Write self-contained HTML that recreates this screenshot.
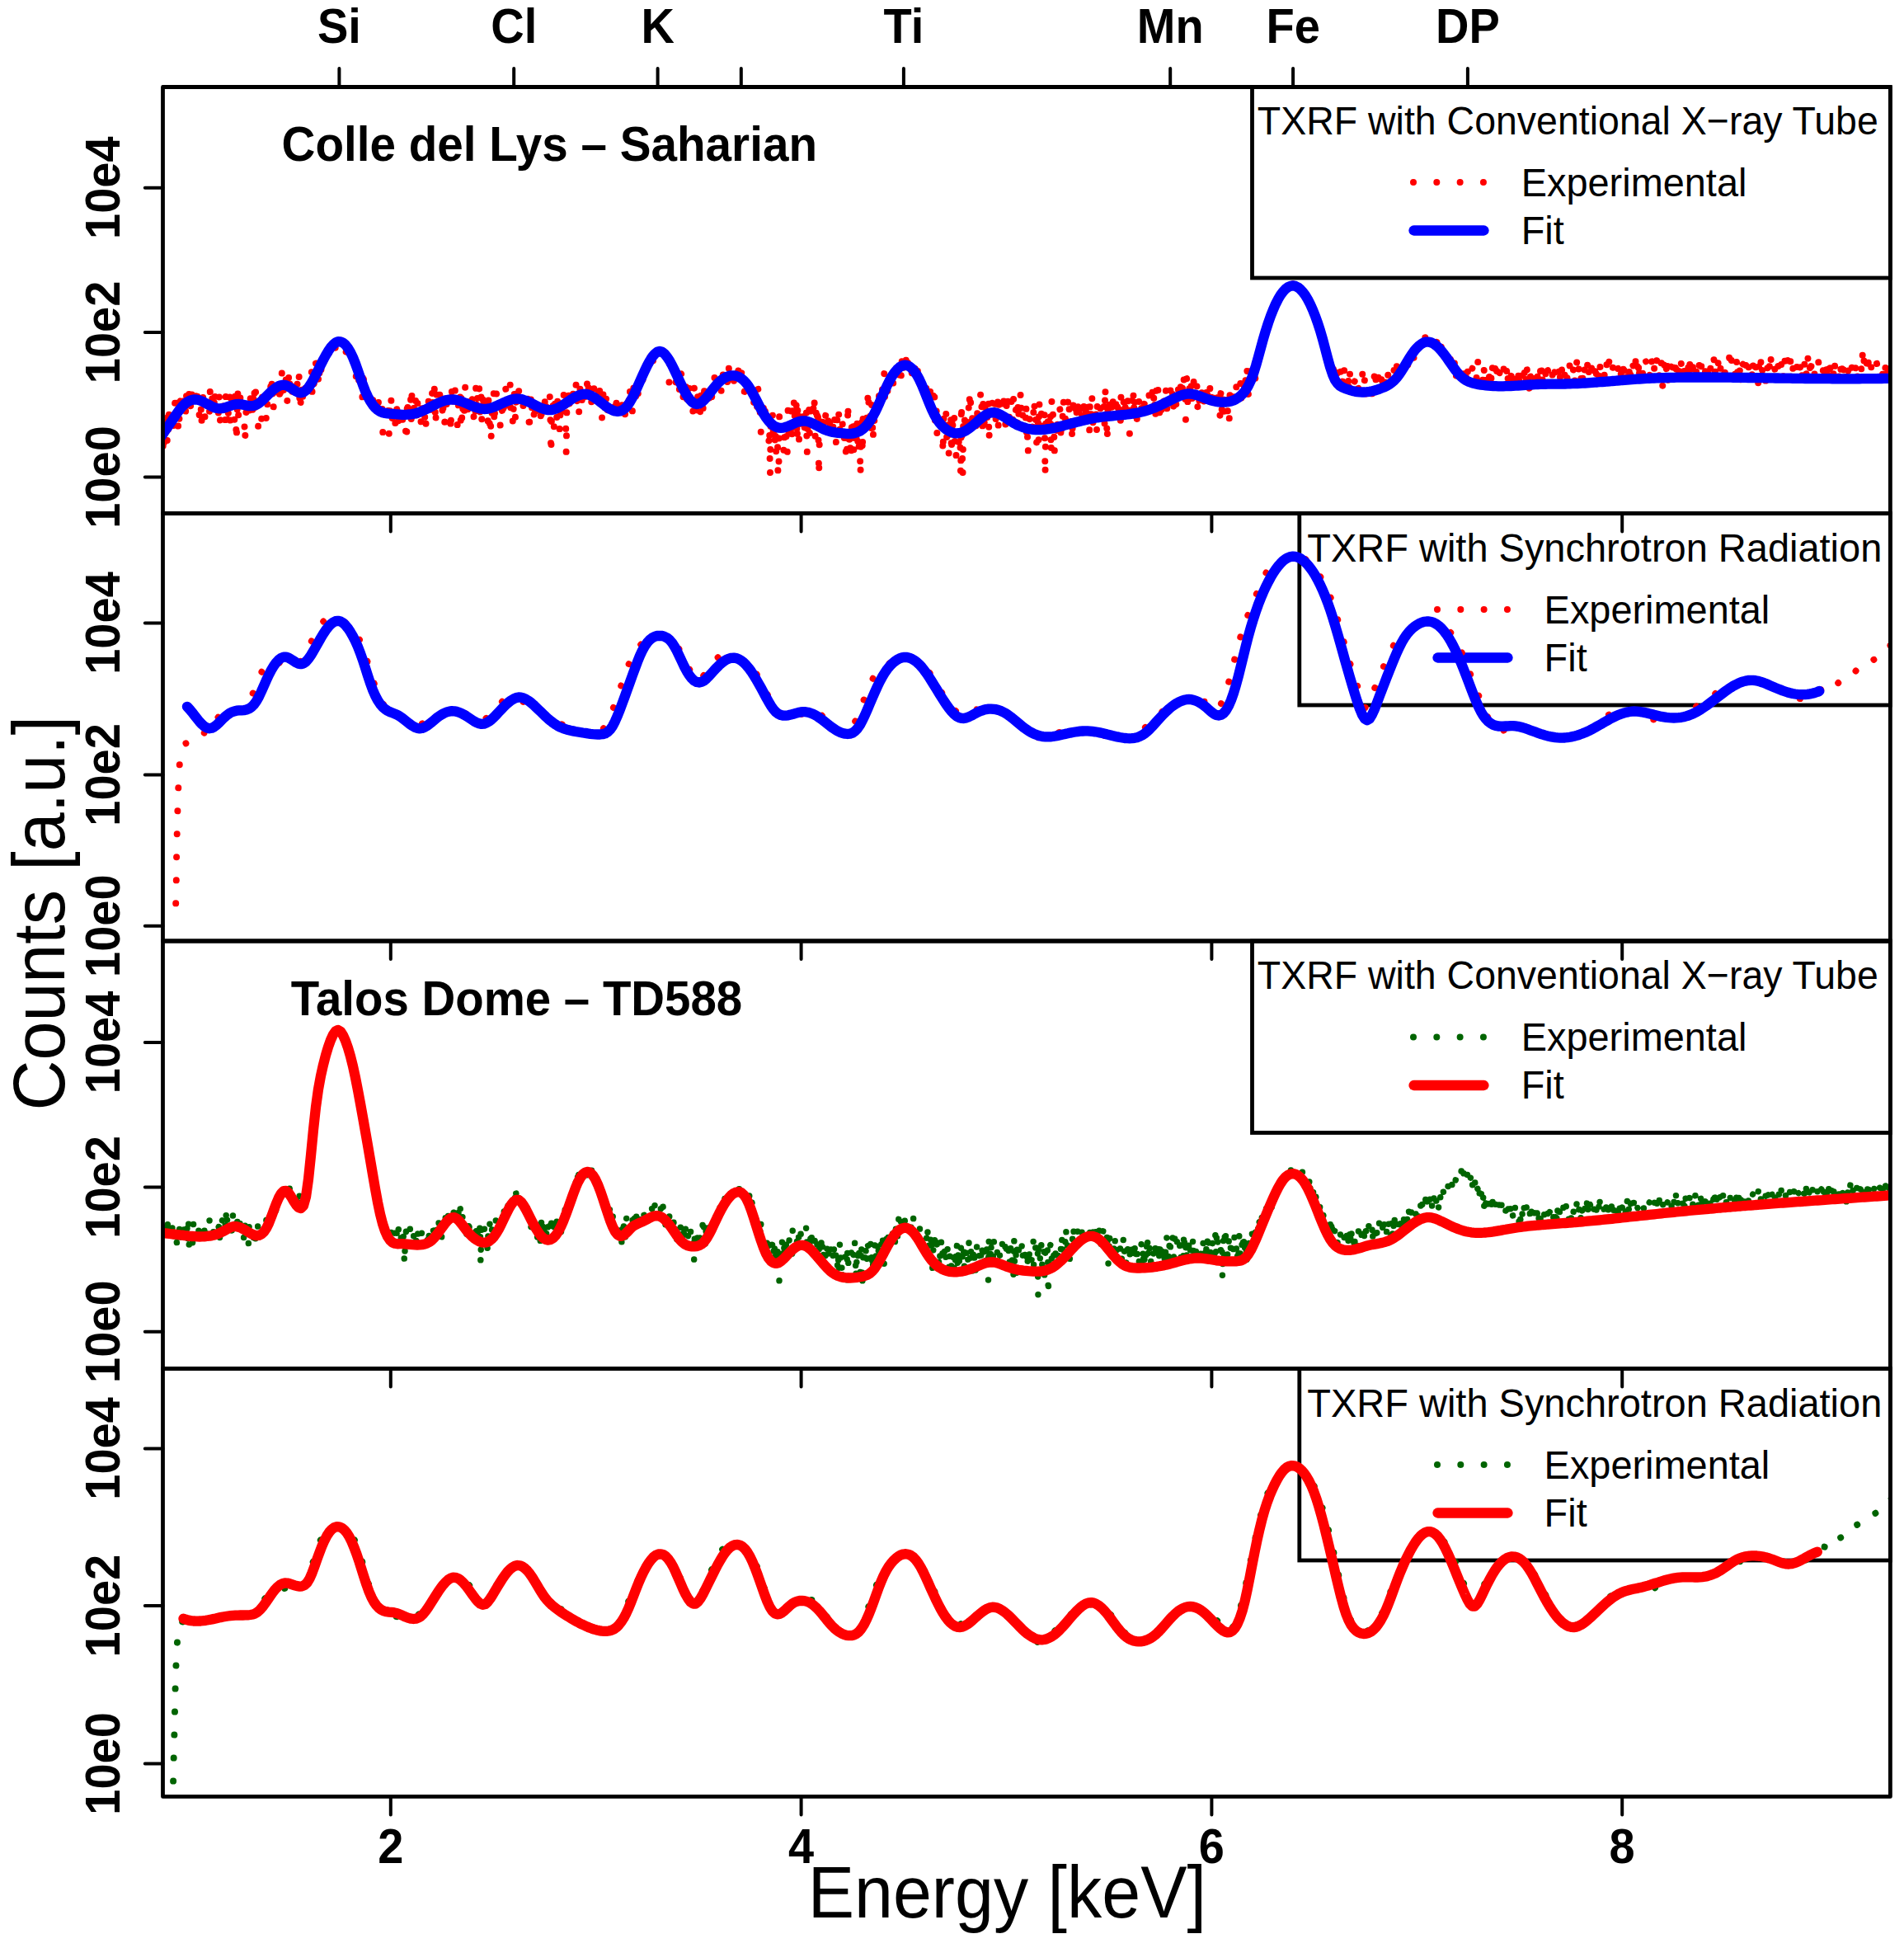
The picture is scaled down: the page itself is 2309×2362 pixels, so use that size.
<!DOCTYPE html>
<html lang="en"><head><meta charset="utf-8"><title>TXRF spectra</title>
<style>html,body{margin:0;padding:0;background:#fff}svg{display:block}</style></head>
<body>
<svg width="2309" height="2362" viewBox="0 0 2309 2362">
<defs>
<clipPath id="c0"><rect x="197.5" y="105.5" width="2094.9" height="517.0"/></clipPath>
<clipPath id="c1"><rect x="197.5" y="622.5" width="2094.9" height="518.5"/></clipPath>
<clipPath id="c2"><rect x="197.5" y="1141.0" width="2094.9" height="518.5"/></clipPath>
<clipPath id="c3"><rect x="197.5" y="1659.5" width="2094.9" height="518.9000000000001"/></clipPath>
</defs>
<rect width="2309" height="2362" fill="#fff"/>
<rect x="1518.5" y="105.5" width="773.9000000000001" height="231.5" fill="none" stroke="#000" stroke-width="4.8"/>
<path d="M1714.0 221.0h85" fill="none" stroke="#ff0000" stroke-width="8" stroke-linecap="round" stroke-dasharray="0.01 28.3"/>
<path d="M1714.5 279.5h85" fill="none" stroke="#0000ff" stroke-width="12.3" stroke-linecap="round"/>
<rect x="1575.8" y="622.5" width="716.6000000000001" height="232.5" fill="none" stroke="#000" stroke-width="4.8"/>
<path d="M1743.0 739.0h85" fill="none" stroke="#ff0000" stroke-width="8" stroke-linecap="round" stroke-dasharray="0.01 28.3"/>
<path d="M1743.5 797.5h85" fill="none" stroke="#0000ff" stroke-width="12.3" stroke-linecap="round"/>
<rect x="1518.5" y="1141.0" width="773.9000000000001" height="232.5" fill="none" stroke="#000" stroke-width="4.8"/>
<path d="M1714.0 1257.5h85" fill="none" stroke="#006400" stroke-width="8" stroke-linecap="round" stroke-dasharray="0.01 28.3"/>
<path d="M1714.5 1316.0h85" fill="none" stroke="#ff0000" stroke-width="12.3" stroke-linecap="round"/>
<rect x="1575.8" y="1659.5" width="716.6000000000001" height="232.5" fill="none" stroke="#000" stroke-width="4.8"/>
<path d="M1743.0 1776.0h85" fill="none" stroke="#006400" stroke-width="8" stroke-linecap="round" stroke-dasharray="0.01 28.3"/>
<path d="M1743.5 1834.5h85" fill="none" stroke="#ff0000" stroke-width="12.3" stroke-linecap="round"/>
<g clip-path="url(#c0)"><path d="M195.5 510.3L196.3 517.2L197.1 504.4L197.9 552.1L198.7 552.1L199.5 517.2L200.3 525.7L201.1 504.4L201.9 517.2L202.7 536.7L203.5 499.3L204.3 525.7L205.1 494.8L205.9 504.4L206.7 525.7L207.5 525.7L208.3 525.7L209.1 494.8L209.9 525.7L210.7 510.3L211.5 510.3L212.3 483.9L213.1 487.2L213.9 510.3L214.7 490.8L215.5 487.2L216.3 525.7L217.1 525.7L217.9 483.9L218.7 487.2L219.5 480.8L220.3 490.8L221.1 494.8L221.9 480.8L222.7 499.3L223.5 480.8L224.3 510.3L225.1 499.3L225.9 475.4L226.7 499.3L227.5 472.9L228.3 478.0L229.1 475.4L229.9 490.8L230.7 483.9L231.5 499.3L232.3 483.9L233.1 470.6L233.9 478.0L234.7 487.2L235.5 475.4L236.3 487.2L237.1 487.2L237.9 472.9L238.7 487.2L239.5 478.0L240.3 487.2L241.1 499.3L241.9 504.4L242.7 499.3L243.5 487.2L244.3 517.2L245.1 494.8L245.9 487.2L246.7 470.6L247.5 490.8L248.3 510.3L249.1 487.2L249.9 487.2L250.7 483.9L251.5 487.2L252.3 490.8L253.1 487.2L253.9 504.4L254.7 472.9L255.5 499.3L256.3 475.4L257.1 480.8L257.9 490.8L258.7 490.8L259.5 499.3L260.3 470.6L261.1 487.2L261.9 487.2L262.7 483.9L263.5 483.9L264.3 490.8L265.1 504.4L265.9 480.8L266.7 504.4L267.5 517.2L268.3 510.3L269.1 483.9L269.9 480.8L270.7 494.8L271.5 490.8L272.3 490.8L273.1 510.3L273.9 475.4L274.7 490.8L275.5 517.2L276.3 490.8L277.1 504.4L277.9 499.3L278.7 480.8L279.5 510.3L280.3 480.8L281.1 487.2L281.9 494.8L282.7 494.8L283.5 483.9L284.3 510.3L285.1 472.9L285.9 499.3L286.7 536.7L287.5 504.4L288.3 472.9L289.1 504.4L289.9 487.2L290.7 490.8L291.5 480.8L292.3 478.0L293.1 480.8L293.9 475.4L294.7 490.8L295.5 490.8L296.3 510.3L297.1 536.7L297.9 510.3L298.7 494.8L299.5 499.3L300.3 499.3L301.1 504.4L301.9 480.8L302.7 504.4L303.5 487.2L304.3 470.6L305.1 499.3L305.9 490.8L306.7 504.4L307.5 483.9L308.3 466.4L309.1 499.3L309.9 470.6L310.7 490.8L311.5 483.9L312.3 494.8L313.1 517.2L313.9 494.8L314.7 490.8L315.5 480.8L316.3 472.9L317.1 510.3L317.9 480.8L318.7 490.8L319.5 478.0L320.3 478.0L321.1 490.8L321.9 478.0L322.7 510.3L323.5 470.6L324.3 490.8L325.1 487.2L325.9 480.8L326.7 475.4L327.5 478.0L328.3 468.4L329.1 480.8L329.9 457.5L330.7 490.8L331.5 499.3L332.3 470.6L333.1 487.2L333.9 472.9L334.7 466.4L335.5 466.4L336.3 460.8L337.1 462.5L337.9 466.4L338.7 468.4L339.5 490.8L340.3 470.6L341.1 472.9L341.9 449.0L342.7 466.4L343.5 472.9L344.3 472.9L345.1 470.6L345.9 453.0L346.7 459.1L347.5 470.6L348.3 487.2L349.1 464.4L349.9 460.8L350.7 447.7L351.5 466.4L352.3 480.8L353.1 478.0L353.9 457.5L354.7 487.2L355.5 468.4L356.3 475.4L357.1 468.4L357.9 475.4L358.7 460.8L359.5 468.4L360.3 462.5L361.1 475.4L361.9 470.6L362.7 455.9L363.5 490.8L364.3 499.3L365.1 472.9L365.9 466.4L366.7 490.8L367.5 470.6L368.3 464.4L369.1 472.9L369.9 472.9L370.7 466.4L371.5 475.4L372.3 464.4L373.1 466.4L373.9 468.4L374.7 468.4L375.5 472.9L376.3 470.6L377.1 466.4L377.9 449.0L378.7 480.8L379.5 483.9L380.3 468.4L381.1 462.5L381.9 460.8L382.7 439.0L383.5 444.2L384.3 455.9L385.1 454.4L385.9 462.5L386.7 442.0L387.5 454.4L388.3 447.7L389.1 457.5L389.9 435.2L390.7 431.1L391.5 429.5L392.3 428.7L393.1 430.3L393.9 437.1L394.7 429.5L395.5 420.7L396.3 434.4L397.1 421.9L397.9 425.9L398.7 422.6L399.5 432.7L400.3 416.1L401.1 433.5L401.9 421.9L402.7 421.3L403.5 416.7L404.3 414.6L405.1 412.6L405.9 405.5L406.7 421.9L407.5 417.8L408.3 413.1L409.1 422.6L409.9 408.4L410.7 420.1L411.5 414.1L412.3 414.1L413.1 415.6L413.9 407.5L414.7 420.1L415.5 423.2L416.3 408.8L417.1 419.5L417.9 419.5L418.7 426.6L419.5 427.3L420.3 422.6L421.1 424.5L421.9 423.2L422.7 418.9L423.5 418.4L424.3 428.0L425.1 423.8L425.9 428.0L426.7 420.1L427.5 434.4L428.3 442.0L429.1 442.0L429.9 430.3L430.7 437.1L431.5 462.5L432.3 444.2L433.1 446.5L433.9 445.3L434.7 472.9L435.5 443.1L436.3 454.4L437.1 445.3L437.9 462.5L438.7 457.5L439.5 483.9L440.3 445.3L441.1 462.5L441.9 472.9L442.7 468.4L443.5 468.4L444.3 478.0L445.1 478.0L445.9 490.8L446.7 483.9L447.5 487.2L448.3 470.6L449.1 483.9L449.9 483.9L450.7 494.8L451.5 499.3L452.3 483.9L453.1 487.2L453.9 487.2L454.7 478.0L455.5 504.4L456.3 504.4L457.1 487.2L457.9 478.0L458.7 490.8L459.5 480.8L460.3 499.3L461.1 494.8L461.9 487.2L462.7 499.3L463.5 494.8L464.3 525.7L465.1 510.3L465.9 499.3L466.7 494.8L467.5 499.3L468.3 510.3L469.1 490.8L469.9 499.3L470.7 494.8L471.5 525.7L472.3 525.7L473.1 494.8L473.9 478.0L474.7 490.8L475.5 510.3L476.3 490.8L477.1 517.2L477.9 494.8L478.7 494.8L479.5 517.2L480.3 510.3L481.1 494.8L481.9 499.3L482.7 517.2L483.5 504.4L484.3 504.4L485.1 510.3L485.9 517.2L486.7 504.4L487.5 494.8L488.3 510.3L489.1 510.3L489.9 494.8L490.7 504.4L491.5 499.3L492.3 536.7L493.1 536.7L493.9 480.8L494.7 499.3L495.5 510.3L496.3 494.8L497.1 494.8L497.9 478.0L498.7 510.3L499.5 478.0L500.3 494.8L501.1 499.3L501.9 494.8L502.7 504.4L503.5 494.8L504.3 480.8L505.1 483.9L505.9 510.3L506.7 480.8L507.5 499.3L508.3 494.8L509.1 490.8L509.9 494.8L510.7 517.2L511.5 504.4L512.3 490.8L513.1 483.9L513.9 504.4L514.7 517.2L515.5 499.3L516.3 517.2L517.1 504.4L517.9 490.8L518.7 499.3L519.5 480.8L520.3 504.4L521.1 483.9L521.9 499.3L522.7 490.8L523.5 494.8L524.3 468.4L525.1 504.4L525.9 480.8L526.7 468.4L527.5 490.8L528.3 517.2L529.1 483.9L529.9 472.9L530.7 470.6L531.5 470.6L532.3 480.8L533.1 475.4L533.9 487.2L534.7 494.8L535.5 499.3L536.3 494.8L537.1 510.3L537.9 475.4L538.7 487.2L539.5 525.7L540.3 472.9L541.1 475.4L541.9 499.3L542.7 487.2L543.5 483.9L544.3 483.9L545.1 483.9L545.9 494.8L546.7 525.7L547.5 464.4L548.3 487.2L549.1 494.8L549.9 478.0L550.7 470.6L551.5 478.0L552.3 466.4L553.1 470.6L553.9 483.9L554.7 517.2L555.5 510.3L556.3 472.9L557.1 478.0L557.9 478.0L558.7 510.3L559.5 480.8L560.3 510.3L561.1 490.8L561.9 510.3L562.7 510.3L563.5 483.9L564.3 466.4L565.1 494.8L565.9 494.8L566.7 483.9L567.5 499.3L568.3 480.8L569.1 490.8L569.9 490.8L570.7 499.3L571.5 490.8L572.3 487.2L573.1 480.8L573.9 487.2L574.7 510.3L575.5 490.8L576.3 510.3L577.1 470.6L577.9 494.8L578.7 472.9L579.5 504.4L580.3 490.8L581.1 470.6L581.9 494.8L582.7 504.4L583.5 480.8L584.3 510.3L585.1 494.8L585.9 472.9L586.7 504.4L587.5 490.8L588.3 487.2L589.1 499.3L589.9 480.8L590.7 478.0L591.5 517.2L592.3 483.9L593.1 494.8L593.9 517.2L594.7 490.8L595.5 536.7L596.3 504.4L597.1 494.8L597.9 494.8L598.7 475.4L599.5 517.2L600.3 490.8L601.1 483.9L601.9 475.4L602.7 490.8L603.5 494.8L604.3 494.8L605.1 499.3L605.9 490.8L606.7 517.2L607.5 517.2L608.3 494.8L609.1 499.3L609.9 483.9L610.7 499.3L611.5 483.9L612.3 494.8L613.1 470.6L613.9 475.4L614.7 483.9L615.5 478.0L616.3 478.0L617.1 490.8L617.9 487.2L618.7 466.4L619.5 504.4L620.3 478.0L621.1 470.6L621.9 517.2L622.7 494.8L623.5 472.9L624.3 487.2L625.1 510.3L625.9 487.2L626.7 490.8L627.5 494.8L628.3 480.8L629.1 475.4L629.9 464.4L630.7 470.6L631.5 478.0L632.3 487.2L633.1 478.0L633.9 483.9L634.7 494.8L635.5 494.8L636.3 483.9L637.1 490.8L637.9 478.0L638.7 480.8L639.5 472.9L640.3 487.2L641.1 494.8L641.9 525.7L642.7 490.8L643.5 490.8L644.3 475.4L645.1 494.8L645.9 487.2L646.7 504.4L647.5 504.4L648.3 487.2L649.1 499.3L649.9 487.2L650.7 499.3L651.5 494.8L652.3 490.8L653.1 483.9L653.9 499.3L654.7 487.2L655.5 499.3L656.3 517.2L657.1 483.9L657.9 490.8L658.7 499.3L659.5 504.4L660.3 499.3L661.1 478.0L661.9 494.8L662.7 490.8L663.5 494.8L664.3 490.8L665.1 490.8L665.9 490.8L666.7 478.0L667.5 510.3L668.3 552.1L669.1 494.8L669.9 499.3L670.7 490.8L671.5 517.2L672.3 517.2L673.1 483.9L673.9 487.2L674.7 499.3L675.5 510.3L676.3 480.8L677.1 475.4L677.9 483.9L678.7 525.7L679.5 499.3L680.3 487.2L681.1 494.8L681.9 499.3L682.7 490.8L683.5 475.4L684.3 494.8L685.1 487.2L685.9 499.3L686.7 552.1L687.5 487.2L688.3 490.8L689.1 487.2L689.9 470.6L690.7 494.8L691.5 499.3L692.3 475.4L693.1 475.4L693.9 487.2L694.7 480.8L695.5 470.6L696.3 487.2L697.1 478.0L697.9 483.9L698.7 462.5L699.5 480.8L700.3 499.3L701.1 478.0L701.9 499.3L702.7 499.3L703.5 470.6L704.3 490.8L705.1 490.8L705.9 483.9L706.7 468.4L707.5 475.4L708.3 483.9L709.1 470.6L709.9 487.2L710.7 480.8L711.5 475.4L712.3 459.1L713.1 475.4L713.9 468.4L714.7 470.6L715.5 472.9L716.3 480.8L717.1 490.8L717.9 472.9L718.7 475.4L719.5 478.0L720.3 470.6L721.1 480.8L721.9 478.0L722.7 487.2L723.5 483.9L724.3 483.9L725.1 494.8L725.9 478.0L726.7 460.8L727.5 480.8L728.3 472.9L729.1 494.8L729.9 510.3L730.7 487.2L731.5 478.0L732.3 472.9L733.1 472.9L733.9 494.8L734.7 475.4L735.5 490.8L736.3 504.4L737.1 487.2L737.9 490.8L738.7 499.3L739.5 480.8L740.3 504.4L741.1 490.8L741.9 510.3L742.7 510.3L743.5 504.4L744.3 490.8L745.1 480.8L745.9 504.4L746.7 504.4L747.5 487.2L748.3 483.9L749.1 478.0L749.9 494.8L750.7 499.3L751.5 499.3L752.3 490.8L753.1 487.2L753.9 483.9L754.7 499.3L755.5 499.3L756.3 504.4L757.1 510.3L757.9 504.4L758.7 487.2L759.5 494.8L760.3 487.2L761.1 499.3L761.9 494.8L762.7 480.8L763.5 466.4L764.3 480.8L765.1 470.6L765.9 480.8L766.7 504.4L767.5 478.0L768.3 470.6L769.1 478.0L769.9 487.2L770.7 478.0L771.5 483.9L772.3 468.4L773.1 472.9L773.9 478.0L774.7 475.4L775.5 457.5L776.3 457.5L777.1 459.1L777.9 459.1L778.7 459.1L779.5 460.8L780.3 455.9L781.1 443.1L781.9 451.6L782.7 440.0L783.5 442.0L784.3 446.5L785.1 440.0L785.9 443.1L786.7 425.9L787.5 450.2L788.3 425.9L789.1 432.7L789.9 433.5L790.7 430.3L791.5 429.5L792.3 442.0L793.1 433.5L793.9 434.4L794.7 429.5L795.5 427.3L796.3 423.8L797.1 425.2L797.9 426.6L798.7 424.5L799.5 425.2L800.3 420.1L801.1 423.2L801.9 429.5L802.7 428.7L803.5 431.1L804.3 424.5L805.1 433.5L805.9 423.8L806.7 430.3L807.5 425.2L808.3 431.1L809.1 431.1L809.9 426.6L810.7 424.5L811.5 466.4L812.3 436.1L813.1 438.0L813.9 445.3L814.7 445.3L815.5 445.3L816.3 446.5L817.1 449.0L817.9 451.6L818.7 442.0L819.5 464.4L820.3 444.2L821.1 468.4L821.9 455.9L822.7 462.5L823.5 478.0L824.3 466.4L825.1 470.6L825.9 453.0L826.7 454.4L827.5 464.4L828.3 478.0L829.1 490.8L829.9 483.9L830.7 468.4L831.5 480.8L832.3 462.5L833.1 490.8L833.9 490.8L834.7 487.2L835.5 480.8L836.3 462.5L837.1 480.8L837.9 499.3L838.7 499.3L839.5 494.8L840.3 499.3L841.1 483.9L841.9 470.6L842.7 494.8L843.5 487.2L844.3 504.4L845.1 480.8L845.9 475.4L846.7 499.3L847.5 494.8L848.3 499.3L849.1 499.3L849.9 475.4L850.7 494.8L851.5 483.9L852.3 504.4L853.1 483.9L853.9 470.6L854.7 483.9L855.5 483.9L856.3 478.0L857.1 478.0L857.9 475.4L858.7 494.8L859.5 466.4L860.3 483.9L861.1 475.4L861.9 483.9L862.7 487.2L863.5 478.0L864.3 466.4L865.1 466.4L865.9 468.4L866.7 454.4L867.5 472.9L868.3 466.4L869.1 466.4L869.9 459.1L870.7 453.0L871.5 468.4L872.3 468.4L873.1 468.4L873.9 459.1L874.7 475.4L875.5 478.0L876.3 462.5L877.1 449.0L877.9 454.4L878.7 459.1L879.5 464.4L880.3 451.6L881.1 455.9L881.9 468.4L882.7 450.2L883.5 441.0L884.3 454.4L885.1 454.4L885.9 447.7L886.7 453.0L887.5 457.5L888.3 451.6L889.1 444.2L889.9 460.8L890.7 472.9L891.5 466.4L892.3 450.2L893.1 457.5L893.9 460.8L894.7 454.4L895.5 447.7L896.3 459.1L897.1 462.5L897.9 462.5L898.7 455.9L899.5 450.2L900.3 451.6L901.1 457.5L901.9 468.4L902.7 475.4L903.5 470.6L904.3 470.6L905.1 466.4L905.9 460.8L906.7 464.4L907.5 466.4L908.3 472.9L909.1 470.6L909.9 475.4L910.7 475.4L911.5 483.9L912.3 472.9L913.1 475.4L913.9 494.8L914.7 472.9L915.5 490.8L916.3 490.8L917.1 487.2L917.9 499.3L918.7 468.4L919.5 472.9L920.3 478.0L921.1 483.9L921.9 504.4L922.7 525.7L923.5 490.8L924.3 494.8L925.1 504.4L925.9 494.8L926.7 510.3L927.5 510.3L928.3 487.2L929.1 504.4L929.9 499.3L930.7 504.4L931.5 499.3L932.3 536.7L933.1 517.2L933.9 578.5L934.7 510.3L935.5 517.2L936.3 517.2L937.1 499.3L937.9 536.7L938.7 517.2L939.5 536.7L940.3 517.2L941.1 552.1L941.9 517.2L942.7 517.2L943.5 578.5L944.3 578.5L945.1 504.4L945.9 525.7L946.7 504.4L947.5 510.3L948.3 510.3L949.1 525.7L949.9 536.7L950.7 552.1L951.5 517.2L952.3 525.7L953.1 510.3L953.9 552.1L954.7 552.1L955.5 494.8L956.3 525.7L957.1 525.7L957.9 510.3L958.7 499.3L959.5 494.8L960.3 536.7L961.1 494.8L961.9 499.3L962.7 483.9L963.5 510.3L964.3 490.8L965.1 483.9L965.9 494.8L966.7 536.7L967.5 487.2L968.3 504.4L969.1 536.7L969.9 536.7L970.7 510.3L971.5 499.3L972.3 517.2L973.1 504.4L973.9 499.3L974.7 510.3L975.5 525.7L976.3 499.3L977.1 517.2L977.9 499.3L978.7 552.1L979.5 517.2L980.3 517.2L981.1 494.8L981.9 525.7L982.7 517.2L983.5 483.9L984.3 499.3L985.1 504.4L985.9 510.3L986.7 487.2L987.5 478.0L988.3 536.7L989.1 517.2L989.9 494.8L990.7 510.3L991.5 490.8L992.3 517.2L993.1 578.5L993.9 525.7L994.7 510.3L995.5 517.2L996.3 510.3L997.1 504.4L997.9 525.7L998.7 525.7L999.5 499.3L1000.3 494.8L1001.1 504.4L1001.9 499.3L1002.7 517.2M1004.3 510.3L1005.1 525.7L1005.9 517.2L1006.7 504.4L1007.5 525.7L1008.3 525.7L1009.1 517.2L1009.9 525.7L1010.7 510.3L1011.5 499.3L1012.3 510.3L1013.1 510.3L1013.9 536.7L1014.7 525.7L1015.5 504.4L1016.3 525.7L1017.1 499.3L1017.9 525.7L1018.7 517.2L1019.5 517.2L1020.3 517.2L1021.1 504.4L1021.9 517.2L1022.7 525.7L1023.5 536.7L1024.3 525.7L1025.1 525.7L1025.9 552.1L1026.7 536.7L1027.5 552.1L1028.3 487.2L1029.1 536.7L1029.9 525.7L1030.7 552.1L1031.5 536.7L1032.3 552.1L1033.1 499.3M1034.7 517.2L1035.5 552.1L1036.3 510.3L1037.1 517.2L1037.9 510.3L1038.7 536.7L1039.5 510.3L1040.3 536.7L1041.1 552.1L1041.9 536.7L1042.7 536.7L1043.5 578.5L1044.3 499.3L1045.1 499.3L1045.9 552.1L1046.7 494.8L1047.5 510.3L1048.3 499.3L1049.1 510.3L1049.9 510.3L1050.7 510.3L1051.5 499.3L1052.3 480.8L1053.1 499.3L1053.9 475.4M1055.5 504.4L1056.3 525.7L1057.1 490.8L1057.9 510.3L1058.7 536.7L1059.5 504.4L1060.3 510.3L1061.1 504.4L1061.9 510.3L1062.7 480.8L1063.5 499.3L1064.3 490.8L1065.1 483.9L1065.9 478.0L1066.7 499.3L1067.5 490.8L1068.3 480.8L1069.1 483.9L1069.9 470.6L1070.7 490.8L1071.5 464.4L1072.3 453.0L1073.1 483.9L1073.9 468.4L1074.7 468.4L1075.5 472.9L1076.3 475.4L1077.1 457.5L1077.9 460.8L1078.7 457.5L1079.5 459.1L1080.3 455.9L1081.1 454.4L1081.9 446.5L1082.7 457.5L1083.5 468.4L1084.3 447.7L1085.1 464.4L1085.9 446.5L1086.7 462.5L1087.5 451.6L1088.3 464.4L1089.1 453.0L1089.9 454.4L1090.7 447.7L1091.5 441.0L1092.3 444.2L1093.1 460.8L1093.9 431.1L1094.7 441.0L1095.5 438.0L1096.3 447.7L1097.1 439.0L1097.9 446.5L1098.7 436.1L1099.5 451.6L1100.3 450.2L1101.1 438.0L1101.9 442.0L1102.7 453.0L1103.5 447.7L1104.3 449.0L1105.1 449.0L1105.9 453.0L1106.7 449.0L1107.5 454.4L1108.3 446.5L1109.1 451.6L1109.9 445.3L1110.7 457.5L1111.5 454.4L1112.3 457.5L1113.1 446.5L1113.9 439.0L1114.7 468.4L1115.5 464.4L1116.3 457.5L1117.1 478.0L1117.9 462.5L1118.7 464.4L1119.5 475.4L1120.3 466.4L1121.1 475.4L1121.9 483.9L1122.7 478.0L1123.5 468.4L1124.3 483.9L1125.1 480.8L1125.9 494.8L1126.7 490.8L1127.5 490.8L1128.3 470.6L1129.1 472.9L1129.9 504.4L1130.7 510.3L1131.5 475.4L1132.3 483.9L1133.1 470.6L1133.9 510.3L1134.7 499.3L1135.5 490.8L1136.3 525.7L1137.1 510.3L1137.9 510.3L1138.7 510.3L1139.5 517.2L1140.3 517.2L1141.1 517.2L1141.9 499.3L1142.7 504.4L1143.5 552.1L1144.3 510.3L1145.1 499.3L1145.9 517.2L1146.7 494.8L1147.5 504.4L1148.3 536.7L1149.1 517.2L1149.9 504.4L1150.7 552.1L1151.5 525.7L1152.3 504.4L1153.1 504.4L1153.9 552.1L1154.7 499.3L1155.5 517.2L1156.3 517.2L1157.1 499.3L1157.9 536.7M1159.5 552.1L1160.3 525.7L1161.1 517.2L1161.9 517.2L1162.7 536.7L1163.5 525.7L1164.3 525.7L1165.1 578.5L1165.9 487.2L1166.7 536.7L1167.5 578.5L1168.3 504.4L1169.1 499.3L1169.9 510.3L1170.7 517.2L1171.5 525.7L1172.3 499.3L1173.1 499.3L1173.9 517.2L1174.7 494.8L1175.5 475.4L1176.3 499.3L1177.1 487.2L1177.9 525.7L1178.7 517.2L1179.5 499.3L1180.3 504.4L1181.1 510.3L1181.9 504.4L1182.7 517.2L1183.5 525.7L1184.3 494.8L1185.1 499.3L1185.9 517.2L1186.7 517.2L1187.5 499.3L1188.3 499.3L1189.1 478.0L1189.9 499.3L1190.7 490.8L1191.5 517.2L1192.3 487.2L1193.1 494.8L1193.9 517.2L1194.7 490.8L1195.5 504.4L1196.3 510.3L1197.1 510.3L1197.9 487.2L1198.7 483.9L1199.5 536.7L1200.3 490.8L1201.1 487.2L1201.9 490.8L1202.7 483.9L1203.5 490.8L1204.3 483.9L1205.1 494.8L1205.9 510.3L1206.7 487.2L1207.5 510.3L1208.3 494.8L1209.1 490.8L1209.9 483.9L1210.7 517.2L1211.5 490.8L1212.3 487.2L1213.1 490.8L1213.9 494.8L1214.7 483.9L1215.5 499.3L1216.3 487.2L1217.1 483.9L1217.9 494.8L1218.7 504.4L1219.5 517.2L1220.3 504.4L1221.1 475.4L1221.9 480.8L1222.7 494.8L1223.5 510.3L1224.3 499.3L1225.1 494.8L1225.9 499.3L1226.7 483.9L1227.5 487.2L1228.3 510.3L1229.1 483.9L1229.9 494.8L1230.7 504.4L1231.5 499.3L1232.3 494.8L1233.1 490.8L1233.9 517.2L1234.7 483.9L1235.5 504.4L1236.3 494.8L1237.1 487.2L1237.9 472.9L1238.7 504.4L1239.5 494.8L1240.3 504.4L1241.1 517.2L1241.9 525.7L1242.7 504.4L1243.5 525.7L1244.3 487.2L1245.1 536.7L1245.9 525.7L1246.7 552.1L1247.5 510.3L1248.3 499.3L1249.1 517.2L1249.9 517.2L1250.7 517.2L1251.5 525.7L1252.3 525.7L1253.1 494.8L1253.9 510.3L1254.7 487.2L1255.5 487.2L1256.3 517.2L1257.1 536.7L1257.9 517.2L1258.7 510.3L1259.5 536.7L1260.3 483.9L1261.1 517.2L1261.9 504.4L1262.7 494.8L1263.5 525.7L1264.3 525.7L1265.1 510.3L1265.9 510.3L1266.7 499.3L1267.5 578.5L1268.3 499.3L1269.1 499.3L1269.9 499.3L1270.7 510.3L1271.5 517.2L1272.3 525.7L1273.1 499.3L1273.9 494.8L1274.7 552.1L1275.5 480.8L1276.3 494.8L1277.1 504.4L1277.9 504.4L1278.7 552.1L1279.5 510.3L1280.3 525.7L1281.1 525.7L1281.9 504.4L1282.7 517.2L1283.5 494.8L1284.3 494.8L1285.1 494.8L1285.9 499.3L1286.7 536.7L1287.5 499.3L1288.3 499.3L1289.1 510.3L1289.9 483.9L1290.7 490.8L1291.5 504.4L1292.3 510.3L1293.1 525.7L1293.9 517.2L1294.7 504.4L1295.5 478.0L1296.3 490.8L1297.1 504.4L1297.9 504.4L1298.7 517.2L1299.5 504.4L1300.3 536.7L1301.1 494.8L1301.9 487.2L1302.7 510.3L1303.5 517.2L1304.3 490.8L1305.1 483.9L1305.9 510.3L1306.7 510.3L1307.5 487.2L1308.3 504.4L1309.1 483.9L1309.9 490.8L1310.7 504.4L1311.5 494.8L1312.3 504.4L1313.1 490.8L1313.9 499.3L1314.7 487.2L1315.5 499.3L1316.3 504.4L1317.1 499.3L1317.9 504.4L1318.7 510.3L1319.5 483.9L1320.3 490.8L1321.1 525.7L1321.9 487.2L1322.7 483.9L1323.5 504.4L1324.3 480.8L1325.1 525.7L1325.9 499.3L1326.7 504.4L1327.5 504.4L1328.3 499.3L1329.1 499.3L1329.9 525.7L1330.7 490.8L1331.5 504.4L1332.3 510.3L1333.1 494.8L1333.9 504.4L1334.7 490.8L1335.5 494.8L1336.3 510.3L1337.1 499.3L1337.9 504.4L1338.7 490.8L1339.5 517.2L1340.3 466.4L1341.1 510.3L1341.9 504.4L1342.7 536.7L1343.5 494.8L1344.3 480.8L1345.1 480.8L1345.9 499.3L1346.7 490.8L1347.5 494.8L1348.3 490.8L1349.1 504.4L1349.9 480.8L1350.7 483.9L1351.5 494.8L1352.3 510.3L1353.1 494.8L1353.9 478.0L1354.7 490.8L1355.5 494.8L1356.3 510.3L1357.1 483.9L1357.9 494.8L1358.7 517.2L1359.5 478.0L1360.3 504.4L1361.1 494.8L1361.9 499.3L1362.7 487.2L1363.5 494.8L1364.3 504.4L1365.1 480.8L1365.9 483.9L1366.7 490.8L1367.5 487.2L1368.3 478.0L1369.1 490.8L1369.9 525.7L1370.7 487.2L1371.5 494.8L1372.3 494.8L1373.1 483.9L1373.9 494.8L1374.7 472.9L1375.5 504.4L1376.3 487.2L1377.1 510.3L1377.9 494.8L1378.7 510.3L1379.5 490.8L1380.3 490.8L1381.1 483.9L1381.9 504.4L1382.7 504.4L1383.5 499.3L1384.3 494.8L1385.1 504.4L1385.9 510.3L1386.7 480.8L1387.5 490.8L1388.3 487.2L1389.1 483.9L1389.9 480.8L1390.7 483.9L1391.5 494.8L1392.3 499.3L1393.1 475.4L1393.9 483.9L1394.7 490.8L1395.5 490.8L1396.3 490.8L1397.1 478.0L1397.9 472.9L1398.7 504.4L1399.5 472.9L1400.3 494.8L1401.1 510.3L1401.9 480.8L1402.7 466.4L1403.5 475.4L1404.3 468.4L1405.1 494.8L1405.9 494.8L1406.7 510.3L1407.5 480.8L1408.3 499.3L1409.1 480.8L1409.9 480.8L1410.7 480.8L1411.5 487.2L1412.3 483.9L1413.1 490.8L1413.9 472.9L1414.7 470.6L1415.5 504.4L1416.3 494.8L1417.1 483.9L1417.9 472.9L1418.7 494.8L1419.5 470.6L1420.3 464.4L1421.1 478.0L1421.9 475.4L1422.7 499.3L1423.5 487.2L1424.3 483.9L1425.1 487.2L1425.9 480.8L1426.7 499.3L1427.5 487.2L1428.3 462.5L1429.1 475.4L1429.9 478.0L1430.7 470.6L1431.5 462.5L1432.3 483.9L1433.1 480.8L1433.9 472.9L1434.7 451.6L1435.5 457.5L1436.3 470.6L1437.1 468.4L1437.9 510.3L1438.7 455.9L1439.5 462.5L1440.3 487.2L1441.1 478.0L1441.9 483.9L1442.7 460.8L1443.5 472.9L1444.3 472.9L1445.1 462.5L1445.9 483.9L1446.7 466.4L1447.5 459.1L1448.3 483.9L1449.1 460.8L1449.9 460.8L1450.7 459.1L1451.5 468.4L1452.3 494.8L1453.1 478.0L1453.9 475.4L1454.7 494.8L1455.5 487.2L1456.3 480.8L1457.1 478.0L1457.9 470.6L1458.7 483.9L1459.5 480.8L1460.3 487.2L1461.1 470.6L1461.9 468.4L1462.7 468.4L1463.5 490.8L1464.3 466.4L1465.1 487.2L1465.9 472.9L1466.7 490.8L1467.5 466.4L1468.3 462.5L1469.1 483.9L1469.9 483.9L1470.7 470.6L1471.5 483.9L1472.3 472.9L1473.1 470.6L1473.9 487.2L1474.7 487.2L1475.5 472.9L1476.3 475.4L1477.1 483.9L1477.9 480.8L1478.7 487.2L1479.5 504.4L1480.3 478.0L1481.1 472.9L1481.9 504.4L1482.7 483.9L1483.5 478.0L1484.3 499.3L1485.1 478.0L1485.9 480.8L1486.7 490.8L1487.5 483.9L1488.3 483.9L1489.1 504.4L1489.9 483.9L1490.7 510.3L1491.5 478.0L1492.3 472.9L1493.1 490.8L1493.9 480.8L1494.7 472.9L1495.5 483.9L1496.3 475.4L1497.1 472.9L1497.9 480.8L1498.7 478.0L1499.5 466.4L1500.3 472.9L1501.1 468.4L1501.9 487.2L1502.7 487.2L1503.5 480.8L1504.3 464.4L1505.1 487.2L1505.9 466.4L1506.7 464.4L1507.5 460.8L1508.3 468.4L1509.1 478.0L1509.9 466.4L1510.7 459.1L1511.5 466.4L1512.3 449.0L1513.1 459.1L1513.9 478.0L1514.7 450.2L1515.5 454.4L1516.3 462.5L1517.1 457.5L1517.9 454.4L1518.7 453.0L1519.5 462.5L1520.3 450.2L1521.1 450.2L1521.9 449.0L1522.7 466.4L1523.5 445.3L1524.3 426.6L1525.1 445.3L1525.9 428.0L1526.7 428.7L1527.5 423.2L1528.3 418.4L1529.1 423.8L1529.9 416.7L1530.7 416.7L1531.5 405.9L1532.3 403.5L1533.1 403.9L1533.9 403.5L1534.7 408.0L1535.5 391.1L1536.3 391.1L1537.1 396.2L1537.9 397.8L1538.7 387.2L1539.5 382.7L1540.3 379.1L1541.1 384.3L1541.9 382.2L1542.7 375.6L1543.5 378.5L1544.3 372.0L1545.1 372.4L1545.9 372.0L1546.7 372.9L1547.5 370.7L1548.3 363.7L1549.1 365.3L1549.9 365.4L1550.7 360.8L1551.5 359.3L1552.3 356.0L1553.1 360.9L1553.9 357.4L1554.7 352.9L1555.5 355.4L1556.3 352.2L1557.1 350.5L1557.9 349.0L1558.7 350.7L1559.5 353.2L1560.3 346.8L1561.1 346.2L1561.9 352.0L1562.7 347.3L1563.5 347.1L1564.3 347.4L1565.1 344.1L1565.9 343.1L1566.7 346.4L1567.5 342.9L1568.3 350.0L1569.1 345.5L1569.9 342.8L1570.7 344.8L1571.5 345.1L1572.3 350.3L1573.1 348.3L1573.9 349.6L1574.7 349.4L1575.5 348.6L1576.3 347.4L1577.1 349.0L1577.9 351.3L1578.7 354.3L1579.5 353.3L1580.3 352.7L1581.1 354.1L1581.9 357.7L1582.7 356.7L1583.5 359.5L1584.3 356.7L1585.1 362.5L1585.9 364.0L1586.7 363.7L1587.5 366.0L1588.3 367.6L1589.1 367.1L1589.9 371.0L1590.7 375.6L1591.5 377.9L1592.3 381.8L1593.1 380.7L1593.9 379.3L1594.7 380.1L1595.5 384.0L1596.3 388.4L1597.1 382.9L1597.9 390.3L1598.7 394.6L1599.5 396.2L1600.3 404.3L1601.1 400.5L1601.9 400.9L1602.7 410.2L1603.5 409.7L1604.3 406.7L1605.1 420.7L1605.9 415.6L1606.7 416.1L1607.5 423.8L1608.3 419.5L1609.1 421.9L1609.9 425.2L1610.7 443.1L1611.5 437.1L1612.3 450.2L1613.1 451.6L1613.9 443.1L1614.7 457.5L1615.5 447.7L1616.3 445.3L1617.1 447.7L1617.9 453.0L1618.7 454.4L1619.5 446.5L1620.3 468.4L1621.1 451.6L1621.9 453.0L1622.7 450.2L1623.5 462.5L1624.3 460.8L1625.1 460.8L1625.9 450.2L1626.7 457.5L1627.5 470.6L1628.3 462.5L1629.1 454.4L1629.9 442.0L1630.7 462.5L1631.5 470.6L1632.3 460.8L1633.1 470.6L1633.9 460.8L1634.7 478.0L1635.5 451.6L1636.3 475.4L1637.1 451.6L1637.9 470.6L1638.7 475.4L1639.5 470.6L1640.3 475.4L1641.1 460.8L1641.9 464.4L1642.7 462.5L1643.5 459.1L1644.3 457.5L1645.1 470.6L1645.9 470.6L1646.7 466.4L1647.5 472.9L1648.3 475.4L1649.1 475.4L1649.9 472.9L1650.7 472.9L1651.5 466.4L1652.3 453.0L1653.1 470.6L1653.9 466.4L1654.7 462.5L1655.5 455.9L1656.3 478.0L1657.1 475.4L1657.9 472.9L1658.7 462.5L1659.5 466.4L1660.3 480.8L1661.1 475.4L1661.9 475.4L1662.7 468.4L1663.5 470.6L1664.3 480.8L1665.1 468.4L1665.9 462.5L1666.7 455.9L1667.5 470.6L1668.3 459.1L1669.1 466.4L1669.9 468.4L1670.7 472.9L1671.5 457.5L1672.3 462.5L1673.1 470.6L1673.9 464.4L1674.7 466.4L1675.5 457.5L1676.3 472.9L1677.1 460.8L1677.9 464.4L1678.7 466.4L1679.5 455.9L1680.3 464.4L1681.1 462.5L1681.9 453.0L1682.7 462.5L1683.5 451.6L1684.3 455.9L1685.1 455.9L1685.9 457.5L1686.7 460.8L1687.5 468.4L1688.3 460.8L1689.1 468.4L1689.9 453.0L1690.7 447.7L1691.5 449.0L1692.3 459.1L1693.1 451.6L1693.9 444.2L1694.7 455.9L1695.5 444.2L1696.3 449.0L1697.1 445.3L1697.9 434.4L1698.7 450.2L1699.5 449.0L1700.3 444.2L1701.1 441.0L1701.9 438.0L1702.7 443.1L1703.5 444.2L1704.3 443.1L1705.1 434.4L1705.9 439.0L1706.7 431.1L1707.5 446.5L1708.3 431.1L1709.1 428.7L1709.9 431.9L1710.7 426.6L1711.5 417.8L1712.3 425.9L1713.1 426.6L1713.9 429.5L1714.7 435.2L1715.5 427.3L1716.3 421.9L1717.1 423.8L1717.9 428.0L1718.7 415.6L1719.5 411.1L1720.3 413.1L1721.1 408.0L1721.9 414.6L1722.7 420.1L1723.5 412.1L1724.3 409.3L1725.1 410.7L1725.9 410.2L1726.7 415.1L1727.5 410.7L1728.3 408.4L1729.1 415.6L1729.9 416.1L1730.7 415.1L1731.5 418.9L1732.3 413.6L1733.1 412.1L1733.9 408.4L1734.7 417.2L1735.5 409.3L1736.3 416.7L1737.1 418.9L1737.9 417.8L1738.7 419.5L1739.5 408.4L1740.3 411.6L1741.1 408.0L1741.9 417.8L1742.7 413.1L1743.5 416.7L1744.3 419.5L1745.1 421.3L1745.9 418.9L1746.7 423.2L1747.5 416.7L1748.3 427.3L1749.1 423.8L1749.9 428.7L1750.7 425.9L1751.5 433.5L1752.3 428.0L1753.1 429.5L1753.9 431.9L1754.7 427.3L1755.5 424.5L1756.3 431.9L1757.1 431.9L1757.9 432.7L1758.7 433.5L1759.5 438.0L1760.3 438.0L1761.1 449.0L1761.9 451.6L1762.7 450.2L1763.5 446.5L1764.3 434.4L1765.1 436.1L1765.9 455.9L1766.7 451.6L1767.5 443.1L1768.3 449.0L1769.1 447.7L1769.9 455.9L1770.7 447.7L1771.5 460.8L1772.3 454.4L1773.1 444.2L1773.9 450.2L1774.7 457.5L1775.5 446.5L1776.3 453.0L1777.1 447.7L1777.9 459.1L1778.7 447.7L1779.5 442.0L1780.3 460.8L1781.1 455.9L1781.9 454.4L1782.7 453.0L1783.5 454.4L1784.3 449.0L1785.1 447.7L1785.9 445.3L1786.7 451.6L1787.5 449.0L1788.3 453.0L1789.1 449.0L1789.9 450.2L1790.7 459.1L1791.5 462.5L1792.3 437.1L1793.1 450.2L1793.9 450.2L1794.7 462.5L1795.5 462.5L1796.3 464.4L1797.1 450.2L1797.9 457.5L1798.7 466.4L1799.5 446.5L1800.3 455.9L1801.1 462.5L1801.9 454.4L1802.7 464.4L1803.5 454.4L1804.3 449.0L1805.1 455.9L1805.9 455.9L1806.7 460.8L1807.5 470.6L1808.3 457.5L1809.1 466.4L1809.9 445.3L1810.7 454.4L1811.5 459.1L1812.3 453.0L1813.1 446.5L1813.9 454.4L1814.7 462.5L1815.5 444.2L1816.3 454.4L1817.1 459.1L1817.9 454.4L1818.7 451.6L1819.5 451.6L1820.3 449.0L1821.1 459.1L1821.9 455.9L1822.7 453.0L1823.5 446.5L1824.3 454.4L1825.1 451.6L1825.9 457.5L1826.7 447.7L1827.5 451.6L1828.3 468.4L1829.1 445.3L1829.9 446.5L1830.7 453.0L1831.5 454.4L1832.3 457.5L1833.1 453.0L1833.9 453.0L1834.7 468.4L1835.5 453.0L1836.3 451.6L1837.1 455.9L1837.9 453.0L1838.7 466.4L1839.5 453.0L1840.3 449.0L1841.1 447.7L1841.9 472.9L1842.7 453.0L1843.5 459.1L1844.3 453.0L1845.1 457.5L1845.9 453.0L1846.7 460.8L1847.5 451.6L1848.3 455.9L1849.1 449.0L1849.9 442.0L1850.7 460.8L1851.5 441.0L1852.3 459.1L1853.1 468.4L1853.9 451.6L1854.7 475.4L1855.5 454.4L1856.3 457.5L1857.1 453.0L1857.9 450.2L1858.7 454.4L1859.5 455.9L1860.3 454.4L1861.1 462.5L1861.9 454.4L1862.7 451.6L1863.5 460.8L1864.3 453.0L1865.1 462.5L1865.9 459.1L1866.7 454.4L1867.5 459.1L1868.3 445.3L1869.1 459.1L1869.9 441.0L1870.7 460.8L1871.5 464.4L1872.3 466.4L1873.1 462.5L1873.9 449.0L1874.7 459.1L1875.5 451.6L1876.3 443.1L1877.1 449.0L1877.9 451.6L1878.7 447.7L1879.5 450.2L1880.3 466.4L1881.1 464.4L1881.9 445.3L1882.7 455.9L1883.5 442.0L1884.3 450.2L1885.1 453.0L1885.9 449.0L1886.7 447.7L1887.5 444.2L1888.3 454.4L1889.1 457.5L1889.9 455.9L1890.7 446.5L1891.5 440.0L1892.3 475.4L1893.1 443.1L1893.9 447.7L1894.7 453.0L1895.5 454.4L1896.3 455.9L1897.1 445.3L1897.9 460.8L1898.7 449.0L1899.5 455.9L1900.3 455.9L1901.1 464.4L1901.9 451.6L1902.7 444.2L1903.5 443.1L1904.3 451.6L1905.1 453.0L1905.9 447.7L1906.7 454.4L1907.5 451.6L1908.3 446.5L1909.1 441.0L1909.9 464.4L1910.7 447.7L1911.5 445.3L1912.3 438.0L1913.1 447.7L1913.9 455.9L1914.7 445.3L1915.5 450.2L1916.3 444.2L1917.1 453.0L1917.9 468.4L1918.7 472.9L1919.5 454.4L1920.3 444.2L1921.1 453.0L1921.9 444.2L1922.7 451.6L1923.5 454.4L1924.3 445.3L1925.1 442.0L1925.9 460.8L1926.7 453.0L1927.5 443.1L1928.3 451.6L1929.1 464.4L1929.9 442.0L1930.7 457.5L1931.5 450.2L1932.3 454.4L1933.1 454.4L1933.9 453.0L1934.7 445.3L1935.5 460.8L1936.3 441.0L1937.1 445.3L1937.9 445.3L1938.7 447.7L1939.5 462.5L1940.3 443.1L1941.1 450.2L1941.9 445.3L1942.7 445.3L1943.5 451.6L1944.3 460.8L1945.1 443.1L1945.9 459.1L1946.7 454.4L1947.5 453.0L1948.3 439.0L1949.1 454.4L1949.9 450.2L1950.7 443.1L1951.5 437.1L1952.3 442.0L1953.1 446.5L1953.9 451.6L1954.7 454.4L1955.5 449.0L1956.3 442.0L1957.1 446.5L1957.9 445.3L1958.7 447.7L1959.5 443.1L1960.3 447.7L1961.1 444.2L1961.9 446.5L1962.7 451.6L1963.5 450.2L1964.3 462.5L1965.1 460.8L1965.9 451.6L1966.7 444.2L1967.5 446.5L1968.3 439.0L1969.1 462.5L1969.9 444.2L1970.7 450.2L1971.5 445.3L1972.3 446.5L1973.1 457.5L1973.9 457.5L1974.7 451.6L1975.5 441.0L1976.3 462.5L1977.1 450.2L1977.9 462.5L1978.7 454.4L1979.5 450.2L1980.3 443.1L1981.1 445.3L1981.9 436.1L1982.7 445.3L1983.5 438.0L1984.3 449.0L1985.1 438.0L1985.9 450.2L1986.7 459.1L1987.5 435.2L1988.3 460.8L1989.1 453.0L1989.9 450.2L1990.7 459.1L1991.5 442.0L1992.3 455.9L1993.1 453.0L1993.9 442.0L1994.7 444.2L1995.5 437.1L1996.3 439.0L1997.1 441.0L1997.9 451.6L1998.7 453.0L1999.5 450.2L2000.3 457.5L2001.1 453.0L2001.9 439.0L2002.7 432.7L2003.5 443.1L2004.3 447.7L2005.1 438.0L2005.9 443.1L2006.7 455.9L2007.5 447.7L2008.3 443.1L2009.1 437.1L2009.9 439.0L2010.7 460.8L2011.5 442.0L2012.3 457.5L2013.1 450.2L2013.9 454.4L2014.7 440.0L2015.5 453.0L2016.3 468.4L2017.1 444.2L2017.9 442.0L2018.7 444.2L2019.5 455.9L2020.3 444.2L2021.1 449.0L2021.9 433.5L2022.7 466.4L2023.5 441.0L2024.3 442.0L2025.1 445.3L2025.9 446.5L2026.7 445.3L2027.5 443.1L2028.3 457.5L2029.1 442.0L2029.9 431.9L2030.7 436.1L2031.5 438.0L2032.3 460.8L2033.1 441.0L2033.9 442.0L2034.7 453.0L2035.5 455.9L2036.3 449.0L2037.1 454.4L2037.9 457.5L2038.7 440.0L2039.5 449.0L2040.3 450.2L2041.1 444.2L2041.9 441.0L2042.7 453.0L2043.5 442.0L2044.3 440.0L2045.1 455.9L2045.9 449.0L2046.7 455.9L2047.5 443.1L2048.3 450.2L2049.1 437.1L2049.9 459.1L2050.7 444.2L2051.5 432.7L2052.3 441.0L2053.1 446.5L2053.9 447.7L2054.7 459.1L2055.5 455.9L2056.3 449.0L2057.1 451.6L2057.9 441.0L2058.7 444.2L2059.5 449.0L2060.3 441.0L2061.1 445.3L2061.9 457.5L2062.7 451.6L2063.5 441.0L2064.3 440.0L2065.1 450.2L2065.9 446.5L2066.7 447.7L2067.5 453.0L2068.3 449.0L2069.1 444.2L2069.9 451.6L2070.7 445.3L2071.5 454.4L2072.3 441.0L2073.1 441.0L2073.9 450.2L2074.7 443.1L2075.5 443.1L2076.3 438.0L2077.1 457.5L2077.9 433.5L2078.7 437.1L2079.5 457.5L2080.3 446.5L2081.1 438.0L2081.9 445.3L2082.7 443.1L2083.5 439.0L2084.3 449.0L2085.1 457.5L2085.9 450.2L2086.7 445.3L2087.5 437.1L2088.3 439.0L2089.1 449.0L2089.9 457.5L2090.7 443.1L2091.5 453.0L2092.3 449.0L2093.1 451.6L2093.9 447.7L2094.7 449.0L2095.5 449.0L2096.3 434.4L2097.1 433.5L2097.9 444.2L2098.7 431.9L2099.5 435.2L2100.3 441.0L2101.1 441.0L2101.9 460.8L2102.7 460.8L2103.5 442.0L2104.3 457.5L2105.1 443.1L2105.9 436.1L2106.7 459.1L2107.5 440.0L2108.3 446.5L2109.1 453.0L2109.9 449.0L2110.7 468.4L2111.5 442.0L2112.3 437.1L2113.1 441.0L2113.9 442.0L2114.7 453.0L2115.5 451.6L2116.3 441.0L2117.1 440.0L2117.9 454.4L2118.7 449.0L2119.5 449.0L2120.3 442.0L2121.1 454.4L2121.9 464.4L2122.7 457.5L2123.5 445.3L2124.3 441.0L2125.1 462.5L2125.9 443.1L2126.7 449.0L2127.5 453.0L2128.3 440.0L2129.1 445.3L2129.9 441.0L2130.7 442.0L2131.5 446.5L2132.3 468.4L2133.1 443.1L2133.9 450.2L2134.7 454.4L2135.5 437.1L2136.3 455.9L2137.1 449.0L2137.9 451.6L2138.7 449.0L2139.5 450.2L2140.3 453.0L2141.1 466.4L2141.9 442.0L2142.7 440.0L2143.5 446.5L2144.3 454.4L2145.1 459.1L2145.9 444.2L2146.7 451.6L2147.5 433.5L2148.3 451.6L2149.1 451.6L2149.9 449.0L2150.7 459.1L2151.5 440.0L2152.3 447.7L2153.1 437.1L2153.9 447.7L2154.7 447.7L2155.5 444.2L2156.3 443.1L2157.1 447.7L2157.9 441.0L2158.7 450.2L2159.5 447.7L2160.3 441.0L2161.1 435.2L2161.9 438.0L2162.7 457.5L2163.5 455.9L2164.3 434.4L2165.1 449.0L2165.9 450.2L2166.7 447.7L2167.5 436.1L2168.3 439.0L2169.1 450.2L2169.9 449.0L2170.7 450.2L2171.5 433.5L2172.3 460.8L2173.1 445.3L2173.9 450.2L2174.7 444.2L2175.5 451.6L2176.3 449.0L2177.1 453.0L2177.9 454.4L2178.7 449.0L2179.5 440.0L2180.3 442.0L2181.1 447.7L2181.9 439.0L2182.7 444.2L2183.5 447.7L2184.3 441.0L2185.1 457.5L2185.9 447.7L2186.7 453.0L2187.5 441.0L2188.3 440.0L2189.1 455.9L2189.9 447.7L2190.7 454.4L2191.5 444.2L2192.3 431.1L2193.1 447.7L2193.9 450.2L2194.7 442.0L2195.5 459.1L2196.3 445.3L2197.1 440.0L2197.9 449.0L2198.7 447.7L2199.5 446.5L2200.3 455.9L2201.1 443.1L2201.9 462.5L2202.7 455.9L2203.5 454.4L2204.3 444.2L2205.1 438.0L2205.9 443.1L2206.7 453.0L2207.5 451.6L2208.3 447.7L2209.1 445.3L2209.9 447.7L2210.7 450.2L2211.5 444.2L2212.3 449.0L2213.1 442.0L2213.9 442.0L2214.7 450.2L2215.5 437.1L2216.3 454.4L2217.1 437.1L2217.9 443.1L2218.7 460.8L2219.5 445.3L2220.3 438.0L2221.1 441.0L2221.9 439.0L2222.7 450.2L2223.5 453.0L2224.3 462.5L2225.1 443.1L2225.9 444.2L2226.7 449.0L2227.5 451.6L2228.3 453.0L2229.1 446.5L2229.9 451.6L2230.7 462.5L2231.5 444.2L2232.3 446.5L2233.1 460.8L2233.9 446.5L2234.7 457.5L2235.5 444.2L2236.3 453.0L2237.1 444.2L2237.9 444.2L2238.7 457.5L2239.5 441.0L2240.3 440.0L2241.1 450.2L2241.9 447.7L2242.7 454.4L2243.5 447.7L2244.3 449.0L2245.1 442.0L2245.9 446.5L2246.7 444.2L2247.5 457.5L2248.3 454.4L2249.1 451.6L2249.9 447.7L2250.7 440.0L2251.5 450.2L2252.3 459.1L2253.1 446.5L2253.9 442.0L2254.7 449.0L2255.5 450.2L2256.3 449.0L2257.1 446.5L2257.9 453.0L2258.7 430.3L2259.5 445.3L2260.3 435.2L2261.1 447.7L2261.9 439.0L2262.7 443.1L2263.5 444.2L2264.3 438.0L2265.1 451.6L2265.9 437.1L2266.7 447.7L2267.5 446.5L2268.3 450.2L2269.1 443.1L2269.9 455.9L2270.7 451.6L2271.5 453.0L2272.3 457.5L2273.1 455.9L2273.9 459.1L2274.7 435.2L2275.5 439.0L2276.3 442.0L2277.1 444.2L2277.9 444.2L2278.7 453.0L2279.5 454.4L2280.3 450.2L2281.1 453.0L2281.9 464.4L2282.7 447.7L2283.5 460.8L2284.3 450.2L2285.1 453.0L2285.9 451.6L2286.7 443.1L2287.5 457.5L2288.3 450.2L2289.1 451.6L2289.9 445.3L2290.7 446.5L2291.5 439.0L2292.3 459.1L2293.1 447.7L2293.9 445.3" fill="none" stroke="#ff0000" stroke-width="8" stroke-linecap="round" stroke-linejoin="round" stroke-dasharray="0.01 28"/>
<path d="M185.0 545.0L188.0 540.4L191.0 535.8L194.0 531.4L197.0 527.0L200.0 522.6L203.0 518.3L206.0 513.9L209.0 509.5L212.0 505.0L215.0 500.6L218.0 496.5L221.0 492.8L224.0 489.8L227.0 487.5L230.0 485.8L233.0 484.8L236.0 484.4L239.0 484.6L242.0 485.4L245.0 486.6L248.0 488.1L251.0 489.7L254.0 491.3L257.0 492.9L260.0 494.2L263.0 495.0L266.0 495.4L269.0 495.2L272.0 494.5L275.0 493.6L278.0 492.5L281.0 491.4L284.0 490.6L287.0 490.1L290.0 490.0L293.0 490.4L296.0 491.0L299.0 491.6L302.0 492.1L305.0 492.2L308.0 491.8L311.0 490.7L314.0 488.9L317.0 486.5L320.0 483.7L323.0 480.7L326.0 477.7L329.0 474.7L332.0 472.1L335.0 469.8L338.0 468.1L341.0 467.0L344.0 466.7L347.0 467.3L350.0 468.7L353.0 470.6L356.0 472.6L359.0 474.5L362.0 475.9L365.0 476.3L368.0 475.6L371.0 473.4L374.0 469.9L377.0 465.5L380.0 460.2L383.0 454.4L386.0 448.4L389.0 442.3L392.0 436.4L395.0 430.9L398.0 425.8L401.0 421.4L404.0 418.0L407.0 415.5L410.0 414.2L413.0 414.3L416.0 415.6L419.0 418.2L422.0 422.0L425.0 427.1L428.0 433.4L431.0 440.9L434.0 449.3L437.0 458.0L440.0 466.5L443.0 474.3L446.0 480.8L449.0 486.4L452.0 490.9L455.0 494.4L458.0 497.1L461.0 499.0L464.0 500.2L467.0 500.9L470.0 501.4L473.0 501.7L476.0 501.9L479.0 502.2L482.0 502.4L485.0 502.6L488.0 502.8L491.0 502.8L494.0 502.7L497.0 502.5L500.0 502.1L503.0 501.5L506.0 500.7L509.0 499.7L512.0 498.4L515.0 497.0L518.0 495.6L521.0 494.0L524.0 492.4L527.0 490.9L530.0 489.4L533.0 488.1L536.0 486.9L539.0 485.8L542.0 485.1L545.0 484.6L548.0 484.4L551.0 484.5L554.0 485.1L557.0 485.9L560.0 486.9L563.0 488.1L566.0 489.3L569.0 490.7L572.0 492.0L575.0 493.2L578.0 494.2L581.0 495.1L584.0 495.7L587.0 496.0L590.0 495.9L593.0 495.4L596.0 494.6L599.0 493.5L602.0 492.3L605.0 490.9L608.0 489.5L611.0 488.1L614.0 486.8L617.0 485.6L620.0 484.6L623.0 483.9L626.0 483.5L629.0 483.6L632.0 484.0L635.0 484.9L638.0 486.0L641.0 487.3L644.0 488.8L647.0 490.3L650.0 491.9L653.0 493.3L656.0 494.7L659.0 495.8L662.0 496.6L665.0 497.1L668.0 497.1L671.0 496.6L674.0 495.7L677.0 494.4L680.0 492.7L683.0 490.9L686.0 488.9L689.0 486.8L692.0 484.8L695.0 482.9L698.0 481.2L701.0 479.7L704.0 478.6L707.0 478.0L710.0 477.8L713.0 478.3L716.0 479.4L719.0 480.9L722.0 482.9L725.0 485.0L728.0 487.4L731.0 489.8L734.0 492.1L737.0 494.2L740.0 496.1L743.0 497.6L746.0 498.5L749.0 498.9L752.0 498.5L755.0 497.3L758.0 495.1L761.0 491.8L764.0 487.3L767.0 481.9L770.0 475.9L773.0 469.3L776.0 462.6L779.0 455.8L782.0 449.2L785.0 443.0L788.0 437.5L791.0 432.8L794.0 429.2L797.0 426.8L800.0 426.0L803.0 426.8L806.0 429.1L809.0 432.8L812.0 437.4L815.0 442.9L818.0 449.0L821.0 455.4L824.0 461.9L827.0 468.2L830.0 474.1L833.0 479.4L836.0 483.8L839.0 487.1L842.0 489.2L845.0 490.0L848.0 489.4L851.0 487.6L854.0 484.9L857.0 481.5L860.0 477.7L863.0 473.8L866.0 469.9L869.0 466.4L872.0 463.3L875.0 460.7L878.0 458.6L881.0 457.0L884.0 455.9L887.0 455.3L890.0 455.3L893.0 455.9L896.0 457.0L899.0 458.9L902.0 461.4L905.0 464.6L908.0 468.7L911.0 473.5L914.0 479.0L917.0 484.7L920.0 490.6L923.0 496.3L926.0 501.7L929.0 506.3L932.0 510.3L935.0 513.5L938.0 516.0L941.0 517.7L944.0 518.7L947.0 518.9L950.0 518.6L953.0 517.8L956.0 516.7L959.0 515.4L962.0 514.0L965.0 512.6L968.0 511.5L971.0 510.7L974.0 510.3L977.0 510.5L980.0 511.2L983.0 512.3L986.0 513.6L989.0 515.2L992.0 516.8L995.0 518.5L998.0 520.0L1001.0 521.3L1004.0 522.4L1007.0 523.2L1010.0 523.9L1013.0 524.4L1016.0 524.8L1019.0 525.1L1022.0 525.4L1025.0 525.7L1028.0 525.9L1031.0 525.9L1034.0 525.6L1037.0 525.0L1040.0 524.0L1043.0 522.6L1046.0 520.5L1049.0 517.9L1052.0 514.6L1055.0 510.6L1058.0 505.8L1061.0 500.2L1064.0 494.0L1067.0 487.3L1070.0 480.4L1073.0 473.6L1076.0 467.0L1079.0 461.1L1082.0 455.8L1085.0 451.4L1088.0 447.9L1091.0 445.2L1094.0 443.5L1097.0 442.7L1100.0 443.1L1103.0 444.4L1106.0 446.9L1109.0 450.3L1112.0 454.8L1115.0 460.3L1118.0 466.8L1121.0 474.1L1124.0 481.7L1127.0 489.2L1130.0 496.3L1133.0 502.6L1136.0 507.9L1139.0 512.2L1142.0 515.8L1145.0 518.7L1148.0 521.0L1151.0 522.8L1154.0 524.2L1157.0 525.1L1160.0 525.4L1163.0 525.2L1166.0 524.5L1169.0 523.3L1172.0 521.7L1175.0 519.7L1178.0 517.4L1181.0 514.9L1184.0 512.2L1187.0 509.5L1190.0 507.0L1193.0 504.6L1196.0 502.7L1199.0 501.2L1202.0 500.3L1205.0 500.1L1208.0 500.6L1211.0 501.7L1214.0 503.2L1217.0 505.0L1220.0 506.9L1223.0 509.0L1226.0 510.9L1229.0 512.8L1232.0 514.4L1235.0 515.9L1238.0 517.1L1241.0 518.2L1244.0 519.2L1247.0 519.9L1250.0 520.5L1253.0 520.9L1256.0 521.1L1259.0 521.2L1262.0 521.1L1265.0 520.9L1268.0 520.6L1271.0 520.2L1274.0 519.7L1277.0 519.1L1280.0 518.5L1283.0 517.8L1286.0 517.0L1289.0 516.2L1292.0 515.4L1295.0 514.6L1298.0 513.8L1301.0 513.0L1304.0 512.2L1307.0 511.4L1310.0 510.7L1313.0 509.9L1316.0 509.2L1319.0 508.6L1322.0 507.9L1325.0 507.4L1328.0 506.8L1331.0 506.3L1334.0 505.9L1337.0 505.5L1340.0 505.2L1343.0 504.9L1346.0 504.6L1349.0 504.3L1352.0 504.0L1355.0 503.7L1358.0 503.4L1361.0 503.1L1364.0 502.8L1367.0 502.5L1370.0 502.1L1373.0 501.6L1376.0 501.1L1379.0 500.6L1382.0 500.0L1385.0 499.3L1388.0 498.5L1391.0 497.6L1394.0 496.7L1397.0 495.6L1400.0 494.5L1403.0 493.2L1406.0 491.9L1409.0 490.5L1412.0 489.1L1415.0 487.6L1418.0 486.1L1421.0 484.6L1424.0 483.0L1427.0 481.6L1430.0 480.3L1433.0 479.2L1436.0 478.3L1439.0 477.7L1442.0 477.5L1445.0 477.7L1448.0 478.2L1451.0 479.0L1454.0 480.0L1457.0 481.1L1460.0 482.3L1463.0 483.5L1466.0 484.6L1469.0 485.5L1472.0 486.3L1475.0 486.9L1478.0 487.4L1481.0 487.6L1484.0 487.7L1487.0 487.5L1490.0 487.1L1493.0 486.4L1496.0 485.4L1499.0 483.9L1502.0 482.0L1505.0 479.5L1508.0 476.4L1511.0 472.5L1514.0 467.5L1517.0 461.1L1520.0 453.1L1523.0 443.5L1526.0 432.8L1529.0 421.8L1532.0 410.9L1535.0 400.8L1538.0 391.5L1541.0 383.0L1544.0 375.4L1547.0 368.6L1550.0 362.7L1553.0 357.7L1556.0 353.6L1559.0 350.4L1562.0 348.1L1565.0 346.8L1568.0 346.4L1571.0 346.9L1574.0 348.4L1577.0 350.8L1580.0 354.1L1583.0 358.2L1586.0 363.2L1589.0 369.0L1592.0 375.7L1595.0 383.2L1598.0 391.6L1601.0 400.9L1604.0 411.3L1607.0 422.5L1610.0 434.0L1613.0 444.8L1616.0 453.9L1619.0 460.7L1622.0 465.1L1625.0 467.9L1628.0 469.6L1631.0 470.9L1634.0 472.0L1637.0 473.1L1640.0 473.9L1643.0 474.6L1646.0 475.1L1649.0 475.4L1652.0 475.5L1655.0 475.5L1658.0 475.2L1661.0 474.8L1664.0 474.2L1667.0 473.5L1670.0 472.6L1673.0 471.6L1676.0 470.4L1679.0 469.2L1682.0 467.7L1685.0 465.9L1688.0 463.8L1691.0 461.1L1694.0 457.9L1697.0 453.9L1700.0 449.4L1703.0 444.5L1706.0 439.4L1709.0 434.4L1712.0 429.8L1715.0 425.6L1718.0 422.1L1721.0 419.1L1724.0 416.9L1727.0 415.3L1730.0 414.6L1733.0 414.6L1736.0 415.5L1739.0 417.0L1742.0 419.3L1745.0 422.1L1748.0 425.4L1751.0 429.1L1754.0 433.1L1757.0 437.4L1760.0 441.7L1763.0 446.0L1766.0 450.0L1769.0 453.7L1772.0 456.8L1775.0 459.3L1778.0 461.2L1781.0 462.7L1784.0 463.9L1787.0 464.8L1790.0 465.5L1793.0 466.1L1796.0 466.6L1799.0 467.0L1802.0 467.4L1805.0 467.7L1808.0 467.9L1811.0 468.1L1814.0 468.2L1817.0 468.3L1820.0 468.3L1823.0 468.3L1826.0 468.2L1829.0 468.1L1832.0 468.0L1835.0 467.8L1838.0 467.6L1841.0 467.5L1844.0 467.3L1847.0 467.1L1850.0 466.9L1853.0 466.7L1856.0 466.5L1859.0 466.3L1862.0 466.2L1865.0 466.0L1868.0 465.9L1871.0 465.8L1874.0 465.8L1877.0 465.7L1880.0 465.7L1883.0 465.7L1886.0 465.6L1889.0 465.6L1892.0 465.6L1895.0 465.6L1898.0 465.5L1901.0 465.4L1904.0 465.3L1907.0 465.2L1910.0 465.1L1913.0 465.0L1916.0 464.8L1919.0 464.7L1922.0 464.5L1925.0 464.3L1928.0 464.1L1931.0 463.9L1934.0 463.7L1937.0 463.5L1940.0 463.2L1943.0 463.0L1946.0 462.8L1949.0 462.5L1952.0 462.3L1955.0 462.0L1958.0 461.8L1961.0 461.5L1964.0 461.3L1967.0 461.0L1970.0 460.8L1973.0 460.6L1976.0 460.3L1979.0 460.1L1982.0 459.9L1985.0 459.7L1988.0 459.5L1991.0 459.3L1994.0 459.1L1997.0 458.9L2000.0 458.8L2003.0 458.6L2006.0 458.5L2009.0 458.4L2012.0 458.3L2015.0 458.2L2018.0 458.1L2021.0 458.0L2024.0 457.9L2027.0 457.8L2030.0 457.8L2033.0 457.7L2036.0 457.6L2039.0 457.6L2042.0 457.6L2045.0 457.5L2048.0 457.5L2051.0 457.5L2054.0 457.5L2057.0 457.5L2060.0 457.5L2063.0 457.5L2066.0 457.5L2069.0 457.5L2072.0 457.5L2075.0 457.5L2078.0 457.5L2081.0 457.5L2084.0 457.6L2087.0 457.6L2090.0 457.6L2093.0 457.7L2096.0 457.7L2099.0 457.7L2102.0 457.8L2105.0 457.8L2108.0 457.8L2111.0 457.9L2114.0 457.9L2117.0 457.9L2120.0 458.0L2123.0 458.0L2126.0 458.1L2129.0 458.1L2132.0 458.2L2135.0 458.2L2138.0 458.2L2141.0 458.3L2144.0 458.3L2147.0 458.4L2150.0 458.4L2153.0 458.5L2156.0 458.5L2159.0 458.6L2162.0 458.6L2165.0 458.6L2168.0 458.7L2171.0 458.7L2174.0 458.8L2177.0 458.8L2180.0 458.9L2183.0 458.9L2186.0 458.9L2189.0 459.0L2192.0 459.0L2195.0 459.0L2198.0 459.1L2201.0 459.1L2204.0 459.1L2207.0 459.2L2210.0 459.2L2213.0 459.2L2216.0 459.2L2219.0 459.2L2222.0 459.3L2225.0 459.3L2228.0 459.3L2231.0 459.3L2234.0 459.3L2237.0 459.3L2240.0 459.3L2243.0 459.3L2246.0 459.3L2249.0 459.3L2252.0 459.3L2255.0 459.3L2258.0 459.2L2261.0 459.2L2264.0 459.2L2267.0 459.2L2270.0 459.1L2273.0 459.1L2276.0 459.1L2279.0 459.0L2282.0 459.0L2285.0 458.9L2288.0 458.9L2291.0 458.8L2294.0 458.7L2297.0 458.7L2300.0 458.6" fill="none" stroke="#0000ff" stroke-width="12.3" stroke-linecap="round" stroke-linejoin="round"/></g>
<g clip-path="url(#c1)"><path d="M213.2 1095.3L213.8 1067.2L214.1 1038.9L214.7 1010.6L215.4 982.9L216.3 954.8L217.8 926.5L220.0 911.0L224.0 901.8L231.0 899.5L238.8 898.8L246.0 894.0L250.9 878.4L252.9 879.3L254.9 877.8L256.9 876.2L258.9 874.5L260.9 872.8L262.9 871.1L264.9 869.4L266.9 867.9L268.9 866.4L270.9 865.0L272.9 863.9L274.9 863.0L276.9 862.4L278.9 862.0L280.9 861.9L282.9 861.9L284.9 862.0L286.9 862.1L288.9 862.1L290.9 861.9L292.9 861.2L294.9 860.1L296.9 858.5L298.9 856.2L300.9 853.1L302.9 849.3L304.9 844.9L306.9 840.0L308.9 834.8L310.9 829.6L312.9 824.6L314.9 819.9L316.9 815.7L318.9 811.9L320.9 808.7L322.9 806.1L324.9 804.2L326.9 802.8L328.9 801.9L330.9 801.5L332.9 801.5L334.9 801.9L336.9 802.6L338.9 803.6L340.9 804.4L342.9 803.5L344.9 802.9L346.9 802.7L348.9 802.6L350.9 801.8L352.9 801.5L354.9 801.7L356.9 802.3L358.9 803.3L360.9 804.5L362.9 804.1L364.9 801.4L366.9 798.4L368.9 795.0L370.9 791.4L372.9 787.5L374.9 783.5L376.9 779.3L378.9 775.1L380.9 771.0L382.9 767.0L384.9 763.3L386.9 760.0L388.9 757.1L390.9 754.8L392.9 753.0L394.9 751.9L396.9 751.4L398.9 751.6L400.9 752.4L402.9 753.7L404.9 754.9L406.9 754.7L408.9 754.7L410.9 755.1L412.9 755.5L414.9 755.0L416.9 754.8L418.9 755.0L420.9 755.5L422.9 756.5L424.9 758.0L426.9 760.0L428.9 762.5L430.9 765.5L432.9 769.1L434.9 773.1L436.9 777.7L438.9 782.7L440.9 788.2L442.9 794.1L444.9 800.2L446.9 806.7L448.9 813.3L450.9 819.8L452.9 826.1L454.9 832.1L456.9 837.6L458.9 842.5L460.9 846.8L462.9 850.6L464.9 854.0L466.9 857.0L468.9 859.7L470.9 862.0L472.9 864.0L474.9 865.6L476.9 867.0L478.9 868.1L480.9 869.0L482.9 869.7L484.9 870.2L486.9 870.5L488.9 870.9L490.9 871.3L492.9 871.8L494.9 872.5L496.9 873.3L498.9 874.2L500.9 875.3L502.9 876.6L504.9 878.0L506.9 879.5L508.9 878.7L510.9 877.9L512.9 877.0L514.9 876.1L516.9 875.2L518.9 874.3L520.9 873.3L522.9 872.2L524.9 871.1L526.9 870.0L528.9 868.8L530.9 867.6L532.9 866.6L534.9 865.6L536.9 864.9L538.9 864.5L540.9 864.3L542.9 864.5L544.9 864.3L546.9 864.1L548.9 864.1L550.9 864.3L552.9 864.4L554.9 864.3L556.9 864.4L558.9 864.5L560.9 864.7L562.9 865.0L564.9 865.3L566.9 865.7L568.9 866.2L570.9 866.9L572.9 867.8L574.9 868.9L576.9 870.3L578.9 871.8L580.9 873.5L582.9 874.4L584.9 873.5L586.9 872.5L588.9 871.3L590.9 870.0L592.9 868.4L594.9 866.5L596.9 864.5L598.9 862.3L600.9 860.0L602.9 857.6L604.9 855.2L606.9 852.9L608.9 850.8L610.9 849.0L612.9 847.6L614.9 846.6L616.9 846.1L618.9 846.1L620.9 846.6L622.9 847.5L624.9 848.8L626.9 849.0L628.9 849.4L630.9 850.0L632.9 850.8L634.9 850.9L636.9 851.0L638.9 851.4L640.9 851.9L642.9 852.6L644.9 853.5L646.9 854.5L648.9 855.8L650.9 857.4L652.9 859.1L654.9 860.9L656.9 862.9L658.9 865.0L660.9 867.1L662.9 869.1L664.9 870.9L666.9 872.6L668.9 874.1L670.9 875.3L672.9 876.2L674.9 877.0L676.9 877.6L678.9 878.0L680.9 878.3L682.9 878.6L684.9 879.0L686.9 879.4L688.9 880.0L690.9 880.8L692.9 881.7L694.9 882.7L696.9 883.9L698.9 885.1L700.9 886.3L702.9 887.5L704.9 888.5L706.9 889.3L708.9 890.0L710.9 890.5L712.9 890.8L714.9 891.0L716.9 891.0L718.9 891.0L720.9 890.9L722.9 890.8L724.9 889.8L726.9 888.5L728.9 886.8L730.9 884.7L732.9 881.9L734.9 878.6L736.9 874.7L738.9 870.4L740.9 865.7L742.9 860.6L744.9 855.3L746.9 849.8L748.9 844.1L750.9 838.3L752.9 832.4L754.9 826.5L756.9 820.7L758.9 815.0L760.9 809.5L762.9 804.4L764.9 799.7L766.9 795.5L768.9 791.8L770.9 788.6L772.9 786.0L774.9 783.7L776.9 781.8L778.9 780.1L780.9 778.6L782.9 777.2L784.9 776.0L786.9 774.9L788.9 773.9L790.9 773.1L792.9 772.5L794.9 772.3L796.9 771.2L798.9 770.5L800.9 770.4L802.9 770.6L804.9 770.6L806.9 771.1L808.9 771.9L810.9 773.0L812.9 774.4L814.9 776.2L816.9 778.2L818.9 780.5L820.9 783.1L822.9 786.1L824.9 789.4L826.9 793.1L828.9 796.9L830.9 801.0L832.9 805.1L834.9 809.1L836.9 813.1L838.9 816.8L840.9 820.2L842.9 823.2L844.9 825.8L846.9 826.1L848.9 824.2L850.9 822.0L852.9 819.6L854.9 816.9L856.9 814.1L858.9 811.2L860.9 808.4L862.9 805.6L864.9 803.0L866.9 800.7L868.9 798.6L870.9 797.0L872.9 795.8L874.9 795.1L876.9 794.9L878.9 795.3L880.9 796.1L882.9 797.3L884.9 798.3L886.9 798.6L888.9 799.2L890.9 799.9L892.9 800.5L894.9 800.5L896.9 800.7L898.9 801.0L900.9 801.5L902.9 802.2L904.9 803.1L906.9 804.4L908.9 806.0L910.9 808.0L912.9 810.4L914.9 813.2L916.9 816.3L918.9 819.7L920.9 823.4L922.9 827.2L924.9 831.1L926.9 835.0L928.9 838.8L930.9 842.6L932.9 846.2L934.9 849.8L936.9 853.2L938.9 856.4L940.9 859.3L942.9 862.1L944.9 864.6L946.9 866.7L948.9 868.5L950.9 869.7L952.9 869.5L954.9 869.2L956.9 869.1L958.9 868.9L960.9 868.7L962.9 868.5L964.9 868.2L966.9 867.9L968.9 867.6L970.9 866.7L972.9 865.5L974.9 864.4L976.9 863.5L978.9 862.5L980.9 861.5L982.9 861.0L984.9 860.8L986.9 861.1L988.9 861.8L990.9 862.9L992.9 864.3L994.9 865.9L996.9 867.8L998.9 869.7L1000.9 871.7L1002.9 873.7L1004.9 875.7L1006.9 877.5L1008.9 879.2L1010.9 880.8L1012.9 882.3L1014.9 883.7L1016.9 885.0L1018.9 886.3L1020.9 887.6L1022.9 888.8L1024.9 890.0L1026.9 888.9L1028.9 887.3L1030.9 885.2L1032.9 882.4L1034.9 879.0L1036.9 875.2L1038.9 870.8L1040.9 866.1L1042.9 861.0L1044.9 855.8L1046.9 850.4L1048.9 845.1L1050.9 839.9L1052.9 834.9L1054.9 830.2L1056.9 826.0L1058.9 822.2L1060.9 818.9L1062.9 816.1L1064.9 813.7L1066.9 811.8L1068.9 810.1L1070.9 808.7L1072.9 807.4L1074.9 806.3L1076.9 805.2L1078.9 804.1L1080.9 803.0L1082.9 802.0L1084.9 801.1L1086.9 800.3L1088.9 799.8L1090.9 799.5L1092.9 799.5L1094.9 798.7L1096.9 798.3L1098.9 798.3L1100.9 798.6L1102.9 798.7L1104.9 799.0L1106.9 799.7L1108.9 800.6L1110.9 801.7L1112.9 802.9L1114.9 804.3L1116.9 805.8L1118.9 807.4L1120.9 809.1L1122.9 810.9L1124.9 813.0L1126.9 815.3L1128.9 817.9L1130.9 820.7L1132.9 823.7L1134.9 827.0L1136.9 830.4L1138.9 834.0L1140.9 837.6L1142.9 841.2L1144.9 844.7L1146.9 848.1L1148.9 851.2L1150.9 854.0L1152.9 856.5L1154.9 858.6L1156.9 860.5L1158.9 862.0L1160.9 863.3L1162.9 864.4L1164.9 865.3L1166.9 865.3L1168.9 863.8L1170.9 862.4L1172.9 861.4L1174.9 860.6L1176.9 860.1L1178.9 859.9L1180.9 860.0L1182.9 860.1L1184.9 860.4L1186.9 860.7L1188.9 861.1L1190.9 861.4L1192.9 861.7L1194.9 862.0L1196.9 862.2L1198.9 862.0L1200.9 861.9L1202.9 861.9L1204.9 862.1L1206.9 862.2L1208.9 862.5L1210.9 863.0L1212.9 863.7L1214.9 864.6L1216.9 865.6L1218.9 866.7L1220.9 867.8L1222.9 868.9L1224.9 870.0L1226.9 871.0L1228.9 872.0L1230.9 873.0L1232.9 874.0L1234.9 875.0L1236.9 876.1L1238.9 877.3L1240.9 878.7L1242.9 880.2L1244.9 881.9L1246.9 883.7L1248.9 885.6L1250.9 887.5L1252.9 889.4L1254.9 891.1L1256.9 892.7L1258.9 894.1L1260.9 895.1L1262.9 895.9L1264.9 896.3L1266.9 896.4L1268.9 896.0L1270.9 894.9L1272.9 893.7L1274.9 892.4L1276.9 891.2L1278.9 890.1L1280.9 889.2L1282.9 888.4L1284.9 887.9L1286.9 887.6L1288.9 887.5L1290.9 887.4L1292.9 887.5L1294.9 887.6L1296.9 887.7L1298.9 887.7L1300.9 887.7L1302.9 887.7L1304.9 887.6L1306.9 887.5L1308.9 887.4L1310.9 887.5L1312.9 887.4L1314.9 887.4L1316.9 887.6L1318.9 887.9L1320.9 888.3L1322.9 888.8L1324.9 889.4L1326.9 890.1L1328.9 890.7L1330.9 891.3L1332.9 891.7L1334.9 892.0L1336.9 892.1L1338.9 892.0L1340.9 891.8L1342.9 891.4L1344.9 891.0L1346.9 890.6L1348.9 890.3L1350.9 890.1L1352.9 890.2L1354.9 890.4L1356.9 890.9L1358.9 891.6L1360.9 892.5L1362.9 893.5L1364.9 894.6L1366.9 895.7L1368.9 896.0L1370.9 896.0L1372.9 895.7L1374.9 895.1L1376.9 894.0L1378.9 892.6L1380.9 890.8L1382.9 888.8L1384.9 886.6L1386.9 884.3L1388.9 882.0L1390.9 879.7L1392.9 877.6L1394.9 875.5L1396.9 873.6L1398.9 871.8L1400.9 870.1L1402.9 868.4L1404.9 866.8L1406.9 865.1L1408.9 863.4L1410.9 861.6L1412.9 859.8L1414.9 858.0L1416.9 856.2L1418.9 854.5L1420.9 852.9L1422.9 851.6L1424.9 850.5L1426.9 849.8L1428.9 849.4L1430.9 849.3L1432.9 849.7L1434.9 850.3L1436.9 851.1L1438.9 851.2L1440.9 851.5L1442.9 851.8L1444.9 852.1L1446.9 851.8L1448.9 851.6L1450.9 851.3L1452.9 851.0L1454.9 850.7L1456.9 850.6L1458.9 850.6L1460.9 850.8L1462.9 851.3L1464.9 852.1L1466.9 853.3L1468.9 854.8L1470.9 856.6L1472.9 858.7L1474.9 860.8L1476.9 859.4L1478.9 856.7L1480.9 853.2L1482.9 848.9L1484.9 843.9L1486.9 838.1L1488.9 831.5L1490.9 824.4L1492.9 816.8L1494.9 808.8L1496.9 800.7L1498.9 792.7L1500.9 784.9L1502.9 777.4L1504.9 770.5L1506.9 764.0L1508.9 758.0L1510.9 752.4L1512.9 747.0L1514.9 741.9L1516.9 736.9L1518.9 731.9L1520.9 727.1L1522.9 722.2L1524.9 717.5L1526.9 712.7L1528.9 708.1L1530.9 703.7L1532.9 699.4L1534.9 695.5L1536.9 691.9L1538.9 688.8L1540.9 686.1L1542.9 683.8L1544.9 682.0L1546.9 680.7L1548.9 679.7L1550.9 679.1L1552.9 678.7L1554.9 678.5L1556.9 678.5L1558.9 678.6L1560.9 678.8L1562.9 679.1L1564.9 678.5L1566.9 677.7L1568.9 677.1L1570.9 676.8L1572.9 676.2L1574.9 675.8L1576.9 675.7L1578.9 676.1L1580.9 676.8L1582.9 678.0L1584.9 679.5L1586.9 681.3L1588.9 683.3L1590.9 685.6L1592.9 688.0L1594.9 690.5L1596.9 693.1L1598.9 695.9L1600.9 698.9L1602.9 702.0L1604.9 705.4L1606.9 709.1L1608.9 713.2L1610.9 717.6L1612.9 722.5L1614.9 727.9L1616.9 733.8L1618.9 740.0L1620.9 746.7L1622.9 753.7L1624.9 760.9L1626.9 768.2L1628.9 775.5L1630.9 782.7L1632.9 789.8L1634.9 796.6L1636.9 803.3L1638.9 809.7L1640.9 815.9L1642.9 822.0L1644.9 828.0L1646.9 834.0L1648.9 839.9L1650.9 845.9L1652.9 851.9L1654.9 857.6L1656.9 858.5L1658.9 853.8L1660.9 849.0L1662.9 844.3L1664.9 839.6L1666.9 834.9L1668.9 830.2L1670.9 825.4L1672.9 820.6L1674.9 815.6L1676.9 810.7L1678.9 805.8L1680.9 801.0L1682.9 796.4L1684.9 792.1L1686.9 788.0L1688.9 784.4L1690.9 781.2L1692.9 778.3L1694.9 775.9L1696.9 773.8L1698.9 771.9L1700.9 770.1L1702.9 768.4L1704.9 766.8L1706.9 765.1L1708.9 763.3L1710.9 761.6L1712.9 759.8L1714.9 758.2L1716.9 756.8L1718.9 755.6L1720.9 754.7L1722.9 754.3L1724.9 754.2L1726.9 754.3L1728.9 754.0L1730.9 754.1L1732.9 754.6L1734.9 755.1L1736.9 755.4L1738.9 755.9L1740.9 756.5L1742.9 757.2L1744.9 757.9L1746.9 758.7L1748.9 759.5L1750.9 760.5L1752.9 761.6L1754.9 763.0L1756.9 764.7L1758.9 766.7L1760.9 769.1L1762.9 771.9L1764.9 775.1L1766.9 778.7L1768.9 782.7L1770.9 787.1L1772.9 791.7L1774.9 796.5L1776.9 801.5L1778.9 806.5L1780.9 811.7L1782.9 816.8L1784.9 821.9L1786.9 827.1L1788.9 832.3L1790.9 837.5L1792.9 842.7L1794.9 847.8L1796.9 852.9L1798.9 857.8L1800.9 862.6L1802.9 867.0L1804.9 871.0L1806.9 874.7L1808.9 877.9L1810.9 880.6L1812.9 882.8L1814.9 884.5L1816.9 885.7L1818.9 886.3L1820.9 886.5L1822.9 885.8L1824.9 885.1L1826.9 884.4L1828.9 883.5L1830.9 882.5L1832.9 881.7L1834.9 881.1L1836.9 880.7L1838.9 880.5L1840.9 880.5L1842.9 880.8L1844.9 881.4L1846.9 882.1L1848.9 882.9L1850.9 883.8L1852.9 884.7L1854.9 885.5L1856.9 886.2L1858.9 886.9L1860.9 887.5L1862.9 888.0L1864.9 888.6L1866.9 889.1L1868.9 889.7L1870.9 890.4L1872.9 891.2L1874.9 892.0L1876.9 893.0L1878.9 893.9L1880.9 894.9L1882.9 895.8L1884.9 896.6L1886.9 897.2L1888.9 897.6L1890.9 897.8L1892.9 897.5L1894.9 896.7L1896.9 895.6L1898.9 894.5L1900.9 893.3L1902.9 892.0L1904.9 890.8L1906.9 889.7L1908.9 888.7L1910.9 888.0L1912.9 887.3L1914.9 886.8L1916.9 886.4L1918.9 886.1L1920.9 885.7L1922.9 885.2L1924.9 884.6L1926.9 883.8L1928.9 882.8L1930.9 881.6L1932.9 880.2L1934.9 878.6L1936.9 876.9L1938.9 875.1L1940.9 873.3L1942.9 871.7L1944.9 870.1L1946.9 868.8L1948.9 867.6L1950.9 866.7L1952.9 866.0L1954.9 865.5L1956.9 865.2L1958.9 864.9L1960.9 864.7L1962.9 864.6L1964.9 864.4L1966.9 864.3L1968.9 864.2L1970.9 864.1L1972.9 864.0L1974.9 864.1L1976.9 864.3L1978.9 864.3L1980.9 864.4L1982.9 864.8L1984.9 865.4L1986.9 866.0L1988.9 866.8L1990.9 867.7L1992.9 868.7L1994.9 869.7L1996.9 870.6L1998.9 871.3L2000.9 871.9L2002.9 872.3L2004.9 872.4L2006.9 872.3L2008.9 872.0L2010.9 871.6L2012.9 871.1L2014.9 870.6L2016.9 870.2L2018.9 869.8L2020.9 869.6L2022.9 869.6L2024.9 869.8L2026.9 870.0L2028.9 870.1L2030.9 869.9L2032.9 869.8L2034.9 869.5L2036.9 869.1L2038.9 868.6L2040.9 867.8L2042.9 866.8L2044.9 865.6L2046.9 864.3L2048.9 862.8L2050.9 861.3L2052.9 859.7L2054.9 858.2L2056.9 856.7L2058.9 855.4L2060.9 854.1L2062.9 852.9L2064.9 851.8L2066.9 850.6L2068.9 849.5L2070.9 848.3L2072.9 847.0L2074.9 845.5L2076.9 844.0L2078.9 842.3L2080.9 840.5L2082.9 838.6L2084.9 836.8L2086.9 835.0L2088.9 833.4L2090.9 832.0L2092.9 830.8L2094.9 830.0L2096.9 829.4L2098.9 829.1L2100.9 829.0L2102.9 829.2L2104.9 829.4L2106.9 829.8L2108.9 830.1L2110.9 830.4L2112.9 830.6L2114.9 830.7L2116.9 830.7L2118.9 830.7L2120.9 829.9L2122.9 829.1L2124.9 828.4L2126.9 827.8L2128.9 827.0L2130.9 826.5L2132.9 826.2L2134.9 826.2L2136.9 826.5L2138.9 827.1L2140.9 827.8L2142.9 828.6L2144.9 829.6L2146.9 830.6L2148.9 831.5L2150.9 832.4L2152.9 833.2L2154.9 834.0L2156.9 834.6L2158.9 835.3L2160.9 836.0L2162.9 836.7L2164.9 837.5L2166.9 838.4L2168.9 839.4L2170.9 840.5L2172.9 841.8L2174.9 843.0L2176.9 844.2L2178.9 845.4L2180.9 846.4L2182.9 847.1L2184.9 847.3L2186.9 846.8L2188.9 846.1L2190.9 845.0L2192.9 843.7L2194.9 842.1L2196.9 840.6L2198.9 839.7L2200.9 838.8L2202.9 838.1L2204.9 837.5L2213.2 834.8L2215.2 833.6L2217.2 833.9L2219.2 832.2L2221.2 832.1L2223.2 828.0L2225.2 831.1L2227.2 828.2L2229.2 828.1L2231.2 826.1L2233.2 824.8L2235.2 824.5L2237.2 823.6L2239.2 821.1L2241.2 819.8L2243.2 819.5L2245.2 816.4L2247.2 814.3L2249.2 815.3L2251.2 812.7L2253.2 809.9L2255.2 809.9L2257.2 808.9L2259.2 806.7L2261.2 804.9L2263.2 805.4L2265.2 805.1L2267.2 802.4L2269.2 800.4L2271.2 800.4L2273.2 799.4L2275.2 796.8L2277.2 796.3L2279.2 795.3L2281.2 792.3L2283.2 790.0L2285.2 789.9L2287.2 788.2L2289.2 787.7L2291.2 783.3L2293.2 782.5L2295.2 780.7L2297.2 778.1L2299.2 778.8" fill="none" stroke="#ff0000" stroke-width="8" stroke-linecap="round" stroke-linejoin="round" stroke-dasharray="0.01 28"/>
<path d="M226.9 856.8L229.9 860.0L232.9 863.6L235.9 867.5L238.9 871.3L241.9 875.0L244.9 878.2L247.9 880.8L250.9 882.6L253.9 883.3L256.9 882.8L259.9 881.2L262.9 878.9L265.9 876.0L268.9 873.0L271.9 870.0L274.9 867.4L277.9 865.2L280.9 863.5L283.9 862.4L286.9 861.7L289.9 861.4L292.9 861.3L295.9 861.1L298.9 860.5L301.9 859.3L304.9 857.3L307.9 854.4L310.9 850.2L313.9 844.9L316.9 838.5L319.9 831.7L322.9 824.9L325.9 818.5L328.9 812.7L331.9 807.6L334.9 803.4L337.9 800.2L340.9 797.9L343.9 796.7L346.9 796.7L349.9 797.7L352.9 799.4L355.9 801.3L358.9 803.2L361.9 804.6L364.9 805.2L367.9 804.5L370.9 802.4L373.9 799.0L376.9 794.7L379.9 789.8L382.9 784.5L385.9 779.2L388.9 773.9L391.9 768.9L394.9 764.3L397.9 760.4L400.9 757.1L403.9 754.7L406.9 753.2L409.9 752.8L412.9 753.5L415.9 755.3L418.9 758.1L421.9 761.7L424.9 766.2L427.9 771.4L430.9 777.3L433.9 784.1L436.9 791.7L439.9 800.2L442.9 809.4L445.9 818.9L448.9 827.9L451.9 836.2L454.9 843.1L457.9 848.9L460.9 853.5L463.9 857.1L466.9 859.8L469.9 861.7L472.9 863.2L475.9 864.4L478.9 865.6L481.9 866.9L484.9 868.6L487.9 870.8L490.9 873.1L493.9 875.5L496.9 877.9L499.9 880.0L502.9 881.7L505.9 882.9L508.9 883.3L511.9 883.0L514.9 881.8L517.9 880.0L520.9 877.8L523.9 875.4L526.9 872.8L529.9 870.3L532.9 868.1L535.9 866.2L538.9 864.6L541.9 863.4L544.9 862.6L547.9 862.2L550.9 862.3L553.9 862.9L556.9 863.8L559.9 865.1L562.9 866.7L565.9 868.5L568.9 870.5L571.9 872.5L574.9 874.5L577.9 876.1L580.9 877.3L583.9 877.9L586.9 877.7L589.9 876.6L592.9 874.8L595.9 872.5L598.9 869.7L601.9 866.6L604.9 863.4L607.9 860.2L610.9 857.0L613.9 854.1L616.9 851.5L619.9 849.2L622.9 847.4L625.9 846.1L628.9 845.5L631.9 845.7L634.9 846.5L637.9 847.9L640.9 849.7L643.9 852.0L646.9 854.6L649.9 857.4L652.9 860.3L655.9 863.2L658.9 866.1L661.9 869.0L664.9 871.7L667.9 874.2L670.9 876.5L673.9 878.6L676.9 880.4L679.9 881.9L682.9 883.2L685.9 884.2L688.9 885.1L691.9 885.8L694.9 886.4L697.9 887.0L700.9 887.5L703.9 888.0L706.9 888.5L709.9 888.9L712.9 889.4L715.9 889.8L718.9 890.1L721.9 890.3L724.9 890.5L727.9 890.5L730.9 890.2L733.9 889.4L736.9 887.6L739.9 884.7L742.9 880.4L745.9 874.6L748.9 867.8L751.9 860.2L754.9 852.1L757.9 844.0L760.9 835.7L763.9 827.4L766.9 819.0L769.9 810.8L772.9 802.8L775.9 795.4L778.9 788.9L781.9 783.5L784.9 779.2L787.9 775.9L790.9 773.5L793.9 771.9L796.9 771.0L799.9 770.8L802.9 771.0L805.9 771.9L808.9 773.4L811.9 775.8L814.9 779.2L817.9 783.8L820.9 789.3L823.9 795.6L826.9 802.0L829.9 808.3L832.9 814.0L835.9 818.8L838.9 822.6L841.9 825.4L844.9 827.0L847.9 827.5L850.9 826.8L853.9 825.2L856.9 822.7L859.9 819.7L862.9 816.4L865.9 813.0L868.9 809.8L871.9 806.8L874.9 804.1L877.9 801.8L880.9 799.9L883.9 798.6L886.9 797.8L889.9 797.6L892.9 798.1L895.9 799.2L898.9 801.0L901.9 803.4L904.9 806.4L907.9 809.9L910.9 814.0L913.9 818.6L916.9 823.5L919.9 828.7L922.9 834.1L925.9 839.7L928.9 845.2L931.9 850.6L934.9 855.7L937.9 860.0L940.9 863.4L943.9 865.7L946.9 867.0L949.9 867.6L952.9 867.6L955.9 867.3L958.9 866.6L961.9 865.8L964.9 864.9L967.9 864.1L970.9 863.4L973.9 863.1L976.9 863.2L979.9 863.7L982.9 864.6L985.9 865.8L988.9 867.3L991.9 869.1L994.9 871.2L997.9 873.4L1000.9 875.8L1003.9 878.1L1006.9 880.5L1009.9 882.7L1012.9 884.7L1015.9 886.5L1018.9 887.9L1021.9 889.0L1024.9 889.7L1027.9 890.0L1030.9 889.6L1033.9 888.6L1036.9 886.5L1039.9 883.4L1042.9 879.0L1045.9 873.4L1048.9 867.1L1051.9 860.2L1054.9 853.2L1057.9 846.1L1060.9 839.2L1063.9 832.6L1066.9 826.4L1069.9 820.8L1072.9 815.9L1075.9 811.5L1078.9 807.8L1081.9 804.7L1084.9 802.1L1087.9 800.0L1090.9 798.4L1093.9 797.4L1096.9 796.9L1099.9 797.0L1102.9 797.7L1105.9 798.9L1108.9 800.7L1111.9 802.9L1114.9 805.7L1117.9 809.0L1120.9 812.8L1123.9 816.9L1126.9 821.4L1129.9 826.1L1132.9 830.9L1135.9 835.8L1138.9 840.7L1141.9 845.6L1144.9 850.3L1147.9 854.7L1150.9 858.9L1153.9 862.6L1156.9 865.8L1159.9 868.3L1162.9 870.0L1165.9 870.9L1168.9 871.0L1171.9 870.4L1174.9 869.2L1177.9 867.8L1180.9 866.1L1183.9 864.5L1186.9 863.0L1189.9 861.8L1192.9 860.8L1195.9 860.1L1198.9 859.7L1201.9 859.6L1204.9 859.8L1207.9 860.2L1210.9 861.0L1213.9 862.1L1216.9 863.5L1219.9 865.2L1222.9 867.2L1225.9 869.4L1228.9 871.8L1231.9 874.3L1234.9 876.8L1237.9 879.3L1240.9 881.7L1243.9 883.9L1246.9 885.9L1249.9 887.7L1252.9 889.3L1255.9 890.6L1258.9 891.7L1261.9 892.5L1264.9 893.1L1267.9 893.4L1270.9 893.4L1273.9 893.3L1276.9 893.0L1279.9 892.5L1282.9 891.9L1285.9 891.3L1288.9 890.6L1291.9 889.9L1294.9 889.3L1297.9 888.6L1300.9 888.0L1303.9 887.5L1306.9 887.1L1309.9 886.7L1312.9 886.5L1315.9 886.4L1318.9 886.4L1321.9 886.6L1324.9 886.9L1327.9 887.3L1330.9 887.8L1333.9 888.4L1336.9 889.0L1339.9 889.7L1342.9 890.5L1345.9 891.2L1348.9 892.0L1351.9 892.7L1354.9 893.4L1357.9 894.0L1360.9 894.5L1363.9 895.0L1366.9 895.2L1369.9 895.3L1372.9 895.2L1375.9 894.8L1378.9 894.2L1381.9 893.1L1384.9 891.6L1387.9 889.6L1390.9 887.2L1393.9 884.4L1396.9 881.3L1399.9 878.0L1402.9 874.6L1405.9 871.3L1408.9 868.1L1411.9 865.0L1414.9 862.1L1417.9 859.4L1420.9 856.9L1423.9 854.7L1426.9 852.8L1429.9 851.1L1432.9 849.8L1435.9 848.8L1438.9 848.2L1441.9 848.0L1444.9 848.2L1447.9 848.9L1450.9 850.0L1453.9 851.4L1456.9 853.2L1459.9 855.4L1462.9 857.8L1465.9 860.5L1468.9 863.1L1471.9 865.4L1474.9 866.9L1477.9 867.5L1480.9 866.8L1483.9 864.8L1486.9 861.2L1489.9 856.0L1492.9 849.1L1495.9 840.6L1498.9 830.7L1501.9 819.6L1504.9 807.6L1507.9 795.2L1510.9 783.0L1513.9 771.3L1516.9 760.6L1519.9 750.7L1522.9 741.6L1525.9 733.1L1528.9 725.4L1531.9 718.3L1534.9 711.7L1537.9 705.7L1540.9 700.2L1543.9 695.2L1546.9 690.7L1549.9 686.6L1552.9 683.2L1555.9 680.2L1558.9 677.9L1561.9 676.2L1564.9 675.1L1567.9 674.7L1570.9 674.9L1573.9 675.7L1576.9 677.1L1579.9 679.2L1582.9 681.7L1585.9 684.9L1588.9 688.6L1591.9 692.8L1594.9 697.6L1597.9 703.0L1600.9 708.9L1603.9 715.4L1606.9 722.5L1609.9 730.3L1612.9 738.7L1615.9 747.9L1618.9 757.6L1621.9 767.8L1624.9 778.3L1627.9 789.0L1630.9 799.8L1633.9 810.4L1636.9 820.9L1639.9 831.1L1642.9 841.0L1645.9 850.5L1648.9 859.2L1651.9 866.5L1654.9 871.4L1657.9 873.2L1660.9 871.4L1663.9 866.6L1666.9 859.9L1669.9 852.2L1672.9 844.2L1675.9 836.4L1678.9 828.6L1681.9 820.8L1684.9 813.2L1687.9 805.7L1690.9 798.4L1693.9 791.4L1696.9 784.9L1699.9 779.0L1702.9 773.9L1705.9 769.5L1708.9 765.8L1711.9 762.7L1714.9 760.1L1717.9 758.0L1720.9 756.2L1723.9 754.9L1726.9 753.9L1729.9 753.5L1732.9 753.5L1735.9 754.0L1738.9 755.1L1741.9 756.7L1744.9 758.9L1747.9 761.6L1750.9 765.0L1753.9 768.9L1756.9 773.4L1759.9 778.5L1762.9 784.1L1765.9 790.2L1768.9 796.8L1771.9 803.9L1774.9 811.3L1777.9 818.9L1780.9 826.8L1783.9 834.7L1786.9 842.5L1789.9 849.9L1792.9 856.8L1795.9 862.8L1798.9 867.8L1801.9 871.8L1804.9 874.9L1807.9 877.2L1810.9 878.9L1813.9 879.9L1816.9 880.5L1819.9 880.7L1822.9 880.7L1825.9 880.5L1828.9 880.3L1831.9 880.1L1834.9 880.1L1837.9 880.4L1840.9 880.8L1843.9 881.5L1846.9 882.3L1849.9 883.2L1852.9 884.3L1855.9 885.4L1858.9 886.5L1861.9 887.6L1864.9 888.7L1867.9 889.8L1870.9 890.7L1873.9 891.6L1876.9 892.4L1879.9 893.1L1882.9 893.6L1885.9 894.1L1888.9 894.4L1891.9 894.6L1894.9 894.6L1897.9 894.5L1900.9 894.2L1903.9 893.7L1906.9 893.1L1909.9 892.4L1912.9 891.6L1915.9 890.6L1918.9 889.5L1921.9 888.3L1924.9 887.0L1927.9 885.6L1930.9 884.0L1933.9 882.4L1936.9 880.7L1939.9 879.0L1942.9 877.3L1945.9 875.5L1948.9 873.8L1951.9 872.1L1954.9 870.6L1957.9 869.0L1960.9 867.7L1963.9 866.4L1966.9 865.3L1969.9 864.4L1972.9 863.6L1975.9 863.0L1978.9 862.7L1981.9 862.5L1984.9 862.6L1987.9 862.9L1990.9 863.3L1993.9 863.9L1996.9 864.5L1999.9 865.3L2002.9 866.0L2005.9 866.8L2008.9 867.5L2011.9 868.2L2014.9 868.9L2017.9 869.4L2020.9 869.9L2023.9 870.2L2026.9 870.4L2029.9 870.5L2032.9 870.4L2035.9 870.2L2038.9 869.8L2041.9 869.2L2044.9 868.4L2047.9 867.5L2050.9 866.3L2053.9 865.0L2056.9 863.5L2059.9 861.9L2062.9 860.0L2065.9 858.0L2068.9 856.0L2071.9 853.8L2074.9 851.5L2077.9 849.2L2080.9 846.9L2083.9 844.6L2086.9 842.3L2089.9 840.0L2092.9 837.8L2095.9 835.7L2098.9 833.7L2101.9 831.8L2104.9 830.2L2107.9 828.7L2110.9 827.4L2113.9 826.4L2116.9 825.6L2119.9 825.0L2122.9 824.8L2125.9 824.8L2128.9 825.2L2131.9 825.8L2134.9 826.6L2137.9 827.6L2140.9 828.7L2143.9 830.0L2146.9 831.3L2149.9 832.6L2152.9 833.9L2155.9 835.1L2158.9 836.3L2161.9 837.5L2164.9 838.5L2167.9 839.5L2170.9 840.3L2173.9 841.0L2176.9 841.5L2179.9 841.9L2182.9 842.2L2185.9 842.2L2188.9 842.2L2191.9 841.9L2194.9 841.4L2197.9 840.8L2200.9 840.0L2203.9 839.0L2206.3 838.0" fill="none" stroke="#0000ff" stroke-width="12.3" stroke-linecap="round" stroke-linejoin="round"/></g>
<g clip-path="url(#c2)"><path d="M195.5 1502.6L196.2 1485.2L196.8 1485.2L197.5 1500.7L198.1 1489.2L198.8 1493.7L199.4 1493.7L200.1 1489.2L200.7 1485.2L201.4 1500.7L202.0 1482.8L202.7 1493.7L203.3 1484.0L204.0 1497.0L204.6 1500.7L205.3 1498.8L205.9 1486.5L206.6 1490.7L207.2 1492.2L207.9 1489.2L208.5 1481.6L209.2 1493.7L209.8 1497.0L210.5 1487.9L211.1 1500.7L211.8 1493.7L212.4 1490.7L213.1 1493.7L213.7 1500.7L214.4 1506.9L215.0 1487.9L215.7 1495.3L216.3 1482.8L217.0 1493.7L217.6 1489.2L218.3 1509.2L218.9 1492.2L219.6 1489.2L220.2 1490.7L220.9 1492.2L221.5 1490.7L222.2 1497.0L222.8 1492.2L223.5 1485.2L224.1 1500.7L224.8 1481.6L225.4 1498.8L226.1 1485.2L226.7 1493.7L227.4 1481.6L228.0 1506.9L228.7 1482.8L229.3 1509.2L230.0 1495.3L230.6 1497.0L231.3 1495.3L231.9 1493.7L232.6 1492.2L233.2 1517.1L233.9 1497.0L234.5 1481.6L235.2 1504.7L235.8 1493.7L236.5 1489.2L237.1 1504.7L237.8 1497.0L238.4 1484.0L239.1 1492.2L239.7 1493.7L240.4 1492.2L241.0 1492.2L241.7 1482.8L242.3 1487.9L243.0 1493.7L243.6 1502.6L244.3 1514.2L244.9 1489.2L245.6 1486.5L246.2 1492.2L246.9 1492.2L247.5 1487.9L248.2 1495.3L248.8 1509.2L249.5 1497.0L250.1 1493.7L250.8 1502.6L251.4 1500.7L252.1 1504.7L252.7 1486.5L253.4 1490.7L254.0 1478.3L254.7 1502.6L255.3 1489.2L256.0 1502.6L256.6 1497.0L257.3 1487.9L257.9 1500.7L258.6 1495.3L259.2 1490.7L259.9 1486.5L260.5 1489.2L261.2 1484.0L261.8 1492.2L262.5 1500.7L263.1 1487.9L263.8 1487.9L264.4 1506.9L265.1 1487.9L265.7 1486.5L266.4 1506.9L267.0 1481.6L267.7 1484.0L268.3 1480.5L269.0 1481.6L269.6 1479.4L270.3 1482.8L270.9 1492.2L271.6 1500.7L272.2 1484.0L272.9 1476.2L273.5 1493.7L274.2 1473.3L274.8 1489.2L275.5 1478.3L276.1 1489.2L276.8 1480.5L277.4 1490.7L278.1 1490.7L278.7 1493.7L279.4 1485.2L280.0 1481.6L280.7 1481.6L281.3 1497.0L282.0 1484.0L282.6 1469.8L283.3 1481.6L283.9 1484.0L284.6 1479.4L285.2 1485.2L285.9 1481.6L286.5 1486.5L287.2 1492.2L287.8 1480.5L288.5 1490.7L289.1 1481.6L289.8 1478.3L290.4 1478.3L291.1 1484.0L291.7 1486.5L292.4 1486.5L293.0 1482.8L293.7 1484.0L294.3 1482.8L295.0 1498.8L295.6 1500.7L296.3 1486.5L296.9 1479.4L297.6 1493.7L298.2 1485.2L298.9 1481.6L299.5 1497.0L300.2 1498.8L300.8 1493.7L301.5 1511.6L302.1 1486.5L302.8 1493.7L303.4 1485.2L304.1 1484.0L304.7 1498.8L305.4 1489.2L306.0 1485.2L306.7 1502.6L307.3 1511.6L308.0 1493.7L308.6 1497.0L309.3 1490.7L309.9 1502.6L310.6 1500.7L311.2 1500.7L311.9 1490.7L312.5 1481.6L313.2 1504.7L313.8 1506.9L314.5 1502.6L315.1 1487.9L315.8 1487.9L316.4 1500.7L317.1 1493.7L317.7 1490.7L318.4 1497.0L319.0 1498.8L319.7 1495.3L320.3 1487.9L321.0 1495.3L321.6 1498.8L322.3 1490.7L322.9 1479.4L323.6 1489.2L324.2 1477.2L324.9 1476.2L325.5 1480.5L326.2 1474.3L326.8 1472.4L327.5 1465.8L328.1 1462.9L328.8 1473.3L329.4 1462.9L330.1 1478.3L330.7 1469.0L331.4 1466.6L332.0 1463.6L332.7 1458.8L333.3 1460.1L334.0 1468.1L334.6 1468.1L335.3 1452.4L335.9 1449.3L336.6 1455.8L337.2 1442.2L337.9 1445.6L338.5 1452.4L339.2 1454.1L339.8 1444.7L340.5 1442.2L341.1 1443.0L341.8 1445.1L342.4 1443.0L343.1 1447.9L343.7 1443.0L344.4 1446.0L345.0 1448.4L345.7 1439.4L346.3 1451.4L347.0 1446.0L347.6 1447.9L348.3 1446.0L348.9 1443.4L349.6 1450.9L350.2 1450.4L350.9 1438.3L351.5 1443.8L352.2 1449.3L352.8 1449.3L353.5 1447.4L354.1 1446.0L354.8 1459.5L355.4 1454.6L356.1 1452.4L356.7 1450.4L357.4 1463.6L358.0 1451.4L358.7 1457.6L359.3 1459.5L360.0 1453.0L360.6 1458.2L361.3 1456.4L361.9 1458.2L362.6 1468.1L363.2 1448.4L363.9 1462.9L364.5 1462.9L365.2 1466.6L365.8 1464.3L366.5 1456.4L367.1 1457.6L367.8 1458.2L368.4 1462.9L369.1 1456.4L369.7 1460.8L370.4 1455.2L371.0 1448.9L371.7 1448.4L372.3 1437.9L373.0 1438.6L373.6 1429.1L374.3 1428.3L374.9 1414.6L375.6 1409.7L376.2 1409.0L376.9 1397.6L377.5 1393.4L378.2 1385.8L378.8 1377.7L379.5 1373.3L380.1 1368.1L380.8 1361.9L381.4 1356.0L382.1 1349.5L382.7 1344.0L383.4 1338.6L384.0 1333.9L384.7 1327.9L385.3 1323.5L386.0 1319.4L386.6 1316.6L387.3 1312.5L387.9 1308.4L388.6 1306.0L389.2 1302.8L389.9 1299.8L390.5 1296.9L391.2 1293.1L391.8 1291.1L392.5 1287.3L393.1 1285.8L393.8 1283.5L394.4 1280.5L395.1 1277.5L395.7 1276.5L396.4 1273.7L397.0 1271.5L397.7 1268.9L398.3 1267.5L399.0 1265.6L399.6 1263.2L400.3 1262.1L400.9 1260.6L401.6 1258.1L402.2 1256.6L402.9 1255.7L403.5 1254.4L404.2 1253.0L404.8 1251.9L405.5 1250.5L406.1 1250.1L406.8 1249.6L407.4 1248.7L408.1 1248.7L408.7 1248.4L409.4 1248.3L410.0 1247.8L410.7 1248.0L411.3 1247.8L412.0 1248.7L412.6 1249.3L413.3 1250.2L413.9 1250.8L414.6 1251.5L415.2 1252.6L415.9 1253.8L416.5 1255.0L417.2 1256.4L417.8 1258.4L418.5 1259.6L419.1 1261.6L419.8 1262.8L420.4 1265.0L421.1 1266.5L421.7 1268.3L422.4 1270.8L423.0 1272.3L423.7 1274.8L424.3 1275.9L425.0 1280.0L425.6 1281.8L426.3 1284.2L426.9 1287.6L427.6 1289.9L428.2 1293.3L428.9 1295.8L429.5 1298.9L430.2 1299.9L430.8 1304.4L431.5 1307.3L432.1 1310.2L432.8 1314.5L433.4 1317.6L434.1 1321.9L434.7 1325.3L435.4 1327.7L436.0 1332.6L436.7 1333.0L437.3 1339.7L438.0 1340.9L438.6 1343.8L439.3 1347.9L439.9 1352.6L440.6 1356.7L441.2 1359.4L441.9 1362.3L442.5 1368.9L443.2 1369.5L443.8 1373.0L444.5 1379.0L445.1 1380.7L445.8 1384.3L446.4 1387.3L447.1 1389.2L447.7 1394.1L448.4 1400.3L449.0 1403.6L449.7 1408.4L450.3 1414.6L451.0 1415.8L451.6 1418.8L452.3 1420.3L452.9 1427.1L453.6 1426.1L454.2 1435.8L454.9 1437.2L455.5 1442.2L456.2 1443.4L456.8 1455.8L457.5 1452.4L458.1 1450.9L458.8 1460.1L459.4 1462.2L460.1 1462.9L460.7 1460.8L461.4 1465.0L462.0 1467.3L462.7 1472.4L463.3 1473.3L464.0 1480.5L464.6 1471.5L465.3 1478.3L465.9 1484.0L466.6 1485.2L467.2 1497.0L467.9 1502.6L468.5 1506.9L469.2 1486.5L469.8 1489.2L470.5 1500.7L471.1 1493.7L471.8 1495.3L472.4 1497.0L473.1 1506.9L473.7 1498.8L474.4 1493.7L475.0 1511.6L475.7 1504.7L476.3 1509.2L477.0 1492.2L477.6 1493.7L478.3 1498.8L478.9 1485.2L479.6 1498.8L480.2 1498.8L480.9 1495.3L481.5 1495.3L482.2 1489.2L482.8 1500.7L483.5 1485.2L484.1 1498.8L484.8 1514.2L485.4 1497.0L486.1 1498.8L486.7 1504.7L487.4 1514.2L488.0 1511.6L488.7 1502.6L489.3 1498.8L490.0 1520.1L490.6 1535.5L491.3 1504.7L491.9 1506.9L492.6 1489.2L493.2 1497.0L493.9 1498.8L494.5 1509.2L495.2 1506.9L495.8 1523.4L496.5 1486.5L497.1 1487.9L497.8 1495.3L498.4 1495.3L499.1 1492.2L499.7 1497.0L500.4 1504.7L501.0 1498.8L501.7 1498.8L502.3 1504.7L503.0 1497.0L503.6 1493.7L504.3 1495.3L504.9 1506.9L505.6 1511.6L506.2 1514.2L506.9 1489.2L507.5 1495.3L508.2 1495.3L508.8 1506.9L509.5 1514.2L510.1 1504.7L510.8 1506.9L511.4 1493.7L512.1 1504.7L512.7 1504.7L513.4 1504.7L514.0 1500.7L514.7 1504.7L515.3 1502.6L516.0 1506.9L516.6 1493.7L517.3 1506.9L517.9 1490.7L518.6 1506.9L519.2 1498.8L519.9 1506.9L520.5 1493.7L521.2 1500.7L521.8 1492.2L522.5 1504.7L523.1 1506.9L523.8 1502.6L524.4 1498.8L525.1 1489.2L525.7 1493.7L526.4 1493.7L527.0 1484.0L527.7 1504.7L528.3 1486.5L529.0 1490.7L529.6 1492.2L530.3 1486.5L530.9 1490.7L531.6 1478.3L532.2 1484.0L532.9 1485.2L533.5 1497.0L534.2 1502.6L534.8 1484.0L535.5 1500.7L536.1 1495.3L536.8 1481.6L537.4 1481.6L538.1 1487.9L538.7 1476.2L539.4 1481.6L540.0 1472.4L540.7 1484.0L541.3 1473.3L542.0 1470.7L542.6 1469.0L543.3 1470.7L543.9 1480.5L544.6 1475.2L545.2 1467.3L545.9 1478.3L546.5 1474.3L547.2 1463.6L547.8 1470.7L548.5 1478.3L549.1 1462.2L549.8 1468.1L550.4 1470.7L551.1 1476.2L551.7 1473.3L552.4 1465.8L553.0 1477.2L553.7 1470.7L554.3 1474.3L555.0 1471.5L555.6 1478.3L556.3 1466.6L556.9 1468.1L557.6 1478.3L558.2 1465.8L558.9 1480.5L559.5 1477.2L560.2 1471.5L560.8 1473.3L561.5 1487.9L562.1 1495.3L562.8 1479.4L563.4 1482.8L564.1 1477.2L564.7 1490.7L565.4 1480.5L566.0 1502.6L566.7 1493.7L567.3 1487.9L568.0 1504.7L568.6 1473.3L569.3 1497.0L569.9 1486.5L570.6 1497.0L571.2 1487.9L571.9 1492.2L572.5 1489.2L573.2 1487.9L573.8 1490.7L574.5 1498.8L575.1 1495.3L575.8 1490.7L576.4 1500.7L577.1 1479.4L577.7 1495.3L578.4 1506.9L579.0 1504.7L579.7 1492.2L580.3 1490.7L581.0 1502.6L581.6 1492.2L582.3 1480.5L582.9 1535.5L583.6 1489.2L584.2 1492.2L584.9 1500.7L585.5 1495.3L586.2 1493.7L586.8 1511.6L587.5 1489.2L588.1 1502.6L588.8 1497.0L589.4 1514.2L590.1 1504.7L590.7 1504.7L591.4 1520.1L592.0 1495.3L592.7 1492.2L593.3 1498.8L594.0 1482.8L594.6 1489.2L595.3 1487.9L595.9 1498.8L596.6 1490.7L597.2 1489.2L597.9 1495.3L598.5 1485.2L599.2 1492.2L599.8 1506.9L600.5 1511.6L601.1 1476.2L601.8 1489.2L602.4 1485.2L603.1 1482.8L603.7 1493.7L604.4 1489.2L605.0 1485.2L605.7 1482.8L606.3 1480.5L607.0 1475.2L607.6 1477.2L608.3 1474.3L608.9 1474.3L609.6 1477.2L610.2 1464.3L610.9 1475.2L611.5 1465.8L612.2 1475.2L612.8 1472.4L613.5 1470.7L614.1 1471.5L614.8 1470.7L615.4 1469.0L616.1 1460.8L616.7 1462.9L617.4 1465.8L618.0 1460.1L618.7 1458.2L619.3 1459.5L620.0 1457.0L620.6 1464.3L621.3 1452.4L621.9 1451.9L622.6 1456.4L623.2 1458.2L623.9 1451.4L624.5 1449.8L625.2 1463.6L625.8 1447.0L626.5 1451.4L627.1 1447.4L627.8 1445.1L628.4 1453.0L629.1 1452.4L629.7 1457.0L630.4 1448.9L631.0 1445.1L631.7 1450.4L632.3 1454.1L633.0 1455.2L633.6 1452.4L634.3 1458.2L634.9 1455.2L635.6 1455.2L636.2 1457.6L636.9 1462.9L637.5 1463.6L638.2 1470.7L638.8 1462.9L639.5 1468.1L640.1 1467.3L640.8 1471.5L641.4 1469.0L642.1 1478.3L642.7 1465.8L643.4 1476.2L644.0 1487.9L644.7 1474.3L645.3 1473.3L646.0 1477.2L646.6 1487.9L647.3 1475.2L647.9 1481.6L648.6 1486.5L649.2 1478.3L649.9 1478.3L650.5 1482.8L651.2 1486.5L651.8 1504.7L652.5 1484.0L653.1 1497.0L653.8 1482.8L654.4 1498.8L655.1 1509.2L655.7 1486.5L656.4 1479.4L657.0 1493.7L657.7 1498.8L658.3 1484.0L659.0 1498.8L659.6 1490.7L660.3 1498.8L660.9 1497.0L661.6 1486.5L662.2 1487.9L662.9 1500.7L663.5 1487.9L664.2 1482.8L664.8 1502.6L665.5 1509.2L666.1 1504.7L666.8 1480.5L667.4 1498.8L668.1 1487.9L668.7 1482.8L669.4 1486.5L670.0 1493.7L670.7 1498.8L671.3 1490.7L672.0 1486.5L672.6 1504.7L673.3 1492.2L673.9 1498.8L674.6 1497.0L675.2 1479.4L675.9 1495.3L676.5 1482.8L677.2 1484.0L677.8 1486.5L678.5 1482.8L679.1 1484.0L679.8 1495.3L680.4 1497.0L681.1 1476.2L681.7 1475.2L682.4 1474.3L683.0 1474.3L683.7 1481.6L684.3 1471.5L685.0 1460.1L685.6 1476.2L686.3 1473.3L686.9 1470.7L687.6 1462.2L688.2 1477.2L688.9 1460.8L689.5 1462.2L690.2 1454.1L690.8 1451.4L691.5 1458.2L692.1 1458.2L692.8 1457.0L693.4 1450.4L694.1 1443.4L694.7 1450.9L695.4 1440.2L696.0 1453.0L696.7 1443.8L697.3 1439.8L698.0 1436.5L698.6 1431.2L699.3 1436.1L699.9 1441.8L700.6 1426.3L701.2 1439.0L701.9 1421.7L702.5 1429.4L703.2 1423.2L703.8 1430.3L704.5 1426.1L705.1 1427.7L705.8 1426.3L706.4 1426.3L707.1 1419.0L707.7 1420.3L708.4 1422.5L709.0 1421.5L709.7 1421.3L710.3 1420.1L711.0 1421.3L711.6 1427.1L712.3 1421.5L712.9 1422.2L713.6 1422.7L714.2 1419.0L714.9 1419.9L715.5 1422.0L716.2 1417.2L716.8 1423.5L717.5 1419.0L718.1 1423.7L718.8 1423.2L719.4 1420.8L720.1 1419.7L720.7 1420.3L721.4 1422.5L722.0 1432.8L722.7 1428.5L723.3 1430.6L724.0 1433.4L724.6 1435.4L725.3 1431.8L725.9 1439.4L726.6 1439.0L727.2 1440.2L727.9 1440.2L728.5 1437.5L729.2 1445.6L729.8 1451.4L730.5 1445.6L731.1 1455.2L731.8 1460.8L732.4 1448.4L733.1 1453.0L733.7 1455.2L734.4 1459.5L735.0 1462.9L735.7 1450.9L736.3 1465.8L737.0 1460.1L737.6 1470.7L738.3 1474.3L738.9 1468.1L739.6 1465.8L740.2 1469.0L740.9 1475.2L741.5 1481.6L742.2 1484.0L742.8 1478.3L743.5 1472.4L744.1 1492.2L744.8 1493.7L745.4 1492.2L746.1 1487.9L746.7 1479.4L747.4 1493.7L748.0 1493.7L748.7 1486.5L749.3 1487.9L750.0 1485.2L750.6 1498.8L751.3 1500.7L751.9 1487.9L752.6 1489.2L753.2 1490.7L753.9 1506.9L754.5 1485.2L755.2 1502.6L755.8 1500.7L756.5 1484.0L757.1 1479.4L757.8 1495.3L758.4 1502.6L759.1 1489.2L759.7 1477.2L760.4 1477.2L761.0 1484.0L761.7 1480.5L762.3 1478.3L763.0 1490.7L763.6 1481.6L764.3 1477.2L764.9 1472.4L765.6 1475.2L766.2 1477.2L766.9 1481.6L767.5 1476.2L768.2 1487.9L768.8 1489.2L769.5 1475.2L770.1 1475.2L770.8 1484.0L771.4 1471.5L772.1 1478.3L772.7 1476.2L773.4 1478.3L774.0 1481.6L774.7 1471.5L775.3 1484.0L776.0 1471.5L776.6 1486.5L777.3 1473.3L777.9 1481.6L778.6 1476.2L779.2 1484.0L779.9 1478.3L780.5 1470.7L781.2 1474.3L781.8 1477.2L782.5 1472.4L783.1 1466.6L783.8 1478.3L784.4 1492.2L785.1 1478.3L785.7 1478.3L786.4 1472.4L787.0 1473.3L787.7 1471.5L788.3 1475.2L789.0 1469.0L789.6 1467.3L790.3 1462.2L790.9 1469.0L791.6 1471.5L792.2 1473.3L792.9 1467.3L793.5 1471.5L794.2 1458.2L794.8 1469.0L795.5 1470.7L796.1 1477.2L796.8 1468.1L797.4 1468.1L798.1 1460.8L798.7 1470.7L799.4 1470.7L800.0 1467.3L800.7 1465.8L801.3 1465.8L802.0 1475.2L802.6 1461.5L803.3 1463.6L803.9 1462.2L804.6 1467.3L805.2 1471.5L805.9 1479.4L806.5 1476.2L807.2 1487.9L807.8 1476.2L808.5 1470.7L809.1 1485.2L809.8 1486.5L810.4 1478.3L811.1 1481.6L811.7 1474.3L812.4 1489.2L813.0 1486.5L813.7 1484.0L814.3 1480.5L815.0 1484.0L815.6 1490.7L816.3 1475.2L816.9 1481.6L817.6 1489.2L818.2 1479.4L818.9 1493.7L819.5 1498.8L820.2 1490.7L820.8 1504.7L821.5 1487.9L822.1 1487.9L822.8 1497.0L823.4 1500.7L824.1 1495.3L824.7 1500.7L825.4 1485.2L826.0 1498.8L826.7 1497.0L827.3 1502.6L828.0 1487.9L828.6 1498.8L829.3 1493.7L829.9 1500.7L830.6 1502.6L831.2 1486.5L831.9 1500.7L832.5 1497.0L833.2 1500.7L833.8 1504.7L834.5 1498.8L835.1 1497.0L835.8 1497.0L836.4 1493.7L837.1 1504.7L837.7 1490.7L838.4 1486.5L839.0 1487.9L839.7 1490.7L840.3 1495.3L841.0 1504.7L841.6 1531.1L842.3 1500.7L842.9 1517.1L843.6 1502.6L844.2 1509.2L844.9 1498.8L845.5 1504.7L846.2 1495.3L846.8 1506.9L847.5 1509.2L848.1 1504.7L848.8 1500.7L849.4 1504.7L850.1 1492.2L850.7 1506.9L851.4 1500.7L852.0 1484.0L852.7 1500.7L853.3 1490.7L854.0 1485.2L854.6 1489.2L855.3 1509.2L855.9 1486.5L856.6 1504.7L857.2 1498.8L857.9 1504.7L858.5 1482.8L859.2 1486.5L859.8 1484.0L860.5 1489.2L861.1 1490.7L861.8 1482.8L862.4 1485.2L863.1 1480.5L863.7 1493.7L864.4 1486.5L865.0 1475.2L865.7 1478.3L866.3 1492.2L867.0 1490.7L867.6 1480.5L868.3 1472.4L868.9 1475.2L869.6 1468.1L870.2 1469.8L870.9 1467.3L871.5 1462.9L872.2 1462.9L872.8 1460.8L873.5 1467.3L874.1 1469.0L874.8 1455.2L875.4 1464.3L876.1 1461.5L876.7 1458.8L877.4 1455.2L878.0 1448.4L878.7 1457.0L879.3 1448.4L880.0 1449.3L880.6 1453.0L881.3 1451.9L881.9 1452.4L882.6 1449.8L883.2 1443.4L883.9 1443.0L884.5 1454.1L885.2 1451.4L885.8 1447.0L886.5 1444.3L887.1 1444.3L887.8 1450.9L888.4 1449.8L889.1 1446.5L889.7 1448.4L890.4 1443.4L891.0 1440.6L891.7 1441.4L892.3 1447.0L893.0 1444.3L893.6 1445.1L894.3 1443.4L894.9 1442.6L895.6 1441.4L896.2 1439.4L896.9 1446.5L897.5 1441.4L898.2 1444.7L898.8 1451.4L899.5 1446.0L900.1 1448.4L900.8 1446.0L901.4 1442.2L902.1 1443.0L902.7 1447.4L903.4 1452.4L904.0 1450.4L904.7 1448.9L905.3 1449.3L906.0 1447.4L906.6 1462.9L907.3 1459.5L907.9 1451.9L908.6 1447.9L909.2 1457.0L909.9 1458.2L910.5 1464.3L911.2 1467.3L911.8 1457.6L912.5 1460.8L913.1 1478.3L913.8 1479.4L914.4 1472.4L915.1 1474.3L915.7 1489.2L916.4 1487.9L917.0 1478.3L917.7 1480.5L918.3 1479.4L919.0 1485.2L919.6 1489.2L920.3 1485.2L920.9 1484.0L921.6 1487.9L922.2 1502.6L922.9 1480.5L923.5 1504.7L924.2 1502.6L924.8 1498.8L925.5 1500.7L926.1 1498.8L926.8 1495.3L927.4 1523.4L928.1 1498.8L928.7 1509.2L929.4 1511.6L930.0 1509.2L930.7 1493.7L931.3 1523.4L932.0 1509.2L932.6 1517.1L933.3 1514.2L933.9 1514.2L934.6 1509.2L935.2 1514.2L935.9 1511.6L936.5 1509.2L937.2 1511.6L937.8 1527.0L938.5 1504.7L939.1 1517.1L939.8 1504.7L940.4 1527.0L941.1 1520.1L941.7 1523.4L942.4 1527.0L943.0 1517.1L943.7 1535.5L944.3 1511.6L945.0 1553.4L945.6 1514.2L946.3 1514.2L946.9 1527.0L947.6 1517.1L948.2 1500.7L948.9 1514.2L949.5 1527.0L950.2 1502.6L950.8 1511.6L951.5 1527.0L952.1 1500.7L952.8 1527.0L953.4 1509.2L954.1 1502.6L954.7 1506.9L955.4 1523.4L956.0 1504.7L956.7 1509.2L957.3 1500.7L958.0 1500.7L958.6 1506.9L959.3 1504.7L959.9 1509.2L960.6 1520.1L961.2 1492.2L961.9 1504.7L962.5 1500.7L963.2 1500.7L963.8 1502.6L964.5 1517.1L965.1 1520.1L965.8 1504.7L966.4 1506.9L967.1 1490.7L967.7 1500.7L968.4 1498.8L969.0 1502.6L969.7 1500.7L970.3 1509.2L971.0 1495.3L971.6 1500.7L972.3 1504.7L972.9 1517.1L973.6 1504.7L974.2 1495.3L974.9 1514.2L975.5 1500.7L976.2 1523.4L976.8 1506.9L977.5 1485.2L978.1 1511.6L978.8 1495.3L979.4 1509.2L980.1 1497.0L980.7 1502.6L981.4 1498.8L982.0 1514.2L982.7 1497.0L983.3 1511.6L984.0 1497.0L984.6 1504.7L985.3 1506.9L985.9 1498.8L986.6 1495.3L987.2 1497.0L987.9 1497.0L988.5 1517.1L989.2 1527.0L989.8 1523.4L990.5 1531.1L991.1 1500.7L991.8 1511.6L992.4 1517.1L993.1 1514.2L993.7 1520.1L994.4 1527.0L995.0 1495.3L995.7 1500.7L996.3 1511.6L997.0 1523.4L997.6 1506.9L998.3 1502.6L998.9 1535.5L999.6 1535.5L1000.2 1509.2L1000.9 1523.4L1001.5 1506.9L1002.2 1511.6L1002.8 1509.2L1003.5 1531.1L1004.1 1527.0L1004.8 1517.1L1005.4 1509.2L1006.1 1517.1L1006.7 1514.2L1007.4 1511.6L1008.0 1523.4L1008.7 1520.1L1009.3 1527.0L1010.0 1520.1L1010.6 1527.0L1011.3 1509.2L1011.9 1546.5L1012.6 1540.6L1013.2 1527.0L1013.9 1520.1L1014.5 1514.2L1015.2 1523.4L1015.8 1540.6L1016.5 1523.4L1017.1 1546.5L1017.8 1523.4L1018.4 1509.2L1019.1 1531.1L1019.7 1517.1L1020.4 1523.4L1021.0 1540.6L1021.7 1531.1L1022.3 1561.9L1023.0 1535.5L1023.6 1535.5L1024.3 1523.4L1024.9 1523.4L1025.6 1527.0L1026.2 1535.5L1026.9 1553.4L1027.5 1509.2L1028.2 1553.4L1028.8 1531.1L1029.5 1527.0L1030.1 1514.2L1030.8 1514.2L1031.4 1511.6L1032.1 1517.1L1032.7 1520.1L1033.4 1517.1L1034.0 1531.1L1034.7 1523.4L1035.3 1520.1L1036.0 1527.0L1036.6 1506.9L1037.3 1511.6L1037.9 1553.4L1038.6 1523.4L1039.2 1540.6L1039.9 1535.5L1040.5 1520.1L1041.2 1546.5L1041.8 1517.1L1042.5 1527.0L1043.1 1540.6L1043.8 1546.5L1044.4 1504.7L1045.1 1523.4L1045.7 1561.9L1046.4 1531.1L1047.0 1520.1L1047.7 1517.1L1048.3 1520.1L1049.0 1531.1L1049.6 1506.9L1050.3 1523.4L1050.9 1514.2L1051.6 1531.1L1052.2 1509.2L1052.9 1511.6L1053.5 1523.4L1054.2 1517.1L1054.8 1531.1L1055.5 1511.6L1056.1 1502.6L1056.8 1506.9L1057.4 1540.6L1058.1 1517.1L1058.7 1535.5L1059.4 1514.2L1060.0 1511.6L1060.7 1511.6L1061.3 1502.6L1062.0 1511.6L1062.6 1531.1L1063.3 1527.0L1063.9 1506.9L1064.6 1523.4L1065.2 1517.1L1065.9 1514.2L1066.5 1506.9L1067.2 1514.2L1067.8 1527.0L1068.5 1504.7L1069.1 1511.6L1069.8 1495.3L1070.4 1502.6L1071.1 1509.2L1071.7 1514.2L1072.4 1540.6L1073.0 1520.1L1073.7 1506.9L1074.3 1511.6L1075.0 1500.7L1075.6 1504.7L1076.3 1493.7L1076.9 1502.6L1077.6 1493.7L1078.2 1486.5L1078.9 1493.7L1079.5 1495.3L1080.2 1498.8L1080.8 1502.6L1081.5 1490.7L1082.1 1486.5L1082.8 1504.7L1083.4 1492.2L1084.1 1504.7L1084.7 1495.3L1085.4 1506.9L1086.0 1484.0L1086.7 1493.7L1087.3 1484.0L1088.0 1486.5L1088.6 1502.6L1089.3 1493.7L1089.9 1475.2L1090.6 1489.2L1091.2 1480.5L1091.9 1480.5L1092.5 1481.6L1093.2 1480.5L1093.8 1485.2L1094.5 1482.8L1095.1 1485.2L1095.8 1474.3L1096.4 1476.2L1097.1 1478.3L1097.7 1485.2L1098.4 1476.2L1099.0 1502.6L1099.7 1481.6L1100.3 1480.5L1101.0 1473.3L1101.6 1489.2L1102.3 1486.5L1102.9 1482.8L1103.6 1495.3L1104.2 1493.7L1104.9 1487.9L1105.5 1492.2L1106.2 1487.9L1106.8 1479.4L1107.5 1473.3L1108.1 1490.7L1108.8 1485.2L1109.4 1502.6L1110.1 1498.8L1110.7 1506.9L1111.4 1502.6L1112.0 1495.3L1112.7 1489.2L1113.3 1490.7L1114.0 1493.7L1114.6 1490.7L1115.3 1485.2L1115.9 1502.6L1116.6 1500.7L1117.2 1509.2L1117.9 1506.9L1118.5 1493.7L1119.2 1498.8L1119.8 1500.7L1120.5 1511.6L1121.1 1498.8L1121.8 1498.8L1122.4 1498.8L1123.1 1520.1L1123.7 1500.7L1124.4 1511.6L1125.0 1492.2L1125.7 1511.6L1126.3 1514.2L1127.0 1502.6L1127.6 1506.9L1128.3 1497.0L1128.9 1511.6L1129.6 1500.7L1130.2 1517.1L1130.9 1540.6L1131.5 1520.1L1132.2 1509.2L1132.8 1517.1L1133.5 1502.6L1134.1 1509.2L1134.8 1517.1L1135.4 1506.9L1136.1 1509.2L1136.7 1498.8L1137.4 1511.6L1138.0 1504.7L1138.7 1535.5L1139.3 1540.6L1140.0 1517.1L1140.6 1514.2L1141.3 1500.7L1141.9 1520.1L1142.6 1527.0L1143.2 1514.2L1143.9 1517.1L1144.5 1523.4L1145.2 1527.0L1145.8 1506.9L1146.5 1514.2L1147.1 1527.0L1147.8 1520.1L1148.4 1540.6L1149.1 1514.2L1149.7 1511.6L1150.4 1523.4L1151.0 1540.6L1151.7 1520.1L1152.3 1531.1L1153.0 1523.4L1153.6 1535.5L1154.3 1527.0L1154.9 1535.5L1155.6 1527.0L1156.2 1527.0L1156.9 1517.1L1157.5 1546.5L1158.2 1540.6L1158.8 1511.6L1159.5 1531.1L1160.1 1514.2L1160.8 1506.9L1161.4 1540.6L1162.1 1517.1L1162.7 1511.6L1163.4 1531.1L1164.0 1527.0L1164.7 1523.4L1165.3 1509.2L1166.0 1535.5L1166.6 1546.5L1167.3 1514.2L1167.9 1506.9L1168.6 1517.1L1169.2 1540.6L1169.9 1520.1L1170.5 1514.2L1171.2 1517.1L1171.8 1520.1L1172.5 1509.2L1173.1 1520.1L1173.8 1527.0L1174.4 1531.1L1175.1 1502.6L1175.7 1520.1L1176.4 1520.1L1177.0 1535.5L1177.7 1511.6L1178.3 1506.9L1179.0 1546.5L1179.6 1517.1L1180.3 1520.1L1180.9 1535.5L1181.6 1523.4L1182.2 1540.6L1182.9 1546.5L1183.5 1527.0L1184.2 1517.1L1184.8 1509.2L1185.5 1517.1L1186.1 1517.1L1186.8 1511.6L1187.4 1523.4L1188.1 1520.1L1188.7 1509.2L1189.4 1514.2L1190.0 1531.1L1190.7 1514.2L1191.3 1517.1L1192.0 1506.9L1192.6 1520.1L1193.3 1517.1L1193.9 1520.1L1194.6 1511.6L1195.2 1535.5L1195.9 1517.1L1196.5 1517.1L1197.2 1506.9L1197.8 1520.1L1198.5 1553.4L1199.1 1500.7L1199.8 1527.0L1200.4 1517.1L1201.1 1531.1L1201.7 1502.6L1202.4 1523.4L1203.0 1514.2L1203.7 1500.7L1204.3 1523.4L1205.0 1500.7L1205.6 1509.2L1206.3 1509.2L1206.9 1509.2L1207.6 1509.2L1208.2 1502.6L1208.9 1506.9L1209.5 1523.4L1210.2 1514.2L1210.8 1514.2L1211.5 1511.6L1212.1 1517.1L1212.8 1527.0L1213.4 1514.2L1214.1 1514.2L1214.7 1506.9L1215.4 1506.9L1216.0 1535.5L1216.7 1527.0L1217.3 1517.1L1218.0 1511.6L1218.6 1509.2L1219.3 1514.2L1219.9 1527.0L1220.6 1514.2L1221.2 1511.6L1221.9 1523.4L1222.5 1540.6L1223.2 1514.2L1223.8 1509.2L1224.5 1535.5L1225.1 1535.5L1225.8 1506.9L1226.4 1514.2L1227.1 1520.1L1227.7 1531.1L1228.4 1527.0L1229.0 1546.5L1229.7 1497.0L1230.3 1531.1L1231.0 1517.1L1231.6 1511.6L1232.3 1527.0L1232.9 1546.5L1233.6 1509.2L1234.2 1511.6L1234.9 1523.4L1235.5 1514.2L1236.2 1517.1L1236.8 1535.5L1237.5 1553.4L1238.1 1523.4L1238.8 1523.4L1239.4 1502.6L1240.1 1511.6L1240.7 1531.1L1241.4 1531.1L1242.0 1535.5L1242.7 1523.4L1243.3 1520.1L1244.0 1531.1L1244.6 1531.1L1245.3 1520.1L1245.9 1540.6L1246.6 1517.1L1247.2 1523.4L1247.9 1527.0L1248.5 1517.1L1249.2 1517.1L1249.8 1514.2L1250.5 1531.1L1251.1 1527.0L1251.8 1523.4L1252.4 1520.1L1253.1 1502.6L1253.7 1535.5L1254.4 1527.0L1255.0 1527.0L1255.7 1511.6L1256.3 1527.0L1257.0 1517.1L1257.6 1514.2L1258.3 1502.6L1258.9 1572.9L1259.6 1514.2L1260.2 1520.1L1260.9 1511.6L1261.5 1531.1L1262.2 1517.1L1262.8 1509.2L1263.5 1535.5L1264.1 1531.1L1264.8 1527.0L1265.4 1511.6L1266.1 1517.1L1266.7 1546.5L1267.4 1523.4L1268.0 1514.2L1268.7 1523.4L1269.3 1540.6L1270.0 1523.4L1270.6 1509.2L1271.3 1572.9L1271.9 1517.1L1272.6 1520.1L1273.2 1511.6L1273.9 1509.2L1274.5 1509.2L1275.2 1531.1L1275.8 1514.2L1276.5 1511.6L1277.1 1511.6L1277.8 1523.4L1278.4 1514.2L1279.1 1523.4L1279.7 1527.0L1280.4 1511.6L1281.0 1514.2L1281.7 1523.4L1282.3 1520.1L1283.0 1523.4L1283.6 1517.1L1284.3 1523.4L1284.9 1520.1L1285.6 1520.1L1286.2 1523.4L1286.9 1500.7L1287.5 1509.2L1288.2 1495.3L1288.8 1517.1L1289.5 1514.2L1290.1 1514.2L1290.8 1506.9L1291.4 1498.8L1292.1 1509.2L1292.7 1489.2L1293.4 1504.7L1294.0 1498.8L1294.7 1514.2L1295.3 1511.6L1296.0 1509.2L1296.6 1511.6L1297.3 1527.0L1297.9 1506.9L1298.6 1514.2L1299.2 1504.7L1299.9 1493.7L1300.5 1500.7L1301.2 1509.2L1301.8 1490.7L1302.5 1498.8L1303.1 1500.7L1303.8 1500.7L1304.4 1504.7L1305.1 1497.0L1305.7 1497.0L1306.4 1498.8L1307.0 1490.7L1307.7 1498.8L1308.3 1493.7L1309.0 1492.2L1309.6 1506.9L1310.3 1500.7L1310.9 1502.6L1311.6 1490.7L1312.2 1495.3L1312.9 1495.3L1313.5 1497.0L1314.2 1495.3L1314.8 1490.7L1315.5 1490.7L1316.1 1498.8L1316.8 1495.3L1317.4 1497.0L1318.1 1502.6L1318.7 1489.2L1319.4 1500.7L1320.0 1497.0L1320.7 1489.2L1321.3 1500.7L1322.0 1487.9L1322.6 1495.3L1323.3 1493.7L1323.9 1492.2L1324.6 1487.9L1325.2 1493.7L1325.9 1495.3L1326.5 1490.7L1327.2 1482.8L1327.8 1490.7L1328.5 1489.2L1329.1 1493.7L1329.8 1493.7L1330.4 1492.2L1331.1 1495.3L1331.7 1495.3L1332.4 1504.7L1333.0 1492.2L1333.7 1498.8L1334.3 1502.6L1335.0 1514.2L1335.6 1498.8L1336.3 1498.8L1336.9 1504.7L1337.6 1493.7L1338.2 1490.7L1338.9 1506.9L1339.5 1500.7L1340.2 1520.1L1340.8 1497.0L1341.5 1498.8L1342.1 1492.2L1342.8 1509.2L1343.4 1497.0L1344.1 1535.5L1344.7 1527.0L1345.4 1492.2L1346.0 1511.6L1346.7 1509.2L1347.3 1509.2L1348.0 1520.1L1348.6 1514.2L1349.3 1504.7L1349.9 1520.1L1350.6 1502.6L1351.2 1523.4L1351.9 1509.2L1352.5 1500.7L1353.2 1504.7L1353.8 1520.1L1354.5 1511.6L1355.1 1511.6L1355.8 1531.1L1356.4 1520.1L1357.1 1514.2L1357.7 1506.9L1358.4 1514.2L1359.0 1506.9L1359.7 1514.2L1360.3 1527.0L1361.0 1511.6L1361.6 1514.2L1362.3 1502.6L1362.9 1523.4L1363.6 1517.1L1364.2 1511.6L1364.9 1546.5L1365.5 1531.1L1366.2 1527.0L1366.8 1527.0L1367.5 1509.2L1368.1 1531.1L1368.8 1523.4L1369.4 1523.4L1370.1 1523.4L1370.7 1509.2L1371.4 1520.1L1372.0 1520.1L1372.7 1511.6L1373.3 1520.1L1374.0 1520.1L1374.6 1520.1L1375.3 1527.0L1375.9 1502.6L1376.6 1531.1L1377.2 1523.4L1377.9 1517.1L1378.5 1531.1L1379.2 1520.1L1379.8 1517.1L1380.5 1520.1L1381.1 1535.5L1381.8 1520.1L1382.4 1523.4L1383.1 1511.6L1383.7 1511.6L1384.4 1506.9L1385.0 1527.0L1385.7 1540.6L1386.3 1509.2L1387.0 1540.6L1387.6 1535.5L1388.3 1520.1L1388.9 1520.1L1389.6 1531.1L1390.2 1502.6L1390.9 1517.1L1391.5 1500.7L1392.2 1527.0L1392.8 1514.2L1393.5 1523.4L1394.1 1511.6L1394.8 1531.1L1395.4 1535.5L1396.1 1520.1L1396.7 1520.1L1397.4 1520.1L1398.0 1511.6L1398.7 1520.1L1399.3 1511.6L1400.0 1509.2L1400.6 1520.1L1401.3 1511.6L1401.9 1540.6L1402.6 1511.6L1403.2 1540.6L1403.9 1504.7L1404.5 1517.1L1405.2 1504.7L1405.8 1527.0L1406.5 1509.2L1407.1 1520.1L1407.8 1506.9L1408.4 1531.1L1409.1 1523.4L1409.7 1511.6L1410.4 1527.0L1411.0 1523.4L1411.7 1509.2L1412.3 1527.0L1413.0 1509.2L1413.6 1520.1L1414.3 1523.4L1414.9 1500.7L1415.6 1514.2L1416.2 1511.6L1416.9 1523.4L1417.5 1531.1L1418.2 1506.9L1418.8 1535.5L1419.5 1506.9L1420.1 1511.6L1420.8 1509.2L1421.4 1527.0L1422.1 1498.8L1422.7 1523.4L1423.4 1523.4L1424.0 1527.0L1424.7 1500.7L1425.3 1527.0L1426.0 1511.6L1426.6 1511.6L1427.3 1502.6L1427.9 1514.2L1428.6 1511.6L1429.2 1506.9L1429.9 1502.6L1430.5 1504.7L1431.2 1527.0L1431.8 1520.1L1432.5 1531.1L1433.1 1502.6L1433.8 1502.6L1434.4 1506.9L1435.1 1527.0L1435.7 1490.7L1436.4 1506.9L1437.0 1511.6L1437.7 1523.4L1438.3 1504.7L1439.0 1523.4L1439.6 1506.9L1440.3 1502.6L1440.9 1509.2L1441.6 1509.2L1442.2 1520.1L1442.9 1527.0L1443.5 1514.2L1444.2 1511.6L1444.8 1514.2L1445.5 1520.1L1446.1 1520.1L1446.8 1497.0L1447.4 1531.1L1448.1 1506.9L1448.7 1527.0L1449.4 1523.4L1450.0 1531.1L1450.7 1504.7L1451.3 1520.1L1452.0 1506.9L1452.6 1509.2L1453.3 1514.2L1453.9 1535.5L1454.6 1520.1L1455.2 1506.9L1455.9 1511.6L1456.5 1535.5L1457.2 1523.4L1457.8 1517.1L1458.5 1523.4L1459.1 1506.9L1459.8 1514.2L1460.4 1514.2L1461.1 1511.6L1461.7 1523.4L1462.4 1502.6L1463.0 1517.1L1463.7 1523.4L1464.3 1504.7L1465.0 1520.1L1465.6 1502.6L1466.3 1498.8L1466.9 1500.7L1467.6 1509.2L1468.2 1527.0L1468.9 1517.1L1469.5 1511.6L1470.2 1509.2L1470.8 1500.7L1471.5 1509.2L1472.1 1509.2L1472.8 1523.4L1473.4 1504.7L1474.1 1493.7L1474.7 1523.4L1475.4 1500.7L1476.0 1517.1L1476.7 1504.7L1477.3 1506.9L1478.0 1504.7L1478.6 1511.6L1479.3 1517.1L1479.9 1511.6L1480.6 1517.1L1481.2 1504.7L1481.9 1504.7L1482.5 1553.4L1483.2 1511.6L1483.8 1500.7L1484.5 1523.4L1485.1 1497.0L1485.8 1511.6L1486.4 1497.0L1487.1 1531.1L1487.7 1514.2L1488.4 1520.1L1489.0 1523.4L1489.7 1527.0L1490.3 1500.7L1491.0 1511.6L1491.6 1517.1L1492.3 1511.6L1492.9 1520.1L1493.6 1514.2L1494.2 1511.6L1494.9 1506.9L1495.5 1511.6L1496.2 1535.5L1496.8 1502.6L1497.5 1493.7L1498.1 1506.9L1498.8 1514.2L1499.4 1514.2L1500.1 1504.7L1500.7 1527.0L1501.4 1511.6L1502.0 1520.1L1502.7 1495.3L1503.3 1520.1L1504.0 1523.4L1504.6 1509.2L1505.3 1500.7L1505.9 1506.9L1506.6 1514.2L1507.2 1498.8L1507.9 1520.1L1508.5 1502.6L1509.2 1520.1L1509.8 1509.2L1510.5 1509.2L1511.1 1500.7L1511.8 1535.5L1512.4 1504.7L1513.1 1514.2L1513.7 1511.6L1514.4 1498.8L1515.0 1527.0L1515.7 1523.4L1516.3 1498.8L1517.0 1495.3L1517.6 1497.0L1518.3 1495.3L1518.9 1498.8L1519.6 1509.2L1520.2 1498.8L1520.9 1506.9L1521.5 1498.8L1522.2 1504.7L1522.8 1489.2L1523.5 1489.2L1524.1 1492.2L1524.8 1481.6L1525.4 1484.0L1526.1 1495.3L1526.7 1477.2L1527.4 1484.0L1528.0 1484.0L1528.7 1482.8L1529.3 1486.5L1530.0 1471.5L1530.6 1480.5L1531.3 1479.4L1531.9 1474.3L1532.6 1470.7L1533.2 1475.2L1533.9 1469.0L1534.5 1474.3L1535.2 1457.0L1535.8 1468.1L1536.5 1462.2L1537.1 1457.0L1537.8 1466.6L1538.4 1453.0L1539.1 1449.8L1539.7 1455.2L1540.4 1464.3L1541.0 1449.3L1541.7 1458.8L1542.3 1465.0L1543.0 1446.0L1543.6 1445.6L1544.3 1446.0L1544.9 1444.7L1545.6 1447.9L1546.2 1441.8L1546.9 1442.6L1547.5 1442.2L1548.2 1436.1L1548.8 1435.8L1549.5 1436.1L1550.1 1430.0L1550.8 1431.5L1551.4 1434.4L1552.1 1434.4L1552.7 1431.8L1553.4 1431.8L1554.0 1428.5L1554.7 1430.9L1555.3 1422.5L1556.0 1431.2L1556.6 1428.3L1557.3 1432.1L1557.9 1424.5L1558.6 1427.4L1559.2 1423.2L1559.9 1430.3L1560.5 1421.5L1561.2 1422.0L1561.8 1417.2L1562.5 1419.4L1563.1 1420.1L1563.8 1424.2L1564.4 1420.8L1565.1 1422.7L1565.7 1416.0L1566.4 1421.3L1567.0 1420.1L1567.7 1421.3L1568.3 1419.4L1569.0 1421.5L1569.6 1422.0L1570.3 1422.0L1570.9 1417.0L1571.6 1423.7L1572.2 1420.3L1572.9 1425.0L1573.5 1425.0L1574.2 1420.8L1574.8 1423.7L1575.5 1430.9L1576.1 1423.7L1576.8 1423.0L1577.4 1429.7L1578.1 1433.8L1578.7 1422.2L1579.4 1421.0L1580.0 1425.8L1580.7 1429.4L1581.3 1431.5L1582.0 1428.5L1582.6 1430.6L1583.3 1430.9L1583.9 1432.5L1584.6 1437.5L1585.2 1440.2L1585.9 1433.4L1586.5 1441.4L1587.2 1444.7L1587.8 1432.5L1588.5 1450.4L1589.1 1432.5L1589.8 1448.9L1590.4 1448.4L1591.1 1446.5L1591.7 1456.4L1592.4 1441.8L1593.0 1455.8L1593.7 1461.5L1594.3 1457.0L1595.0 1454.6L1595.6 1450.4L1596.3 1454.1L1596.9 1455.2L1597.6 1464.3L1598.2 1464.3L1598.9 1466.6L1599.5 1470.7L1600.2 1470.7L1600.8 1460.8L1601.5 1465.8L1602.1 1474.3L1602.8 1476.2L1603.4 1475.2L1604.1 1477.2L1604.7 1472.4L1605.4 1478.3L1606.0 1473.3L1606.7 1482.8L1607.3 1485.2L1608.0 1487.9L1608.6 1498.8L1609.3 1489.2L1609.9 1490.7L1610.6 1489.2L1611.2 1497.0L1611.9 1485.2L1612.5 1492.2L1613.2 1484.0L1613.8 1492.2L1614.5 1479.4L1615.1 1502.6L1615.8 1485.2L1616.4 1490.7L1617.1 1484.0L1617.7 1490.7L1618.4 1493.7L1619.0 1490.7L1619.7 1495.3L1620.3 1502.6L1621.0 1504.7L1621.6 1511.6L1622.3 1502.6L1622.9 1498.8L1623.6 1493.7L1624.2 1487.9L1624.9 1493.7L1625.5 1497.0L1626.2 1495.3L1626.8 1498.8L1627.5 1498.8L1628.1 1500.7L1628.8 1493.7L1629.4 1490.7L1630.1 1500.7L1630.7 1500.7L1631.4 1497.0L1632.0 1498.8L1632.7 1487.9L1633.3 1500.7L1634.0 1504.7L1634.6 1493.7L1635.3 1509.2L1635.9 1492.2L1636.6 1511.6L1637.2 1485.2L1637.9 1504.7L1638.5 1487.9L1639.2 1498.8L1639.8 1500.7L1640.5 1492.2L1641.1 1498.8L1641.8 1502.6L1642.4 1520.1L1643.1 1500.7L1643.7 1495.3L1644.4 1504.7L1645.0 1511.6L1645.7 1504.7L1646.3 1504.7L1647.0 1487.9L1647.6 1495.3L1648.3 1500.7L1648.9 1497.0L1649.6 1497.0L1650.2 1504.7L1650.9 1504.7L1651.5 1482.8L1652.2 1500.7L1652.8 1498.8L1653.5 1487.9L1654.1 1493.7L1654.8 1504.7L1655.4 1487.9L1656.1 1490.7L1656.7 1493.7L1657.4 1493.7L1658.0 1489.2L1658.7 1493.7L1659.3 1498.8L1660.0 1484.0L1660.6 1487.9L1661.3 1490.7L1661.9 1487.9L1662.6 1487.9L1663.2 1492.2L1663.9 1486.5L1664.5 1509.2L1665.2 1484.0L1665.8 1484.0L1666.5 1486.5L1667.1 1486.5L1667.8 1489.2L1668.4 1495.3L1669.1 1509.2L1669.7 1497.0L1670.4 1484.0L1671.0 1487.9L1671.7 1487.9L1672.3 1479.4L1673.0 1489.2L1673.6 1495.3L1674.3 1490.7L1674.9 1489.2L1675.6 1486.5L1676.2 1484.0L1676.9 1490.7L1677.5 1479.4L1678.2 1489.2L1678.8 1481.6L1679.5 1489.2L1680.1 1489.2L1680.8 1486.5L1681.4 1497.0L1682.1 1479.4L1682.7 1476.2L1683.4 1482.8L1684.0 1481.6L1684.7 1492.2L1685.3 1490.7L1686.0 1485.2L1686.6 1487.9L1687.3 1504.7L1687.9 1480.5L1688.6 1500.7L1689.2 1477.2L1689.9 1482.8L1690.5 1497.0L1691.2 1479.4L1691.8 1484.0L1692.5 1490.7L1693.1 1485.2L1693.8 1497.0L1694.4 1482.8L1695.1 1477.2L1695.7 1481.6L1696.4 1492.2L1697.0 1485.2L1697.7 1479.4L1698.3 1485.2L1699.0 1472.4L1699.6 1475.2L1700.3 1487.9L1700.9 1480.5L1701.6 1487.9L1702.2 1476.2L1702.9 1481.6L1703.5 1478.3L1704.2 1469.0L1704.8 1485.2L1705.5 1479.4L1706.1 1469.8L1706.8 1480.5L1707.4 1485.2L1708.1 1466.6L1708.7 1469.8L1709.4 1475.2L1710.0 1481.6L1710.7 1473.3L1711.3 1468.1L1712.0 1474.3L1712.6 1474.3L1713.3 1469.8L1713.9 1469.0L1714.6 1466.6L1715.2 1467.3L1715.9 1465.8L1716.5 1475.2L1717.2 1469.0L1717.8 1468.1L1718.5 1471.5L1719.1 1462.9L1719.8 1476.2L1720.4 1468.1L1721.1 1465.0L1721.7 1466.6L1722.4 1457.6L1723.0 1464.3L1723.7 1456.4L1724.3 1467.3L1725.0 1457.6L1725.6 1457.0L1726.3 1460.8L1726.9 1454.6L1727.6 1456.4L1728.2 1461.5L1728.9 1453.0L1729.5 1461.5L1730.2 1464.3L1730.8 1453.0L1731.5 1462.2L1732.1 1461.5L1732.8 1453.5L1733.4 1458.8L1734.1 1452.4L1734.7 1461.5L1735.4 1453.0L1736.0 1451.4L1736.7 1463.6L1737.3 1456.4L1738.0 1450.9L1738.6 1458.8L1739.3 1445.6L1739.9 1454.1L1740.6 1449.3L1741.2 1449.8L1741.9 1458.2L1742.5 1451.4L1743.2 1449.3L1743.8 1458.2L1744.5 1465.0L1745.1 1455.8L1745.8 1450.9L1746.4 1458.8L1747.1 1444.7L1747.7 1449.8L1748.4 1449.3L1749.0 1451.9L1749.7 1454.1L1750.3 1444.7L1751.0 1448.9L1751.6 1447.0L1752.3 1446.5L1752.9 1448.4L1753.6 1453.0L1754.2 1449.3L1754.9 1447.0L1755.5 1443.0L1756.2 1437.2L1756.8 1445.6L1757.5 1443.8L1758.1 1442.6L1758.8 1444.3L1759.4 1443.8L1760.1 1434.4L1760.7 1434.1L1761.4 1443.4L1762.0 1435.1L1762.7 1435.8L1763.3 1430.9L1764.0 1432.5L1764.6 1434.1L1765.3 1430.6L1765.9 1426.9L1766.6 1431.8L1767.2 1428.0L1767.9 1430.6L1768.5 1429.4L1769.2 1426.3L1769.8 1424.7L1770.5 1423.7L1771.1 1423.5L1771.8 1423.7L1772.4 1417.0L1773.1 1420.3L1773.7 1424.5L1774.4 1415.0L1775.0 1423.0L1775.7 1420.6L1776.3 1416.6L1777.0 1426.9L1777.6 1425.3L1778.3 1425.3L1778.9 1429.1L1779.6 1422.7L1780.2 1425.8L1780.9 1435.1L1781.5 1427.7L1782.2 1427.1L1782.8 1430.3L1783.5 1427.7L1784.1 1429.7L1784.8 1442.6L1785.4 1433.4L1786.1 1443.0L1786.7 1433.4L1787.4 1439.0L1788.0 1435.4L1788.7 1433.4L1789.3 1442.2L1790.0 1439.0L1790.6 1434.4L1791.3 1443.8L1791.9 1441.4L1792.6 1443.0L1793.2 1440.2L1793.9 1455.2L1794.5 1440.2L1795.2 1444.7L1795.8 1454.6L1796.5 1445.6L1797.1 1440.2L1797.8 1450.9L1798.4 1456.4L1799.1 1446.0L1799.7 1465.0L1800.4 1448.4L1801.0 1457.6L1801.7 1460.8L1802.3 1448.4L1803.0 1462.9L1803.6 1450.4L1804.3 1461.5L1804.9 1457.0L1805.6 1460.1L1806.2 1462.9L1806.9 1457.6L1807.5 1456.4L1808.2 1465.8L1808.8 1458.8L1809.5 1472.4L1810.1 1457.0L1810.8 1466.6L1811.4 1459.5L1812.1 1458.2L1812.7 1464.3L1813.4 1457.6L1814.0 1460.1L1814.7 1469.8L1815.3 1470.7L1816.0 1467.3L1816.6 1463.6L1817.3 1464.3L1817.9 1460.8L1818.6 1469.8L1819.2 1462.9L1819.9 1466.6L1820.5 1468.1L1821.2 1457.6L1821.8 1460.8L1822.5 1462.9L1823.1 1467.3L1823.8 1464.3L1824.4 1470.7L1825.1 1469.8L1825.7 1470.7L1826.4 1463.6L1827.0 1465.8L1827.7 1468.1L1828.3 1457.6L1829.0 1464.3L1829.6 1469.8L1830.3 1476.2L1830.9 1462.2L1831.6 1465.0L1832.2 1469.0L1832.9 1477.2L1833.5 1467.3L1834.2 1471.5L1834.8 1475.2L1835.5 1469.8L1836.1 1467.3L1836.8 1475.2L1837.4 1463.6L1838.1 1464.3L1838.7 1468.1L1839.4 1472.4L1840.0 1472.4L1840.7 1476.2L1841.3 1485.2L1842.0 1484.0L1842.6 1465.8L1843.3 1473.3L1843.9 1479.4L1844.6 1462.2L1845.2 1465.8L1845.9 1468.1L1846.5 1479.4L1847.2 1473.3L1847.8 1476.2L1848.5 1457.6L1849.1 1465.8L1849.8 1466.6L1850.4 1470.7L1851.1 1463.6L1851.7 1467.3L1852.4 1469.8L1853.0 1463.6L1853.7 1466.6L1854.3 1467.3L1855.0 1463.6L1855.6 1479.4L1856.3 1473.3L1856.9 1464.3L1857.6 1476.2L1858.2 1475.2L1858.9 1479.4L1859.5 1471.5L1860.2 1467.3L1860.8 1475.2L1861.5 1472.4L1862.1 1464.3L1862.8 1473.3L1863.4 1473.3L1864.1 1470.7L1864.7 1473.3L1865.4 1463.6L1866.0 1478.3L1866.7 1470.7L1867.3 1465.0L1868.0 1479.4L1868.6 1469.0L1869.3 1470.7L1869.9 1465.0L1870.6 1464.3L1871.2 1465.0L1871.9 1464.3L1872.5 1469.8L1873.2 1482.8L1873.8 1481.6L1874.5 1472.4L1875.1 1472.4L1875.8 1471.5L1876.4 1474.3L1877.1 1470.7L1877.7 1459.5L1878.4 1472.4L1879.0 1470.7L1879.7 1468.1L1880.3 1468.1L1881.0 1476.2L1881.6 1469.8L1882.3 1476.2L1882.9 1477.2L1883.6 1478.3L1884.2 1470.7L1884.9 1466.6L1885.5 1468.1L1886.2 1480.5L1886.8 1462.9L1887.5 1462.9L1888.1 1485.2L1888.8 1466.6L1889.4 1473.3L1890.1 1462.9L1890.7 1460.1L1891.4 1469.8L1892.0 1474.3L1892.7 1477.2L1893.3 1469.8L1894.0 1469.0L1894.6 1469.8L1895.3 1472.4L1895.9 1463.6L1896.6 1460.8L1897.2 1469.0L1897.9 1473.3L1898.5 1465.0L1899.2 1462.2L1899.8 1470.7L1900.5 1473.3L1901.1 1472.4L1901.8 1467.3L1902.4 1478.3L1903.1 1470.7L1903.7 1471.5L1904.4 1476.2L1905.0 1484.0L1905.7 1471.5L1906.3 1476.2L1907.0 1469.0L1907.6 1474.3L1908.3 1468.1L1908.9 1462.9L1909.6 1469.0L1910.2 1465.0L1910.9 1466.6L1911.5 1468.1L1912.2 1457.0L1912.8 1472.4L1913.5 1465.8L1914.1 1466.6L1914.8 1465.8L1915.4 1469.8L1916.1 1465.8L1916.7 1481.6L1917.4 1469.8L1918.0 1479.4L1918.7 1465.0L1919.3 1467.3L1920.0 1476.2L1920.6 1469.8L1921.3 1470.7L1921.9 1465.0L1922.6 1476.2L1923.2 1475.2L1923.9 1466.6L1924.5 1458.8L1925.2 1471.5L1925.8 1461.5L1926.5 1476.2L1927.1 1475.2L1927.8 1459.5L1928.4 1460.8L1929.1 1470.7L1929.7 1468.1L1930.4 1463.6L1931.0 1469.8L1931.7 1469.8L1932.3 1469.0L1933.0 1467.3L1933.6 1464.3L1934.3 1472.4L1934.9 1460.8L1935.6 1463.6L1936.2 1469.8L1936.9 1466.6L1937.5 1459.5L1938.2 1465.0L1938.8 1459.5L1939.5 1474.3L1940.1 1457.0L1940.8 1458.8L1941.4 1465.8L1942.1 1460.8L1942.7 1465.8L1943.4 1462.2L1944.0 1462.2L1944.7 1462.9L1945.3 1467.3L1946.0 1467.3L1946.6 1460.1L1947.3 1471.5L1947.9 1462.2L1948.6 1463.6L1949.2 1471.5L1949.9 1460.8L1950.5 1469.0L1951.2 1465.8L1951.8 1464.3L1952.5 1458.8L1953.1 1465.0L1953.8 1459.5L1954.4 1462.9L1955.1 1473.3L1955.7 1464.3L1956.4 1461.5L1957.0 1470.7L1957.7 1466.6L1958.3 1467.3L1959.0 1463.6L1959.6 1462.9L1960.3 1458.2L1960.9 1469.0L1961.6 1457.6L1962.2 1471.5L1962.9 1453.5L1963.5 1460.8L1964.2 1465.0L1964.8 1474.3L1965.5 1467.3L1966.1 1461.5L1966.8 1465.8L1967.4 1463.6L1968.1 1456.4L1968.7 1456.4L1969.4 1462.9L1970.0 1459.5L1970.7 1464.3L1971.3 1469.0L1972.0 1462.9L1972.6 1470.7L1973.3 1456.4L1973.9 1447.4L1974.6 1459.5L1975.2 1465.8L1975.9 1470.7L1976.5 1457.6L1977.2 1463.6L1977.8 1457.0L1978.5 1454.1L1979.1 1467.3L1979.8 1466.6L1980.4 1460.8L1981.1 1460.1L1981.7 1455.8L1982.4 1458.2L1983.0 1455.2L1983.7 1465.8L1984.3 1462.2L1985.0 1465.0L1985.6 1463.6L1986.3 1465.8L1986.9 1463.6L1987.6 1467.3L1988.2 1462.2L1988.9 1462.2L1989.5 1461.5L1990.2 1462.9L1990.8 1461.5L1991.5 1464.3L1992.1 1463.6L1992.8 1460.8L1993.4 1465.0L1994.1 1460.8L1994.7 1458.2L1995.4 1463.6L1996.0 1462.2L1996.7 1458.2L1997.3 1460.1L1998.0 1458.2L1998.6 1460.1L1999.3 1460.8L1999.9 1458.8L2000.6 1457.0L2001.2 1458.2L2001.9 1458.2L2002.5 1457.6L2003.2 1460.8L2003.8 1460.8L2004.5 1456.4L2005.1 1460.8L2005.8 1456.4L2006.4 1460.8L2007.1 1453.5L2007.7 1458.8L2008.4 1457.6L2009.0 1466.6L2009.7 1455.8L2010.3 1457.0L2011.0 1453.5L2011.6 1464.3L2012.3 1454.6L2012.9 1457.6L2013.6 1457.6L2014.2 1451.4L2014.9 1458.2L2015.5 1460.8L2016.2 1457.0L2016.8 1461.5L2017.5 1460.1L2018.1 1460.8L2018.8 1457.6L2019.4 1458.2L2020.1 1455.8L2020.7 1465.8L2021.4 1460.1L2022.0 1458.2L2022.7 1455.8L2023.3 1453.0L2024.0 1460.8L2024.6 1457.6L2025.3 1469.8L2025.9 1452.4L2026.6 1453.0L2027.2 1465.0L2027.9 1469.0L2028.5 1455.8L2029.2 1453.0L2029.8 1453.0L2030.5 1465.8L2031.1 1456.4L2031.8 1450.9L2032.4 1447.9L2033.1 1465.8L2033.7 1460.8L2034.4 1456.4L2035.0 1460.1L2035.7 1461.5L2036.3 1462.9L2037.0 1458.8L2037.6 1458.8L2038.3 1458.2L2038.9 1460.1L2039.6 1467.3L2040.2 1467.3L2040.9 1458.2L2041.5 1460.1L2042.2 1453.0L2042.8 1466.6L2043.5 1443.8L2044.1 1452.4L2044.8 1457.0L2045.4 1454.1L2046.1 1460.8L2046.7 1456.4L2047.4 1458.2L2048.0 1454.1L2048.7 1455.2L2049.3 1450.4L2050.0 1451.4L2050.6 1453.0L2051.3 1455.2L2051.9 1453.0L2052.6 1465.8L2053.2 1451.4L2053.9 1451.4L2054.5 1457.6L2055.2 1458.2L2055.8 1448.4L2056.5 1454.6L2057.1 1455.2L2057.8 1454.1L2058.4 1458.8L2059.1 1451.9L2059.7 1464.3L2060.4 1452.4L2061.0 1451.9L2061.7 1454.6L2062.3 1449.3L2063.0 1459.5L2063.6 1447.9L2064.3 1460.8L2064.9 1457.6L2065.6 1457.6L2066.2 1447.4L2066.9 1454.1L2067.5 1457.6L2068.2 1456.4L2068.8 1453.5L2069.5 1454.6L2070.1 1454.6L2070.8 1457.0L2071.4 1451.9L2072.1 1448.9L2072.7 1450.4L2073.4 1449.8L2074.0 1460.8L2074.7 1458.8L2075.3 1453.5L2076.0 1451.9L2076.6 1452.4L2077.3 1461.5L2077.9 1453.5L2078.6 1462.2L2079.2 1447.9L2079.9 1458.2L2080.5 1455.8L2081.2 1449.3L2081.8 1458.2L2082.5 1446.5L2083.1 1454.6L2083.8 1450.9L2084.4 1454.1L2085.1 1450.4L2085.7 1451.9L2086.4 1449.8L2087.0 1457.6L2087.7 1458.2L2088.3 1458.8L2089.0 1462.2L2089.6 1448.9L2090.3 1452.4L2090.9 1455.2L2091.6 1453.5L2092.2 1451.4L2092.9 1462.9L2093.5 1456.4L2094.2 1455.2L2094.8 1448.4L2095.5 1453.5L2096.1 1457.6L2096.8 1454.6L2097.4 1450.9L2098.1 1450.9L2098.7 1457.6L2099.4 1458.2L2100.0 1457.0L2100.7 1455.8L2101.3 1448.9L2102.0 1451.4L2102.6 1450.4L2103.3 1449.3L2103.9 1457.0L2104.6 1443.8L2105.2 1455.2L2105.9 1451.4L2106.5 1455.2L2107.2 1460.1L2107.8 1449.3L2108.5 1454.6L2109.1 1448.4L2109.8 1454.6L2110.4 1447.4L2111.1 1456.4L2111.7 1447.9L2112.4 1453.0L2113.0 1448.9L2113.7 1451.4L2114.3 1452.4L2115.0 1450.9L2115.6 1457.0L2116.3 1445.1L2116.9 1449.8L2117.6 1449.8L2118.2 1450.9L2118.9 1448.9L2119.5 1449.8L2120.2 1454.1L2120.8 1461.5L2121.5 1460.8L2122.1 1450.9L2122.8 1462.2L2123.4 1446.0L2124.1 1451.4L2124.7 1453.0L2125.4 1448.9L2126.0 1447.0L2126.7 1451.4L2127.3 1451.9L2128.0 1446.5L2128.6 1453.0L2129.3 1451.9L2129.9 1451.9L2130.6 1449.8L2131.2 1448.4L2131.9 1447.0L2132.5 1443.0L2133.2 1454.1L2133.8 1448.4L2134.5 1455.2L2135.1 1455.8L2135.8 1448.9L2136.4 1455.2L2137.1 1450.4L2137.7 1447.4L2138.4 1449.3L2139.0 1450.9L2139.7 1450.9L2140.3 1450.4L2141.0 1451.9L2141.6 1444.7L2142.3 1445.6L2142.9 1457.6L2143.6 1448.9L2144.2 1448.9L2144.9 1448.4L2145.5 1443.0L2146.2 1449.3L2146.8 1447.9L2147.5 1444.3L2148.1 1450.9L2148.8 1447.9L2149.4 1450.9L2150.1 1446.5L2150.7 1449.8L2151.4 1451.9L2152.0 1445.1L2152.7 1453.0L2153.3 1446.0L2154.0 1445.6L2154.6 1444.7L2155.3 1447.9L2155.9 1451.4L2156.6 1443.4L2157.2 1447.0L2157.9 1455.2L2158.5 1443.4L2159.2 1442.6L2159.8 1439.0L2160.5 1447.0L2161.1 1445.1L2161.8 1447.4L2162.4 1447.0L2163.1 1440.2L2163.7 1447.9L2164.4 1449.3L2165.0 1447.9L2165.7 1450.9L2166.3 1450.4L2167.0 1454.6L2167.6 1447.0L2168.3 1450.4L2168.9 1447.4L2169.6 1449.8L2170.2 1449.8L2170.9 1441.4L2171.5 1439.0L2172.2 1443.4L2172.8 1448.4L2173.5 1452.4L2174.1 1450.9L2174.8 1448.4L2175.4 1445.1L2176.1 1440.6L2176.7 1446.0L2177.4 1444.7L2178.0 1445.1L2178.7 1443.0L2179.3 1441.8L2180.0 1449.8L2180.6 1446.0L2181.3 1447.0L2181.9 1443.0L2182.6 1448.9L2183.2 1447.4L2183.9 1444.3L2184.5 1443.8L2185.2 1444.3L2185.8 1447.0L2186.5 1450.9L2187.1 1448.9L2187.8 1448.9L2188.4 1441.4L2189.1 1447.9L2189.7 1452.4L2190.4 1441.4L2191.0 1449.3L2191.7 1444.7L2192.3 1440.2L2193.0 1445.6L2193.6 1448.4L2194.3 1444.3L2194.9 1439.4L2195.6 1443.8L2196.2 1441.4L2196.9 1449.3L2197.5 1446.0L2198.2 1441.4L2198.8 1447.4L2199.5 1444.3L2200.1 1447.4L2200.8 1448.9L2201.4 1447.4L2202.1 1447.0L2202.7 1441.4L2203.4 1441.0L2204.0 1444.7L2204.7 1444.7L2205.3 1438.3L2206.0 1441.8L2206.6 1437.9L2207.3 1442.2L2207.9 1437.9L2208.6 1442.2L2209.2 1441.4L2209.9 1448.4L2210.5 1439.4L2211.2 1447.9L2211.8 1444.7L2212.5 1441.8L2213.1 1442.2L2213.8 1450.9L2214.4 1441.4L2215.1 1443.4L2215.7 1452.4L2216.4 1443.4L2217.0 1449.3L2217.7 1441.8L2218.3 1438.3L2219.0 1438.3L2219.6 1443.4L2220.3 1439.0L2220.9 1434.4L2221.6 1450.4L2222.2 1439.4L2222.9 1443.8L2223.5 1447.4L2224.2 1442.2L2224.8 1444.3L2225.5 1444.3L2226.1 1439.8L2226.8 1440.6L2227.4 1443.8L2228.1 1445.6L2228.7 1445.1L2229.4 1442.2L2230.0 1448.9L2230.7 1439.8L2231.3 1446.0L2232.0 1441.0L2232.6 1439.8L2233.3 1443.8L2233.9 1445.6L2234.6 1447.0L2235.2 1444.3L2235.9 1440.2L2236.5 1439.8L2237.2 1447.9L2237.8 1447.0L2238.5 1447.0L2239.1 1457.0L2239.8 1437.5L2240.4 1440.2L2241.1 1451.9L2241.7 1447.4L2242.4 1443.4L2243.0 1447.0L2243.7 1438.6L2244.3 1433.4L2245.0 1440.6L2245.6 1441.4L2246.3 1447.9L2246.9 1441.0L2247.6 1449.8L2248.2 1442.2L2248.9 1443.8L2249.5 1442.2L2250.2 1443.0L2250.8 1446.5L2251.5 1442.2L2252.1 1436.8L2252.8 1439.4L2253.4 1443.4L2254.1 1441.0L2254.7 1438.6L2255.4 1446.5L2256.0 1442.2L2256.7 1441.0L2257.3 1440.6L2258.0 1445.1L2258.6 1442.6L2259.3 1434.7L2259.9 1438.3L2260.6 1446.5L2261.2 1440.6L2261.9 1437.9L2262.5 1436.8L2263.2 1443.4L2263.8 1442.6L2264.5 1437.5L2265.1 1448.4L2265.8 1434.7L2266.4 1446.0L2267.1 1441.4L2267.7 1435.1L2268.4 1435.4L2269.0 1439.0L2269.7 1439.4L2270.3 1439.8L2271.0 1438.6L2271.6 1442.2L2272.3 1443.0L2272.9 1440.6L2273.6 1444.3L2274.2 1447.4L2274.9 1437.9L2275.5 1438.6L2276.2 1439.0L2276.8 1437.2L2277.5 1439.8L2278.1 1439.0L2278.8 1438.3L2279.4 1438.6L2280.1 1441.8L2280.7 1441.8L2281.4 1446.0L2282.0 1447.4L2282.7 1434.7L2283.3 1442.6L2284.0 1440.6L2284.6 1437.5L2285.3 1447.4L2285.9 1436.8L2286.6 1437.5L2287.2 1440.2L2287.9 1440.2L2288.5 1445.1L2289.2 1436.1L2289.8 1443.8L2290.5 1441.4L2291.1 1432.8L2291.8 1439.8L2292.4 1438.6L2293.1 1436.5L2293.7 1433.4L2294.4 1432.5" fill="none" stroke="#006400" stroke-width="7.5" stroke-linecap="round" stroke-linejoin="round" stroke-dasharray="0.01 28"/>
<path d="M185.0 1494.0L188.0 1494.2L191.0 1494.5L194.0 1494.7L197.0 1495.0L200.0 1495.3L203.0 1495.6L206.0 1496.0L209.0 1496.3L212.0 1496.7L215.0 1497.0L218.0 1497.4L221.0 1497.7L224.0 1498.1L227.0 1498.4L230.0 1498.8L233.0 1499.0L236.0 1499.2L239.0 1499.4L242.0 1499.5L245.0 1499.4L248.0 1499.3L251.0 1499.0L254.0 1498.7L257.0 1498.1L260.0 1497.4L263.0 1496.5L266.0 1495.3L269.0 1493.9L272.0 1492.3L275.0 1490.6L278.0 1489.0L281.0 1487.8L284.0 1487.1L287.0 1487.2L290.0 1487.9L293.0 1489.2L296.0 1490.8L299.0 1492.6L302.0 1494.5L305.0 1496.2L308.0 1497.5L311.0 1498.1L314.0 1497.9L317.0 1496.5L320.0 1493.8L323.0 1489.4L326.0 1483.2L329.0 1475.6L332.0 1467.4L335.0 1459.4L338.0 1452.4L341.0 1447.1L344.0 1444.1L347.0 1443.9L350.0 1446.5L353.0 1451.0L356.0 1456.1L359.0 1460.8L362.0 1464.1L365.0 1465.0L368.0 1461.9L371.0 1451.1L374.0 1429.8L377.0 1401.0L380.0 1370.0L383.0 1342.3L386.0 1320.9L389.0 1304.5L392.0 1291.2L395.0 1279.5L398.0 1269.5L401.0 1261.1L404.0 1254.5L407.0 1250.3L410.0 1248.9L413.0 1250.7L416.0 1255.3L419.0 1262.0L422.0 1270.5L425.0 1280.8L428.0 1292.8L431.0 1306.6L434.0 1321.9L437.0 1338.0L440.0 1354.7L443.0 1371.6L446.0 1388.8L449.0 1406.2L452.0 1423.9L455.0 1441.3L458.0 1457.7L461.0 1472.0L464.0 1483.7L467.0 1492.8L470.0 1499.4L473.0 1503.9L476.0 1506.5L479.0 1507.8L482.0 1508.3L485.0 1508.2L488.0 1508.2L491.0 1508.3L494.0 1508.6L497.0 1508.9L500.0 1509.2L503.0 1509.4L506.0 1509.5L509.0 1509.4L512.0 1509.1L515.0 1508.5L518.0 1507.4L521.0 1505.8L524.0 1503.5L527.0 1500.4L530.0 1496.7L533.0 1492.7L536.0 1488.5L539.0 1484.5L542.0 1480.8L545.0 1478.0L548.0 1476.3L551.0 1476.2L554.0 1477.8L557.0 1480.6L560.0 1484.3L563.0 1488.3L566.0 1492.2L569.0 1495.7L572.0 1498.8L575.0 1501.4L578.0 1503.5L581.0 1505.2L584.0 1506.3L587.0 1506.7L590.0 1506.3L593.0 1505.0L596.0 1502.7L599.0 1499.5L602.0 1495.3L605.0 1490.1L608.0 1484.2L611.0 1477.9L614.0 1471.6L617.0 1465.7L620.0 1460.6L623.0 1456.8L626.0 1454.8L629.0 1454.9L632.0 1457.4L635.0 1461.6L638.0 1466.9L641.0 1472.8L644.0 1478.7L647.0 1484.5L650.0 1489.8L653.0 1494.5L656.0 1498.4L659.0 1501.2L662.0 1503.0L665.0 1503.6L668.0 1502.9L671.0 1501.0L674.0 1497.8L677.0 1493.4L680.0 1487.7L683.0 1480.9L686.0 1473.3L689.0 1465.1L692.0 1456.6L695.0 1448.1L698.0 1440.2L701.0 1433.2L704.0 1427.7L707.0 1423.7L710.0 1421.5L713.0 1420.9L716.0 1422.2L719.0 1425.1L722.0 1429.8L725.0 1436.3L728.0 1444.1L731.0 1452.8L734.0 1462.0L737.0 1471.2L740.0 1479.9L743.0 1487.5L746.0 1493.4L749.0 1497.2L752.0 1498.9L755.0 1498.4L758.0 1496.4L761.0 1493.5L764.0 1490.3L767.0 1487.4L770.0 1485.4L773.0 1483.9L776.0 1482.6L779.0 1481.4L782.0 1479.8L785.0 1478.2L788.0 1476.6L791.0 1475.2L794.0 1474.3L797.0 1474.1L800.0 1474.7L803.0 1476.3L806.0 1478.7L809.0 1481.8L812.0 1485.5L815.0 1489.7L818.0 1494.1L821.0 1498.4L824.0 1502.5L827.0 1505.8L830.0 1508.3L833.0 1510.0L836.0 1510.9L839.0 1511.3L842.0 1511.4L845.0 1511.1L848.0 1510.2L851.0 1508.5L854.0 1505.7L857.0 1501.6L860.0 1496.5L863.0 1490.6L866.0 1484.2L869.0 1477.8L872.0 1471.6L875.0 1465.9L878.0 1460.7L881.0 1456.1L884.0 1452.2L887.0 1449.0L890.0 1446.8L893.0 1445.5L896.0 1445.2L899.0 1446.2L902.0 1448.8L905.0 1453.1L908.0 1459.4L911.0 1467.3L914.0 1476.3L917.0 1485.8L920.0 1495.3L923.0 1504.5L926.0 1512.9L929.0 1520.0L932.0 1525.5L935.0 1529.2L938.0 1531.3L941.0 1531.9L944.0 1531.2L947.0 1529.3L950.0 1526.7L953.0 1523.6L956.0 1520.3L959.0 1517.2L962.0 1514.5L965.0 1512.2L968.0 1510.6L971.0 1509.8L974.0 1509.8L977.0 1510.8L980.0 1512.6L983.0 1515.0L986.0 1518.0L989.0 1521.3L992.0 1524.7L995.0 1528.3L998.0 1531.9L1001.0 1535.3L1004.0 1538.4L1007.0 1541.3L1010.0 1543.6L1013.0 1545.5L1016.0 1547.0L1019.0 1548.0L1022.0 1548.8L1025.0 1549.2L1028.0 1549.5L1031.0 1549.5L1034.0 1549.4L1037.0 1549.2L1040.0 1548.8L1043.0 1548.3L1046.0 1547.7L1049.0 1546.9L1052.0 1545.7L1055.0 1543.9L1058.0 1541.2L1061.0 1537.7L1064.0 1533.2L1067.0 1528.0L1070.0 1522.5L1073.0 1516.8L1076.0 1511.3L1079.0 1506.0L1082.0 1501.3L1085.0 1497.1L1088.0 1493.7L1091.0 1491.1L1094.0 1489.4L1097.0 1488.7L1100.0 1489.1L1103.0 1490.5L1106.0 1492.9L1109.0 1496.2L1112.0 1500.3L1115.0 1505.0L1118.0 1510.1L1121.0 1515.2L1124.0 1520.1L1127.0 1524.5L1130.0 1528.4L1133.0 1531.7L1136.0 1534.5L1139.0 1536.8L1142.0 1538.6L1145.0 1540.0L1148.0 1541.1L1151.0 1541.8L1154.0 1542.2L1157.0 1542.4L1160.0 1542.3L1163.0 1542.0L1166.0 1541.6L1169.0 1541.0L1172.0 1540.2L1175.0 1539.3L1178.0 1538.3L1181.0 1537.1L1184.0 1535.9L1187.0 1534.6L1190.0 1533.3L1193.0 1532.2L1196.0 1531.2L1199.0 1530.6L1202.0 1530.3L1205.0 1530.5L1208.0 1531.0L1211.0 1531.9L1214.0 1533.0L1217.0 1534.2L1220.0 1535.4L1223.0 1536.5L1226.0 1537.5L1229.0 1538.4L1232.0 1539.1L1235.0 1539.7L1238.0 1540.2L1241.0 1540.6L1244.0 1540.9L1247.0 1541.2L1250.0 1541.4L1253.0 1541.6L1256.0 1541.7L1259.0 1541.7L1262.0 1541.5L1265.0 1541.1L1268.0 1540.4L1271.0 1539.4L1274.0 1538.1L1277.0 1536.5L1280.0 1534.4L1283.0 1532.0L1286.0 1529.3L1289.0 1526.3L1292.0 1523.2L1295.0 1520.0L1298.0 1516.7L1301.0 1513.4L1304.0 1510.3L1307.0 1507.3L1310.0 1504.7L1313.0 1502.4L1316.0 1500.7L1319.0 1499.4L1322.0 1498.8L1325.0 1498.9L1328.0 1499.8L1331.0 1501.3L1334.0 1503.6L1337.0 1506.5L1340.0 1509.9L1343.0 1513.5L1346.0 1517.2L1349.0 1520.9L1352.0 1524.3L1355.0 1527.5L1358.0 1530.3L1361.0 1532.7L1364.0 1534.5L1367.0 1535.7L1370.0 1536.6L1373.0 1537.1L1376.0 1537.4L1379.0 1537.5L1382.0 1537.5L1385.0 1537.4L1388.0 1537.3L1391.0 1537.1L1394.0 1536.9L1397.0 1536.6L1400.0 1536.2L1403.0 1535.8L1406.0 1535.3L1409.0 1534.7L1412.0 1534.1L1415.0 1533.4L1418.0 1532.7L1421.0 1531.9L1424.0 1531.0L1427.0 1530.2L1430.0 1529.3L1433.0 1528.5L1436.0 1527.8L1439.0 1527.1L1442.0 1526.5L1445.0 1526.1L1448.0 1525.7L1451.0 1525.5L1454.0 1525.5L1457.0 1525.7L1460.0 1526.0L1463.0 1526.4L1466.0 1526.8L1469.0 1527.3L1472.0 1527.8L1475.0 1528.3L1478.0 1528.7L1481.0 1529.0L1484.0 1529.2L1487.0 1529.3L1490.0 1529.3L1493.0 1529.3L1496.0 1529.3L1499.0 1529.3L1502.0 1529.0L1505.0 1528.4L1508.0 1526.9L1511.0 1524.5L1514.0 1520.7L1517.0 1515.7L1520.0 1509.6L1523.0 1502.9L1526.0 1495.8L1529.0 1488.5L1532.0 1481.2L1535.0 1473.9L1538.0 1466.7L1541.0 1459.6L1544.0 1452.8L1547.0 1446.2L1550.0 1440.2L1553.0 1435.0L1556.0 1430.5L1559.0 1427.1L1562.0 1424.8L1565.0 1423.5L1568.0 1423.1L1571.0 1423.7L1574.0 1425.2L1577.0 1427.7L1580.0 1431.2L1583.0 1435.7L1586.0 1441.1L1589.0 1447.4L1592.0 1454.3L1595.0 1461.5L1598.0 1469.1L1601.0 1476.6L1604.0 1483.9L1607.0 1490.9L1610.0 1497.1L1613.0 1502.5L1616.0 1506.9L1619.0 1510.1L1622.0 1512.5L1625.0 1514.2L1628.0 1515.2L1631.0 1515.8L1634.0 1515.9L1637.0 1515.8L1640.0 1515.5L1643.0 1514.9L1646.0 1514.1L1649.0 1513.3L1652.0 1512.3L1655.0 1511.4L1658.0 1510.5L1661.0 1509.8L1664.0 1509.1L1667.0 1508.6L1670.0 1508.1L1673.0 1507.5L1676.0 1506.9L1679.0 1506.1L1682.0 1505.2L1685.0 1504.0L1688.0 1502.5L1691.0 1500.7L1694.0 1498.7L1697.0 1496.5L1700.0 1494.2L1703.0 1491.8L1706.0 1489.4L1709.0 1487.1L1712.0 1484.8L1715.0 1482.7L1718.0 1480.8L1721.0 1479.2L1724.0 1477.8L1727.0 1476.8L1730.0 1476.2L1733.0 1476.1L1736.0 1476.4L1739.0 1477.2L1742.0 1478.2L1745.0 1479.4L1748.0 1480.9L1751.0 1482.3L1754.0 1483.8L1757.0 1485.3L1760.0 1486.7L1763.0 1488.1L1766.0 1489.3L1769.0 1490.5L1772.0 1491.5L1775.0 1492.5L1778.0 1493.2L1781.0 1493.8L1784.0 1494.3L1787.0 1494.6L1790.0 1494.8L1793.0 1494.9L1796.0 1494.8L1799.0 1494.7L1802.0 1494.5L1805.0 1494.2L1808.0 1493.8L1811.0 1493.4L1814.0 1492.9L1817.0 1492.4L1820.0 1491.9L1823.0 1491.3L1826.0 1490.8L1829.0 1490.2L1832.0 1489.7L1835.0 1489.2L1838.0 1488.7L1841.0 1488.2L1844.0 1487.8L1847.0 1487.4L1850.0 1487.1L1853.0 1486.7L1856.0 1486.4L1859.0 1486.1L1862.0 1485.8L1865.0 1485.5L1868.0 1485.3L1871.0 1485.0L1874.0 1484.8L1877.0 1484.5L1880.0 1484.3L1883.0 1484.1L1886.0 1483.9L1889.0 1483.7L1892.0 1483.4L1895.0 1483.2L1898.0 1483.0L1901.0 1482.8L1904.0 1482.5L1907.0 1482.3L1910.0 1482.0L1913.0 1481.8L1916.0 1481.5L1919.0 1481.3L1922.0 1481.0L1925.0 1480.7L1928.0 1480.4L1931.0 1480.2L1934.0 1479.9L1937.0 1479.6L1940.0 1479.3L1943.0 1479.0L1946.0 1478.7L1949.0 1478.4L1952.0 1478.1L1955.0 1477.8L1958.0 1477.4L1961.0 1477.1L1964.0 1476.8L1967.0 1476.5L1970.0 1476.2L1973.0 1475.8L1976.0 1475.5L1979.0 1475.2L1982.0 1474.9L1985.0 1474.6L1988.0 1474.2L1991.0 1473.9L1994.0 1473.6L1997.0 1473.3L2000.0 1472.9L2003.0 1472.6L2006.0 1472.3L2009.0 1472.0L2012.0 1471.7L2015.0 1471.3L2018.0 1471.0L2021.0 1470.7L2024.0 1470.4L2027.0 1470.1L2030.0 1469.8L2033.0 1469.5L2036.0 1469.2L2039.0 1468.9L2042.0 1468.6L2045.0 1468.3L2048.0 1468.0L2051.0 1467.7L2054.0 1467.4L2057.0 1467.2L2060.0 1466.9L2063.0 1466.6L2066.0 1466.3L2069.0 1466.1L2072.0 1465.8L2075.0 1465.5L2078.0 1465.3L2081.0 1465.0L2084.0 1464.7L2087.0 1464.5L2090.0 1464.2L2093.0 1464.0L2096.0 1463.7L2099.0 1463.5L2102.0 1463.2L2105.0 1463.0L2108.0 1462.7L2111.0 1462.5L2114.0 1462.2L2117.0 1462.0L2120.0 1461.7L2123.0 1461.5L2126.0 1461.3L2129.0 1461.0L2132.0 1460.8L2135.0 1460.5L2138.0 1460.3L2141.0 1460.1L2144.0 1459.9L2147.0 1459.6L2150.0 1459.4L2153.0 1459.2L2156.0 1458.9L2159.0 1458.7L2162.0 1458.5L2165.0 1458.3L2168.0 1458.1L2171.0 1457.8L2174.0 1457.6L2177.0 1457.4L2180.0 1457.2L2183.0 1457.0L2186.0 1456.8L2189.0 1456.5L2192.0 1456.3L2195.0 1456.1L2198.0 1455.9L2201.0 1455.7L2204.0 1455.5L2207.0 1455.3L2210.0 1455.1L2213.0 1454.8L2216.0 1454.6L2219.0 1454.4L2222.0 1454.2L2225.0 1454.0L2228.0 1453.8L2231.0 1453.6L2234.0 1453.4L2237.0 1453.2L2240.0 1453.0L2243.0 1452.8L2246.0 1452.6L2249.0 1452.4L2252.0 1452.1L2255.0 1451.9L2258.0 1451.7L2261.0 1451.5L2264.0 1451.3L2267.0 1451.1L2270.0 1450.9L2273.0 1450.7L2276.0 1450.5L2279.0 1450.3L2282.0 1450.1L2285.0 1449.9L2288.0 1449.6L2291.0 1449.4L2294.0 1449.2L2297.0 1449.0L2300.0 1448.8" fill="none" stroke="#ff0000" stroke-width="12.3" stroke-linecap="round" stroke-linejoin="round"/></g>
<g clip-path="url(#c3)"><path d="M210.1 2159.6L210.7 2131.0L211.4 2102.9L212.0 2074.9L212.6 2046.9L213.5 2018.5L215.0 1990.5L216.5 1975.0L219.4 1966.0L227.0 1967.5L230.5 1968.0L232.5 1968.1L234.5 1968.0L236.5 1967.7L238.5 1967.2L240.5 1966.6L242.5 1965.8L244.5 1965.2L246.5 1964.7L248.5 1964.3L250.5 1964.1L252.5 1963.9L254.5 1963.9L256.5 1963.8L258.5 1963.7L260.5 1963.6L262.5 1963.3L264.5 1963.0L266.5 1962.5L268.5 1962.0L270.5 1961.4L272.5 1960.7L274.5 1960.2L276.5 1959.7L278.5 1959.3L280.5 1959.2L282.5 1959.2L284.5 1959.4L286.5 1959.7L288.5 1960.1L290.5 1960.5L292.5 1960.9L294.5 1961.2L296.5 1961.3L298.5 1961.2L300.5 1960.8L302.5 1960.1L304.5 1959.0L306.5 1957.4L308.5 1955.5L310.5 1953.1L312.5 1950.5L314.5 1947.7L316.5 1944.8L318.5 1942.0L320.5 1939.3L322.5 1936.8L324.5 1934.6L326.5 1932.7L328.5 1931.0L330.5 1929.6L332.5 1928.5L334.5 1927.6L336.5 1927.0L338.5 1926.5L340.5 1926.2L342.5 1926.0L344.5 1926.0L346.5 1925.6L348.5 1925.3L350.5 1924.8L352.5 1924.5L354.5 1924.5L356.5 1924.8L358.5 1925.3L360.5 1925.8L362.5 1926.4L364.5 1926.3L366.5 1924.8L368.5 1922.6L370.5 1919.3L372.5 1915.0L374.5 1909.8L376.5 1903.9L378.5 1897.6L380.5 1891.2L382.5 1884.8L384.5 1878.7L386.5 1873.1L388.5 1868.0L390.5 1863.5L392.5 1859.7L394.5 1856.6L396.5 1854.4L398.5 1852.8L400.5 1852.0L402.5 1851.7L404.5 1851.9L406.5 1852.5L408.5 1853.0L410.5 1853.3L412.5 1853.5L414.5 1853.4L416.5 1853.6L418.5 1854.1L420.5 1855.1L422.5 1856.5L424.5 1858.6L426.5 1861.2L428.5 1864.6L430.5 1868.7L432.5 1873.5L434.5 1878.8L436.5 1884.8L438.5 1891.2L440.5 1898.0L442.5 1905.0L444.5 1912.0L446.5 1918.8L448.5 1925.3L450.5 1931.2L452.5 1936.5L454.5 1941.0L456.5 1944.7L458.5 1947.8L460.5 1950.4L462.5 1952.4L464.5 1954.1L466.5 1955.5L468.5 1956.6L470.5 1957.5L472.5 1958.3L474.5 1958.9L476.5 1959.4L478.5 1959.8L480.5 1960.1L482.5 1960.3L484.5 1960.5L486.5 1960.7L488.5 1960.8L490.5 1960.9L492.5 1961.0L494.5 1961.0L496.5 1961.1L498.5 1961.2L500.5 1961.3L502.5 1960.8L504.5 1959.8L506.5 1958.5L508.5 1957.1L510.5 1955.5L512.5 1953.7L514.5 1951.7L516.5 1949.4L518.5 1947.0L520.5 1944.4L522.5 1941.7L524.5 1938.7L526.5 1935.7L528.5 1932.6L530.5 1929.5L532.5 1926.4L534.5 1923.6L536.5 1920.9L538.5 1918.7L540.5 1916.8L542.5 1915.5L544.5 1914.7L546.5 1914.4L548.5 1914.6L550.5 1914.6L552.5 1914.9L554.5 1914.7L556.5 1914.9L558.5 1915.3L560.5 1916.1L562.5 1917.1L564.5 1918.4L566.5 1919.9L568.5 1921.7L570.5 1923.8L572.5 1926.1L574.5 1928.7L576.5 1931.5L578.5 1934.4L580.5 1937.4L582.5 1940.3L584.5 1943.0L586.5 1944.3L588.5 1942.7L590.5 1940.6L592.5 1938.0L594.5 1935.2L596.5 1932.0L598.5 1928.6L600.5 1925.1L602.5 1921.4L604.5 1917.7L606.5 1914.1L608.5 1910.8L610.5 1907.7L612.5 1905.1L614.5 1902.9L616.5 1901.3L618.5 1900.2L620.5 1899.7L622.5 1899.7L624.5 1900.2L626.5 1901.1L628.5 1901.7L630.5 1902.5L632.5 1902.9L634.5 1903.5L636.5 1904.5L638.5 1905.6L640.5 1907.1L642.5 1908.8L644.5 1910.8L646.5 1913.1L648.5 1915.7L650.5 1918.6L652.5 1921.8L654.5 1925.2L656.5 1928.7L658.5 1932.2L660.5 1935.6L662.5 1938.7L664.5 1941.5L666.5 1943.9L668.5 1945.8L670.5 1947.3L672.5 1948.5L674.5 1949.4L676.5 1950.1L678.5 1950.6L680.5 1951.1L682.5 1951.7L684.5 1952.3L686.5 1953.2L688.5 1954.2L690.5 1955.5L692.5 1957.0L694.5 1958.7L696.5 1960.5L698.5 1962.4L700.5 1964.4L702.5 1966.2L704.5 1968.0L706.5 1969.6L708.5 1971.0L710.5 1972.2L712.5 1973.2L714.5 1974.0L716.5 1974.6L718.5 1975.1L720.5 1975.6L722.5 1976.0L724.5 1976.5L726.5 1977.0L728.5 1977.6L730.5 1978.2L732.5 1978.9L734.5 1979.4L736.5 1979.3L738.5 1979.0L740.5 1978.3L742.5 1977.1L744.5 1975.5L746.5 1973.4L748.5 1970.8L750.5 1967.7L752.5 1964.1L754.5 1960.1L756.5 1955.7L758.5 1950.9L760.5 1946.0L762.5 1941.0L764.5 1936.1L766.5 1931.3L768.5 1926.7L770.5 1922.4L772.5 1918.3L774.5 1914.4L776.5 1910.7L778.5 1907.2L780.5 1903.7L782.5 1900.3L784.5 1897.1L786.5 1894.1L788.5 1891.3L790.5 1888.9L792.5 1886.8L794.5 1885.3L796.5 1884.5L798.5 1884.3L800.5 1883.8L802.5 1884.0L804.5 1884.0L806.5 1884.6L808.5 1885.9L810.5 1887.8L812.5 1890.2L814.5 1893.0L816.5 1896.3L818.5 1899.9L820.5 1903.9L822.5 1908.1L824.5 1912.5L826.5 1917.0L828.5 1921.5L830.5 1925.9L832.5 1930.1L834.5 1934.2L836.5 1938.0L838.5 1941.3L840.5 1944.2L842.5 1945.2L844.5 1942.8L846.5 1939.8L848.5 1936.3L850.5 1932.4L852.5 1928.2L854.5 1923.8L856.5 1919.2L858.5 1914.4L860.5 1909.5L862.5 1904.7L864.5 1899.9L866.5 1895.3L868.5 1891.0L870.5 1887.1L872.5 1883.7L874.5 1880.7L876.5 1878.3L878.5 1876.5L880.5 1875.2L882.5 1874.4L884.5 1874.0L886.5 1874.1L888.5 1874.4L890.5 1875.1L892.5 1875.6L894.5 1875.8L896.5 1876.0L898.5 1875.9L900.5 1876.1L902.5 1876.6L904.5 1877.6L906.5 1879.1L908.5 1881.1L910.5 1883.8L912.5 1887.2L914.5 1891.2L916.5 1895.9L918.5 1901.0L920.5 1906.6L922.5 1912.4L924.5 1918.4L926.5 1924.5L928.5 1930.5L930.5 1936.3L932.5 1941.7L934.5 1946.6L936.5 1950.9L938.5 1954.4L940.5 1957.1L942.5 1958.9L944.5 1958.7L946.5 1957.1L948.5 1955.3L950.5 1953.6L952.5 1952.0L954.5 1950.6L956.5 1949.4L958.5 1948.5L960.5 1947.7L962.5 1947.0L964.5 1946.3L966.5 1945.6L968.5 1945.0L970.5 1944.3L972.5 1943.3L974.5 1942.4L976.5 1941.3L978.5 1940.4L980.5 1939.9L982.5 1939.8L984.5 1940.1L986.5 1940.9L988.5 1942.1L990.5 1943.8L992.5 1945.9L994.5 1948.4L996.5 1951.1L998.5 1954.0L1000.5 1957.0L1002.5 1960.0L1004.5 1962.9L1006.5 1965.6L1008.5 1968.2L1010.5 1970.6L1012.5 1972.8L1014.5 1974.7L1016.5 1976.5L1018.5 1978.2L1020.5 1979.7L1022.5 1981.2L1024.5 1982.5L1026.5 1983.8L1028.5 1984.9L1030.5 1985.8L1032.5 1985.5L1034.5 1984.6L1036.5 1983.3L1038.5 1981.3L1040.5 1978.6L1042.5 1975.2L1044.5 1971.2L1046.5 1966.6L1048.5 1961.5L1050.5 1956.1L1052.5 1950.5L1054.5 1944.7L1056.5 1938.9L1058.5 1933.3L1060.5 1927.9L1062.5 1922.9L1064.5 1918.4L1066.5 1914.3L1068.5 1910.8L1070.5 1907.7L1072.5 1905.0L1074.5 1902.5L1076.5 1900.2L1078.5 1898.0L1080.5 1895.8L1082.5 1893.8L1084.5 1891.8L1086.5 1890.0L1088.5 1888.4L1090.5 1887.1L1092.5 1886.2L1094.5 1885.8L1096.5 1885.7L1098.5 1885.5L1100.5 1885.7L1102.5 1885.9L1104.5 1886.5L1106.5 1887.5L1108.5 1888.8L1110.5 1890.5L1112.5 1892.5L1114.5 1894.8L1116.5 1897.4L1118.5 1900.3L1120.5 1903.5L1122.5 1907.0L1124.5 1910.7L1126.5 1914.6L1128.5 1918.8L1130.5 1923.2L1132.5 1927.7L1134.5 1932.3L1136.5 1936.9L1138.5 1941.5L1140.5 1946.0L1142.5 1950.4L1144.5 1954.4L1146.5 1958.1L1148.5 1961.4L1150.5 1964.1L1152.5 1966.4L1154.5 1968.1L1156.5 1969.4L1158.5 1970.2L1160.5 1970.6L1162.5 1970.7L1164.5 1969.9L1166.5 1968.3L1168.5 1966.5L1170.5 1964.9L1172.5 1963.3L1174.5 1961.9L1176.5 1960.6L1178.5 1959.5L1180.5 1958.4L1182.5 1957.5L1184.5 1956.5L1186.5 1955.6L1188.5 1954.7L1190.5 1953.8L1192.5 1953.0L1194.5 1952.2L1196.5 1951.5L1198.5 1951.1L1200.5 1951.0L1202.5 1951.1L1204.5 1951.1L1206.5 1951.4L1208.5 1951.5L1210.5 1952.0L1212.5 1952.9L1214.5 1954.1L1216.5 1955.4L1218.5 1957.0L1220.5 1958.6L1222.5 1960.3L1224.5 1961.9L1226.5 1963.5L1228.5 1965.1L1230.5 1966.6L1232.5 1968.0L1234.5 1969.5L1236.5 1971.0L1238.5 1972.6L1240.5 1974.3L1242.5 1976.1L1244.5 1978.1L1246.5 1980.1L1248.5 1982.2L1250.5 1984.3L1252.5 1986.3L1254.5 1988.1L1256.5 1989.8L1258.5 1991.1L1260.5 1992.1L1262.5 1992.6L1264.5 1992.1L1266.5 1991.0L1268.5 1989.5L1270.5 1987.6L1272.5 1985.5L1274.5 1983.2L1276.5 1980.8L1278.5 1978.4L1280.5 1976.0L1282.5 1973.6L1284.5 1971.4L1286.5 1969.2L1288.5 1967.2L1290.5 1965.2L1292.5 1963.3L1294.5 1961.4L1296.5 1959.5L1298.5 1957.6L1300.5 1955.6L1302.5 1953.7L1304.5 1951.8L1306.5 1949.9L1308.5 1948.3L1310.5 1946.8L1312.5 1945.6L1314.5 1944.8L1316.5 1944.4L1318.5 1944.5L1320.5 1945.0L1322.5 1945.4L1324.5 1946.1L1326.5 1946.5L1328.5 1947.1L1330.5 1947.9L1332.5 1948.9L1334.5 1949.9L1336.5 1951.1L1338.5 1952.2L1340.5 1953.4L1342.5 1954.6L1344.5 1956.0L1346.5 1957.5L1348.5 1959.2L1350.5 1961.1L1352.5 1963.3L1354.5 1965.7L1356.5 1968.4L1358.5 1971.3L1360.5 1974.2L1362.5 1977.3L1364.5 1980.2L1366.5 1983.0L1368.5 1985.5L1370.5 1987.8L1372.5 1989.7L1374.5 1991.2L1376.5 1992.3L1378.5 1993.1L1380.5 1993.6L1382.5 1993.4L1384.5 1992.7L1386.5 1991.8L1388.5 1990.8L1390.5 1989.7L1392.5 1988.5L1394.5 1987.3L1396.5 1986.0L1398.5 1984.6L1400.5 1983.1L1402.5 1981.4L1404.5 1979.5L1406.5 1977.5L1408.5 1975.2L1410.5 1972.8L1412.5 1970.3L1414.5 1967.6L1416.5 1964.9L1418.5 1962.3L1420.5 1959.7L1422.5 1957.4L1424.5 1955.4L1426.5 1953.7L1428.5 1952.3L1430.5 1951.4L1432.5 1950.8L1434.5 1950.5L1436.5 1950.6L1438.5 1950.8L1440.5 1951.3L1442.5 1951.6L1444.5 1951.8L1446.5 1951.8L1448.5 1951.6L1450.5 1951.3L1452.5 1951.2L1454.5 1951.0L1456.5 1951.0L1458.5 1951.2L1460.5 1951.5L1462.5 1952.2L1464.5 1953.2L1466.5 1954.6L1468.5 1956.3L1470.5 1958.3L1472.5 1960.6L1474.5 1963.1L1476.5 1965.7L1478.5 1968.4L1480.5 1970.9L1482.5 1973.3L1484.5 1975.5L1486.5 1977.3L1488.5 1978.8L1490.5 1978.4L1492.5 1976.6L1494.5 1974.0L1496.5 1970.7L1498.5 1966.5L1500.5 1961.5L1502.5 1955.6L1504.5 1948.8L1506.5 1941.0L1508.5 1932.3L1510.5 1923.0L1512.5 1913.2L1514.5 1903.3L1516.5 1893.4L1518.5 1883.7L1520.5 1874.1L1522.5 1864.8L1524.5 1855.8L1526.5 1847.2L1528.5 1839.2L1530.5 1831.7L1532.5 1824.8L1534.5 1818.5L1536.5 1812.8L1538.5 1807.7L1540.5 1803.1L1542.5 1799.0L1544.5 1795.4L1546.5 1792.3L1548.5 1789.7L1550.5 1787.4L1552.5 1785.6L1554.5 1784.1L1556.5 1782.9L1558.5 1782.0L1560.5 1781.3L1562.5 1780.8L1564.5 1780.6L1566.5 1780.1L1568.5 1779.6L1570.5 1779.1L1572.5 1778.6L1574.5 1778.6L1576.5 1779.1L1578.5 1780.1L1580.5 1781.6L1582.5 1783.6L1584.5 1786.1L1586.5 1788.9L1588.5 1792.1L1590.5 1795.7L1592.5 1799.6L1594.5 1803.8L1596.5 1808.4L1598.5 1813.5L1600.5 1818.9L1602.5 1824.9L1604.5 1831.3L1606.5 1838.1L1608.5 1845.5L1610.5 1853.2L1612.5 1861.4L1614.5 1869.9L1616.5 1878.8L1618.5 1887.9L1620.5 1897.2L1622.5 1906.5L1624.5 1915.7L1626.5 1924.8L1628.5 1933.5L1630.5 1941.6L1632.5 1948.9L1634.5 1955.4L1636.5 1960.9L1638.5 1965.4L1640.5 1968.9L1642.5 1971.6L1644.5 1973.6L1646.5 1975.2L1648.5 1976.4L1650.5 1977.4L1652.5 1978.2L1654.5 1978.7L1656.5 1978.1L1658.5 1977.3L1660.5 1976.4L1662.5 1975.2L1664.5 1973.7L1666.5 1971.8L1668.5 1969.4L1670.5 1966.6L1672.5 1963.2L1674.5 1959.4L1676.5 1955.1L1678.5 1950.4L1680.5 1945.4L1682.5 1940.2L1684.5 1934.9L1686.5 1929.7L1688.5 1924.6L1690.5 1919.7L1692.5 1915.0L1694.5 1910.6L1696.5 1906.3L1698.5 1902.2L1700.5 1898.2L1702.5 1894.3L1704.5 1890.4L1706.5 1886.4L1708.5 1882.5L1710.5 1878.5L1712.5 1874.7L1714.5 1871.1L1716.5 1867.7L1718.5 1864.7L1720.5 1862.1L1722.5 1860.1L1724.5 1858.6L1726.5 1857.8L1728.5 1857.5L1730.5 1857.8L1732.5 1858.1L1734.5 1858.7L1736.5 1859.0L1738.5 1859.6L1740.5 1860.4L1742.5 1861.5L1744.5 1862.8L1746.5 1864.4L1748.5 1866.2L1750.5 1868.3L1752.5 1870.8L1754.5 1873.6L1756.5 1876.7L1758.5 1880.2L1760.5 1884.1L1762.5 1888.4L1764.5 1892.9L1766.5 1897.8L1768.5 1902.8L1770.5 1908.1L1772.5 1913.3L1774.5 1918.6L1776.5 1923.8L1778.5 1928.7L1780.5 1933.4L1782.5 1937.9L1784.5 1941.8L1786.5 1945.1L1788.5 1943.3L1790.5 1939.8L1792.5 1935.8L1794.5 1931.6L1796.5 1927.6L1798.5 1923.9L1800.5 1920.4L1802.5 1917.3L1804.5 1914.5L1806.5 1911.9L1808.5 1909.5L1810.5 1907.3L1812.5 1905.2L1814.5 1903.2L1816.5 1901.2L1818.5 1899.3L1820.5 1897.4L1822.5 1895.6L1824.5 1893.8L1826.5 1892.3L1828.5 1890.9L1830.5 1889.9L1832.5 1889.3L1834.5 1888.5L1836.5 1888.2L1838.5 1887.8L1840.5 1887.9L1842.5 1888.5L1844.5 1889.6L1846.5 1891.0L1848.5 1892.8L1850.5 1894.8L1852.5 1897.2L1854.5 1899.7L1856.5 1902.4L1858.5 1905.3L1860.5 1908.4L1862.5 1911.7L1864.5 1915.1L1866.5 1918.7L1868.5 1922.4L1870.5 1926.3L1872.5 1930.3L1874.5 1934.3L1876.5 1938.4L1878.5 1942.4L1880.5 1946.3L1882.5 1950.1L1884.5 1953.6L1886.5 1956.9L1888.5 1959.8L1890.5 1962.4L1892.5 1964.6L1894.5 1966.4L1896.5 1967.9L1898.5 1969.0L1900.5 1969.9L1902.5 1970.6L1904.5 1971.2L1906.5 1971.6L1908.5 1971.6L1910.5 1970.8L1912.5 1970.0L1914.5 1969.2L1916.5 1968.4L1918.5 1967.5L1920.5 1966.5L1922.5 1965.4L1924.5 1964.2L1926.5 1962.7L1928.5 1961.0L1930.5 1959.1L1932.5 1957.0L1934.5 1954.7L1936.5 1952.2L1938.5 1949.8L1940.5 1947.3L1942.5 1944.9L1944.5 1942.6L1946.5 1940.5L1948.5 1938.7L1950.5 1937.1L1952.5 1935.8L1954.5 1934.7L1956.5 1933.8L1958.5 1933.1L1960.5 1932.5L1962.5 1932.0L1964.5 1931.4L1966.5 1930.9L1968.5 1930.4L1970.5 1929.8L1972.5 1929.3L1974.5 1928.7L1976.5 1928.3L1978.5 1928.0L1980.5 1927.8L1982.5 1927.7L1984.5 1927.8L1986.5 1928.0L1988.5 1928.3L1990.5 1928.6L1992.5 1928.9L1994.5 1929.1L1996.5 1929.1L1998.5 1929.0L2000.5 1928.5L2002.5 1927.8L2004.5 1926.9L2006.5 1925.7L2008.5 1924.3L2010.5 1922.8L2012.5 1921.2L2014.5 1919.6L2016.5 1918.1L2018.5 1916.7L2020.5 1915.6L2022.5 1914.7L2024.5 1914.1L2026.5 1913.7L2028.5 1913.5L2030.5 1913.4L2032.5 1913.5L2034.5 1913.6L2036.5 1913.7L2038.5 1913.8L2040.5 1913.8L2042.5 1913.7L2044.5 1913.4L2046.5 1913.1L2048.5 1912.8L2050.5 1912.4L2052.5 1912.1L2054.5 1911.9L2056.5 1911.8L2058.5 1911.7L2060.5 1911.7L2062.5 1911.7L2064.5 1911.7L2066.5 1911.7L2068.5 1911.5L2070.5 1911.2L2072.5 1910.8L2074.5 1910.1L2076.5 1909.1L2078.5 1908.0L2080.5 1906.6L2082.5 1905.0L2084.5 1903.3L2086.5 1901.5L2088.5 1899.8L2090.5 1898.2L2092.5 1896.8L2094.5 1895.5L2096.5 1894.6L2098.5 1893.9L2100.5 1893.4L2102.5 1893.2L2104.5 1893.1L2106.5 1893.2L2108.5 1893.2L2110.5 1893.2L2112.5 1893.1L2114.5 1892.9L2116.5 1892.6L2118.5 1892.1L2120.5 1891.5L2122.5 1890.8L2124.5 1890.1L2126.5 1889.4L2128.5 1888.8L2130.5 1888.2L2132.5 1887.8L2134.5 1887.6L2136.5 1887.7L2138.5 1888.0L2140.5 1888.4L2142.5 1889.0L2144.5 1889.7L2146.5 1890.4L2148.5 1891.1L2150.5 1891.8L2152.5 1892.5L2154.5 1893.1L2156.5 1893.7L2158.5 1894.2L2160.5 1894.8L2162.5 1895.5L2164.5 1896.1L2166.5 1896.8L2168.5 1897.6L2170.5 1897.7L2172.5 1897.6L2174.5 1897.5L2176.5 1897.3L2178.5 1897.1L2180.5 1896.6L2182.5 1896.0L2184.5 1895.1L2186.5 1894.0L2188.5 1892.6L2190.5 1891.1L2192.5 1889.4L2194.5 1887.6L2196.5 1885.8L2198.5 1884.0L2200.5 1882.7L2202.5 1881.9L2209.0 1876.6L2211.0 1875.4L2213.0 1875.7L2215.0 1873.9L2217.0 1873.9L2219.0 1869.8L2221.0 1872.8L2223.0 1869.8L2225.0 1869.7L2227.0 1867.3L2229.0 1865.5L2231.0 1865.0L2233.0 1864.0L2235.0 1861.3L2237.0 1859.8L2239.0 1859.4L2241.0 1856.0L2243.0 1853.8L2245.0 1854.7L2247.0 1852.1L2249.0 1849.3L2251.0 1849.3L2253.0 1848.4L2255.0 1846.2L2257.0 1844.6L2259.0 1845.1L2261.0 1844.8L2263.0 1842.1L2265.0 1840.0L2267.0 1839.9L2269.0 1838.7L2271.0 1836.0L2273.0 1835.4L2275.0 1834.5L2277.0 1831.5L2279.0 1829.2L2281.0 1829.1L2283.0 1827.4L2285.0 1826.7L2287.0 1822.2L2289.0 1821.3L2291.0 1819.5L2293.0 1816.7L2295.0 1817.3L2297.0 1816.1L2299.0 1812.9" fill="none" stroke="#006400" stroke-width="8" stroke-linecap="round" stroke-linejoin="round" stroke-dasharray="0.01 28"/>
<path d="M222.5 1962.7L225.5 1963.8L228.5 1964.6L231.5 1965.1L234.5 1965.5L237.5 1965.7L240.5 1965.7L243.5 1965.5L246.5 1965.2L249.5 1964.8L252.5 1964.3L255.5 1963.7L258.5 1963.1L261.5 1962.5L264.5 1961.8L267.5 1961.1L270.5 1960.5L273.5 1960.0L276.5 1959.5L279.5 1959.1L282.5 1958.8L285.5 1958.6L288.5 1958.6L291.5 1958.5L294.5 1958.5L297.5 1958.4L300.5 1958.3L303.5 1958.0L306.5 1957.5L309.5 1956.4L312.5 1954.5L315.5 1951.8L318.5 1948.3L321.5 1944.2L324.5 1939.9L327.5 1935.5L330.5 1931.2L333.5 1927.4L336.5 1924.2L339.5 1921.8L342.5 1920.3L345.5 1919.5L348.5 1919.6L351.5 1920.3L354.5 1921.3L357.5 1922.3L360.5 1923.2L363.5 1923.6L366.5 1923.3L369.5 1921.9L372.5 1919.0L375.5 1914.1L378.5 1907.2L381.5 1899.1L384.5 1890.5L387.5 1882.3L390.5 1874.6L393.5 1867.8L396.5 1862.0L399.5 1857.5L402.5 1854.2L405.5 1852.1L408.5 1851.2L411.5 1851.3L414.5 1852.6L417.5 1855.0L420.5 1858.5L423.5 1863.3L426.5 1869.4L429.5 1876.5L432.5 1884.5L435.5 1893.4L438.5 1902.8L441.5 1912.3L444.5 1921.5L447.5 1929.9L450.5 1936.8L453.5 1942.4L456.5 1946.6L459.5 1949.8L462.5 1952.0L465.5 1953.4L468.5 1954.2L471.5 1954.6L474.5 1954.9L477.5 1955.2L480.5 1955.9L483.5 1956.8L486.5 1958.1L489.5 1959.5L492.5 1960.8L495.5 1961.9L498.5 1962.7L501.5 1963.0L504.5 1962.7L507.5 1961.6L510.5 1959.7L513.5 1956.8L516.5 1953.0L519.5 1948.7L522.5 1944.0L525.5 1939.2L528.5 1934.4L531.5 1929.8L534.5 1925.5L537.5 1921.6L540.5 1918.2L543.5 1915.5L546.5 1913.6L549.5 1912.7L552.5 1912.8L555.5 1913.9L558.5 1915.9L561.5 1918.7L564.5 1922.1L567.5 1926.0L570.5 1930.2L573.5 1934.4L576.5 1938.4L579.5 1941.9L582.5 1944.6L585.5 1945.8L588.5 1945.1L591.5 1942.4L594.5 1938.4L597.5 1933.7L600.5 1928.7L603.5 1923.7L606.5 1918.8L609.5 1914.0L612.5 1909.7L615.5 1905.9L618.5 1902.8L621.5 1900.4L624.5 1898.8L627.5 1898.0L630.5 1898.3L633.5 1899.5L636.5 1901.6L639.5 1904.5L642.5 1908.2L645.5 1912.5L648.5 1917.4L651.5 1922.4L654.5 1927.5L657.5 1932.3L660.5 1936.7L663.5 1940.4L666.5 1943.6L669.5 1946.4L672.5 1948.9L675.5 1951.1L678.5 1953.3L681.5 1955.4L684.5 1957.4L687.5 1959.3L690.5 1961.1L693.5 1962.9L696.5 1964.6L699.5 1966.3L702.5 1967.9L705.5 1969.4L708.5 1970.8L711.5 1972.2L714.5 1973.5L717.5 1974.6L720.5 1975.6L723.5 1976.4L726.5 1977.1L729.5 1977.6L732.5 1977.8L735.5 1977.9L738.5 1977.5L741.5 1976.8L744.5 1975.4L747.5 1973.3L750.5 1970.3L753.5 1966.5L756.5 1961.8L759.5 1956.1L762.5 1949.4L765.5 1942.1L768.5 1934.3L771.5 1926.5L774.5 1919.0L777.5 1912.1L780.5 1905.9L783.5 1900.3L786.5 1895.4L789.5 1891.3L792.5 1888.0L795.5 1885.7L798.5 1884.5L801.5 1884.3L804.5 1885.2L807.5 1887.2L810.5 1890.4L813.5 1894.7L816.5 1900.0L819.5 1906.4L822.5 1913.2L825.5 1920.2L828.5 1927.1L831.5 1933.3L834.5 1938.5L837.5 1942.4L840.5 1944.5L843.5 1944.5L846.5 1942.2L849.5 1938.1L852.5 1932.9L855.5 1927.0L858.5 1920.9L861.5 1914.8L864.5 1908.7L867.5 1902.7L870.5 1897.0L873.5 1891.7L876.5 1886.8L879.5 1882.5L882.5 1878.9L885.5 1876.1L888.5 1874.2L891.5 1873.1L894.5 1872.9L897.5 1873.7L900.5 1875.4L903.5 1878.2L906.5 1882.2L909.5 1887.4L912.5 1893.7L915.5 1900.9L918.5 1908.8L921.5 1917.2L924.5 1925.8L927.5 1934.3L930.5 1942.0L933.5 1948.5L936.5 1953.3L939.5 1956.2L942.5 1957.4L945.5 1957.0L948.5 1955.3L951.5 1952.9L954.5 1950.0L957.5 1947.2L960.5 1944.8L963.5 1942.9L966.5 1941.7L969.5 1941.0L972.5 1940.8L975.5 1941.1L978.5 1941.9L981.5 1943.1L984.5 1944.9L987.5 1947.2L990.5 1949.9L993.5 1953.1L996.5 1956.6L999.5 1960.2L1002.5 1964.0L1005.5 1967.6L1008.5 1971.0L1011.5 1974.0L1014.5 1976.6L1017.5 1978.8L1020.5 1980.6L1023.5 1981.9L1026.5 1982.8L1029.5 1983.2L1032.5 1983.2L1035.5 1982.5L1038.5 1981.0L1041.5 1978.6L1044.5 1975.0L1047.5 1970.3L1050.5 1964.5L1053.5 1957.7L1056.5 1950.2L1059.5 1942.1L1062.5 1933.7L1065.5 1925.5L1068.5 1917.7L1071.5 1910.8L1074.5 1904.9L1077.5 1899.9L1080.5 1895.7L1083.5 1892.2L1086.5 1889.4L1089.5 1887.1L1092.5 1885.4L1095.5 1884.5L1098.5 1884.2L1101.5 1884.7L1104.5 1886.0L1107.5 1888.1L1110.5 1891.2L1113.5 1895.2L1116.5 1900.1L1119.5 1905.8L1122.5 1912.1L1125.5 1918.6L1128.5 1925.4L1131.5 1932.0L1134.5 1938.5L1137.5 1944.6L1140.5 1950.4L1143.5 1955.7L1146.5 1960.3L1149.5 1964.3L1152.5 1967.6L1155.5 1970.1L1158.5 1971.9L1161.5 1972.9L1164.5 1973.1L1167.5 1972.4L1170.5 1971.1L1173.5 1969.3L1176.5 1967.0L1179.5 1964.5L1182.5 1961.8L1185.5 1959.1L1188.5 1956.6L1191.5 1954.2L1194.5 1952.1L1197.5 1950.4L1200.5 1949.3L1203.5 1948.7L1206.5 1948.9L1209.5 1949.6L1212.5 1950.9L1215.5 1952.7L1218.5 1954.9L1221.5 1957.4L1224.5 1960.1L1227.5 1963.1L1230.5 1966.2L1233.5 1969.3L1236.5 1972.4L1239.5 1975.4L1242.5 1978.2L1245.5 1980.7L1248.5 1982.9L1251.5 1984.8L1254.5 1986.4L1257.5 1987.5L1260.5 1988.1L1263.5 1988.3L1266.5 1988.0L1269.5 1987.2L1272.5 1985.9L1275.5 1984.3L1278.5 1982.2L1281.5 1979.7L1284.5 1976.9L1287.5 1973.8L1290.5 1970.5L1293.5 1967.1L1296.5 1963.6L1299.5 1960.1L1302.5 1956.7L1305.5 1953.5L1308.5 1950.6L1311.5 1948.0L1314.5 1945.9L1317.5 1944.3L1320.5 1943.3L1323.5 1943.1L1326.5 1943.6L1329.5 1944.9L1332.5 1946.7L1335.5 1949.2L1338.5 1952.1L1341.5 1955.5L1344.5 1959.2L1347.5 1963.2L1350.5 1967.3L1353.5 1971.4L1356.5 1975.3L1359.5 1978.9L1362.5 1982.0L1365.5 1984.6L1368.5 1986.7L1371.5 1988.3L1374.5 1989.4L1377.5 1990.1L1380.5 1990.4L1383.5 1990.3L1386.5 1989.9L1389.5 1989.0L1392.5 1987.8L1395.5 1986.2L1398.5 1984.3L1401.5 1981.9L1404.5 1979.1L1407.5 1976.0L1410.5 1972.7L1413.5 1969.3L1416.5 1965.8L1419.5 1962.4L1422.5 1959.3L1425.5 1956.4L1428.5 1953.9L1431.5 1951.8L1434.5 1950.1L1437.5 1948.9L1440.5 1948.1L1443.5 1947.9L1446.5 1948.2L1449.5 1949.0L1452.5 1950.2L1455.5 1951.9L1458.5 1954.0L1461.5 1956.5L1464.5 1959.3L1467.5 1962.3L1470.5 1965.5L1473.5 1968.7L1476.5 1971.7L1479.5 1974.4L1482.5 1976.8L1485.5 1978.5L1488.5 1979.4L1491.5 1979.1L1494.5 1977.4L1497.5 1974.3L1500.5 1969.3L1503.5 1962.4L1506.5 1953.4L1509.5 1942.0L1512.5 1928.3L1515.5 1913.1L1518.5 1897.4L1521.5 1882.1L1524.5 1867.6L1527.5 1854.2L1530.5 1842.1L1533.5 1831.4L1536.5 1822.1L1539.5 1814.0L1542.5 1806.8L1545.5 1800.4L1548.5 1794.6L1551.5 1789.5L1554.5 1785.2L1557.5 1781.8L1560.5 1779.3L1563.5 1777.7L1566.5 1777.1L1569.5 1777.3L1572.5 1778.3L1575.5 1780.2L1578.5 1782.8L1581.5 1786.3L1584.5 1790.6L1587.5 1795.7L1590.5 1801.9L1593.5 1809.2L1596.5 1817.6L1599.5 1827.3L1602.5 1837.9L1605.5 1849.3L1608.5 1861.4L1611.5 1873.9L1614.5 1886.7L1617.5 1899.7L1620.5 1912.6L1623.5 1925.2L1626.5 1937.2L1629.5 1948.0L1632.5 1957.3L1635.5 1964.7L1638.5 1970.3L1641.5 1974.4L1644.5 1977.3L1647.5 1979.3L1650.5 1980.5L1653.5 1981.0L1656.5 1980.8L1659.5 1980.0L1662.5 1978.5L1665.5 1976.2L1668.5 1973.2L1671.5 1969.3L1674.5 1964.6L1677.5 1959.1L1680.5 1952.6L1683.5 1945.4L1686.5 1937.5L1689.5 1929.4L1692.5 1921.2L1695.5 1913.2L1698.5 1905.6L1701.5 1898.5L1704.5 1891.8L1707.5 1885.7L1710.5 1879.9L1713.5 1874.7L1716.5 1870.0L1719.5 1865.9L1722.5 1862.5L1725.5 1859.9L1728.5 1858.1L1731.5 1857.2L1734.5 1857.2L1737.5 1858.1L1740.5 1860.0L1743.5 1862.8L1746.5 1866.6L1749.5 1871.3L1752.5 1876.9L1755.5 1883.1L1758.5 1889.8L1761.5 1896.9L1764.5 1904.2L1767.5 1911.6L1770.5 1919.0L1773.5 1926.2L1776.5 1933.1L1779.5 1939.5L1782.5 1944.7L1785.5 1947.7L1788.5 1947.5L1791.5 1944.6L1794.5 1939.6L1797.5 1933.5L1800.5 1927.1L1803.5 1920.9L1806.5 1915.1L1809.5 1909.6L1812.5 1904.7L1815.5 1900.3L1818.5 1896.6L1821.5 1893.5L1824.5 1891.0L1827.5 1889.1L1830.5 1888.0L1833.5 1887.4L1836.5 1887.6L1839.5 1888.3L1842.5 1889.8L1845.5 1892.0L1848.5 1894.8L1851.5 1898.4L1854.5 1902.7L1857.5 1907.6L1860.5 1913.0L1863.5 1918.8L1866.5 1924.6L1869.5 1930.5L1872.5 1936.2L1875.5 1941.6L1878.5 1946.7L1881.5 1951.4L1884.5 1955.8L1887.5 1959.7L1890.5 1963.2L1893.5 1966.2L1896.5 1968.7L1899.5 1970.7L1902.5 1972.1L1905.5 1972.9L1908.5 1973.1L1911.5 1972.6L1914.5 1971.6L1917.5 1970.1L1920.5 1968.1L1923.5 1965.8L1926.5 1963.3L1929.5 1960.6L1932.5 1957.8L1935.5 1955.0L1938.5 1952.1L1941.5 1949.3L1944.5 1946.5L1947.5 1943.8L1950.5 1941.3L1953.5 1938.9L1956.5 1936.6L1959.5 1934.7L1962.5 1932.9L1965.5 1931.5L1968.5 1930.2L1971.5 1929.2L1974.5 1928.3L1977.5 1927.5L1980.5 1926.8L1983.5 1926.2L1986.5 1925.6L1989.5 1924.9L1992.5 1924.2L1995.5 1923.4L1998.5 1922.6L2001.5 1921.7L2004.5 1920.7L2007.5 1919.7L2010.5 1918.8L2013.5 1917.8L2016.5 1916.9L2019.5 1916.0L2022.5 1915.2L2025.5 1914.5L2028.5 1913.9L2031.5 1913.3L2034.5 1912.9L2037.5 1912.6L2040.5 1912.4L2043.5 1912.3L2046.5 1912.3L2049.5 1912.3L2052.5 1912.4L2055.5 1912.5L2058.5 1912.5L2061.5 1912.4L2064.5 1912.1L2067.5 1911.7L2070.5 1911.1L2073.5 1910.2L2076.5 1909.2L2079.5 1907.9L2082.5 1906.4L2085.5 1904.7L2088.5 1902.8L2091.5 1900.7L2094.5 1898.6L2097.5 1896.5L2100.5 1894.4L2103.5 1892.6L2106.5 1890.9L2109.5 1889.5L2112.5 1888.4L2115.5 1887.6L2118.5 1887.0L2121.5 1886.6L2124.5 1886.4L2127.5 1886.4L2130.5 1886.5L2133.5 1886.8L2136.5 1887.3L2139.5 1887.9L2142.5 1888.6L2145.5 1889.5L2148.5 1890.5L2151.5 1891.6L2154.5 1892.8L2157.5 1893.9L2160.5 1895.0L2163.5 1895.8L2166.5 1896.4L2169.5 1896.5L2172.5 1896.2L2175.5 1895.4L2178.5 1894.4L2181.5 1893.1L2184.5 1891.5L2187.5 1889.9L2190.5 1888.2L2193.5 1886.5L2196.5 1884.9L2199.5 1883.4L2202.5 1882.2L2203.8 1881.7" fill="none" stroke="#ff0000" stroke-width="12.3" stroke-linecap="round" stroke-linejoin="round"/></g>
<rect x="197.5" y="105.5" width="2094.9" height="517.0" fill="none" stroke="#000" stroke-width="4.8" stroke-linejoin="round"/>
<rect x="197.5" y="622.5" width="2094.9" height="518.5" fill="none" stroke="#000" stroke-width="4.8" stroke-linejoin="round"/>
<rect x="197.5" y="1141.0" width="2094.9" height="518.5" fill="none" stroke="#000" stroke-width="4.8" stroke-linejoin="round"/>
<rect x="197.5" y="1659.5" width="2094.9" height="518.9000000000001" fill="none" stroke="#000" stroke-width="4.8" stroke-linejoin="round"/>
<path d="M411.4 105.5V83.0M623.2 105.5V83.0M797.6 105.5V83.0M898.8 105.5V83.0M1095.9 105.5V83.0M1419.2 105.5V83.0M1568.1 105.5V83.0M1779.9 105.5V83.0M473.8 622.5v22M473.8 1141.0v22M473.8 1659.5v22M473.8 2178.4v22M971.6 622.5v22M971.6 1141.0v22M971.6 1659.5v22M971.6 2178.4v22M1469.4 622.5v22M1469.4 1141.0v22M1469.4 1659.5v22M1469.4 2178.4v22M1967.2 622.5v22M1967.2 1141.0v22M1967.2 1659.5v22M1967.2 2178.4v22M197.5 227.7h-21.7M197.5 402.9h-21.7M197.5 578.5h-21.7M197.5 755.5h-21.7M197.5 939.4h-21.7M197.5 1122.7h-21.7M197.5 1263.9h-21.7M197.5 1439.4h-21.7M197.5 1614.7h-21.7M197.5 1756.4h-21.7M197.5 1947.1h-21.7M197.5 2138.4h-21.7" fill="none" stroke="#000" stroke-width="4.0" stroke-linecap="round"/>
<text transform="translate(411.4 52.0)" x="-26.5" font-family="Liberation Sans, Arial, Helvetica, sans-serif" font-weight="700" font-size="58.52" textLength="52.9" lengthAdjust="spacingAndGlyphs">Si</text>
<text transform="translate(623.2 52.0)" x="-28.0" font-family="Liberation Sans, Arial, Helvetica, sans-serif" font-weight="700" font-size="58.52" textLength="56.0" lengthAdjust="spacingAndGlyphs">Cl</text>
<text transform="translate(797.6 52.0)" x="-20.2" font-family="Liberation Sans, Arial, Helvetica, sans-serif" font-weight="700" font-size="58.52" textLength="40.4" lengthAdjust="spacingAndGlyphs">K</text>
<text transform="translate(1095.9 52.0)" x="-24.4" font-family="Liberation Sans, Arial, Helvetica, sans-serif" font-weight="700" font-size="58.52" textLength="48.8" lengthAdjust="spacingAndGlyphs">Ti</text>
<text transform="translate(1419.2 52.0)" x="-40.4" font-family="Liberation Sans, Arial, Helvetica, sans-serif" font-weight="700" font-size="58.52" textLength="80.9" lengthAdjust="spacingAndGlyphs">Mn</text>
<text transform="translate(1568.1 52.0)" x="-32.7" font-family="Liberation Sans, Arial, Helvetica, sans-serif" font-weight="700" font-size="58.52" textLength="65.4" lengthAdjust="spacingAndGlyphs">Fe</text>
<text transform="translate(1779.9 52.0)" x="-38.9" font-family="Liberation Sans, Arial, Helvetica, sans-serif" font-weight="700" font-size="58.52" textLength="77.8" lengthAdjust="spacingAndGlyphs">DP</text>
<text transform="translate(473.8 2259.0)" x="-15.6" font-family="Liberation Sans, Arial, Helvetica, sans-serif" font-weight="700" font-size="58.52" textLength="31.1" lengthAdjust="spacingAndGlyphs">2</text>
<text transform="translate(971.6 2259.0)" x="-15.6" font-family="Liberation Sans, Arial, Helvetica, sans-serif" font-weight="700" font-size="58.52" textLength="31.1" lengthAdjust="spacingAndGlyphs">4</text>
<text transform="translate(1469.4 2259.0)" x="-15.6" font-family="Liberation Sans, Arial, Helvetica, sans-serif" font-weight="700" font-size="58.52" textLength="31.1" lengthAdjust="spacingAndGlyphs">6</text>
<text transform="translate(1967.2 2259.0)" x="-15.6" font-family="Liberation Sans, Arial, Helvetica, sans-serif" font-weight="700" font-size="58.52" textLength="31.1" lengthAdjust="spacingAndGlyphs">8</text>
<text transform="translate(145.3 227.7) rotate(-90)" x="-62.3" font-family="Liberation Sans, Arial, Helvetica, sans-serif" font-weight="700" font-size="58.52" textLength="124.6" lengthAdjust="spacingAndGlyphs">10e4</text>
<text transform="translate(145.3 402.9) rotate(-90)" x="-62.3" font-family="Liberation Sans, Arial, Helvetica, sans-serif" font-weight="700" font-size="58.52" textLength="124.6" lengthAdjust="spacingAndGlyphs">10e2</text>
<text transform="translate(145.3 578.5) rotate(-90)" x="-62.3" font-family="Liberation Sans, Arial, Helvetica, sans-serif" font-weight="700" font-size="58.52" textLength="124.6" lengthAdjust="spacingAndGlyphs">10e0</text>
<text transform="translate(145.3 755.5) rotate(-90)" x="-62.3" font-family="Liberation Sans, Arial, Helvetica, sans-serif" font-weight="700" font-size="58.52" textLength="124.6" lengthAdjust="spacingAndGlyphs">10e4</text>
<text transform="translate(145.3 939.4) rotate(-90)" x="-62.3" font-family="Liberation Sans, Arial, Helvetica, sans-serif" font-weight="700" font-size="58.52" textLength="124.6" lengthAdjust="spacingAndGlyphs">10e2</text>
<text transform="translate(145.3 1122.7) rotate(-90)" x="-62.3" font-family="Liberation Sans, Arial, Helvetica, sans-serif" font-weight="700" font-size="58.52" textLength="124.6" lengthAdjust="spacingAndGlyphs">10e0</text>
<text transform="translate(145.3 1263.9) rotate(-90)" x="-62.3" font-family="Liberation Sans, Arial, Helvetica, sans-serif" font-weight="700" font-size="58.52" textLength="124.6" lengthAdjust="spacingAndGlyphs">10e4</text>
<text transform="translate(145.3 1439.4) rotate(-90)" x="-62.3" font-family="Liberation Sans, Arial, Helvetica, sans-serif" font-weight="700" font-size="58.52" textLength="124.6" lengthAdjust="spacingAndGlyphs">10e2</text>
<text transform="translate(145.3 1614.7) rotate(-90)" x="-62.3" font-family="Liberation Sans, Arial, Helvetica, sans-serif" font-weight="700" font-size="58.52" textLength="124.6" lengthAdjust="spacingAndGlyphs">10e0</text>
<text transform="translate(145.3 1756.4) rotate(-90)" x="-62.3" font-family="Liberation Sans, Arial, Helvetica, sans-serif" font-weight="700" font-size="58.52" textLength="124.6" lengthAdjust="spacingAndGlyphs">10e4</text>
<text transform="translate(145.3 1947.1) rotate(-90)" x="-62.3" font-family="Liberation Sans, Arial, Helvetica, sans-serif" font-weight="700" font-size="58.52" textLength="124.6" lengthAdjust="spacingAndGlyphs">10e2</text>
<text transform="translate(145.3 2138.4) rotate(-90)" x="-62.3" font-family="Liberation Sans, Arial, Helvetica, sans-serif" font-weight="700" font-size="58.52" textLength="124.6" lengthAdjust="spacingAndGlyphs">10e0</text>
<text transform="translate(341.5 195.4)" x="0.0" font-family="Liberation Sans, Arial, Helvetica, sans-serif" font-weight="700" font-size="58.52" textLength="649.5" lengthAdjust="spacingAndGlyphs">Colle del Lys – Saharian</text>
<text transform="translate(352.7 1231.0)" x="0.0" font-family="Liberation Sans, Arial, Helvetica, sans-serif" font-weight="700" font-size="58.52" textLength="547.5" lengthAdjust="spacingAndGlyphs">Talos Dome – TD588</text>
<text transform="translate(979.7 2324.8)" x="0.0" font-family="Liberation Sans, Arial, Helvetica, sans-serif" font-size="88.20" textLength="483.2" lengthAdjust="spacingAndGlyphs">Energy [keV]</text>
<text transform="translate(77.8 1346.5) rotate(-90)" x="0.0" font-family="Liberation Sans, Arial, Helvetica, sans-serif" font-size="88.20" textLength="478.5" lengthAdjust="spacingAndGlyphs">Counts [a.u.]</text>
<text transform="translate(1524.8 162.8)" x="0.0" font-family="Liberation Sans, Arial, Helvetica, sans-serif" font-size="49.01" textLength="753.0" lengthAdjust="spacingAndGlyphs">TXRF with Conventional X−ray Tube</text>
<text transform="translate(1844.7 237.8)" x="0.0" font-family="Liberation Sans, Arial, Helvetica, sans-serif" font-size="49.01" textLength="273.7" lengthAdjust="spacingAndGlyphs">Experimental</text>
<text transform="translate(1844.7 295.8)" x="0.0" font-family="Liberation Sans, Arial, Helvetica, sans-serif" font-size="49.01" textLength="52.1" lengthAdjust="spacingAndGlyphs">Fit</text>
<text transform="translate(1585.3 680.8)" x="0.0" font-family="Liberation Sans, Arial, Helvetica, sans-serif" font-size="49.01" textLength="697.0" lengthAdjust="spacingAndGlyphs">TXRF with Synchrotron Radiation</text>
<text transform="translate(1872.6 755.8)" x="0.0" font-family="Liberation Sans, Arial, Helvetica, sans-serif" font-size="49.01" textLength="273.7" lengthAdjust="spacingAndGlyphs">Experimental</text>
<text transform="translate(1872.6 813.8)" x="0.0" font-family="Liberation Sans, Arial, Helvetica, sans-serif" font-size="49.01" textLength="52.1" lengthAdjust="spacingAndGlyphs">Fit</text>
<text transform="translate(1524.8 1199.3)" x="0.0" font-family="Liberation Sans, Arial, Helvetica, sans-serif" font-size="49.01" textLength="753.0" lengthAdjust="spacingAndGlyphs">TXRF with Conventional X−ray Tube</text>
<text transform="translate(1844.7 1274.3)" x="0.0" font-family="Liberation Sans, Arial, Helvetica, sans-serif" font-size="49.01" textLength="273.7" lengthAdjust="spacingAndGlyphs">Experimental</text>
<text transform="translate(1844.7 1332.3)" x="0.0" font-family="Liberation Sans, Arial, Helvetica, sans-serif" font-size="49.01" textLength="52.1" lengthAdjust="spacingAndGlyphs">Fit</text>
<text transform="translate(1585.3 1717.8)" x="0.0" font-family="Liberation Sans, Arial, Helvetica, sans-serif" font-size="49.01" textLength="697.0" lengthAdjust="spacingAndGlyphs">TXRF with Synchrotron Radiation</text>
<text transform="translate(1872.6 1792.8)" x="0.0" font-family="Liberation Sans, Arial, Helvetica, sans-serif" font-size="49.01" textLength="273.7" lengthAdjust="spacingAndGlyphs">Experimental</text>
<text transform="translate(1872.6 1850.8)" x="0.0" font-family="Liberation Sans, Arial, Helvetica, sans-serif" font-size="49.01" textLength="52.1" lengthAdjust="spacingAndGlyphs">Fit</text>
</svg>
</body></html>
